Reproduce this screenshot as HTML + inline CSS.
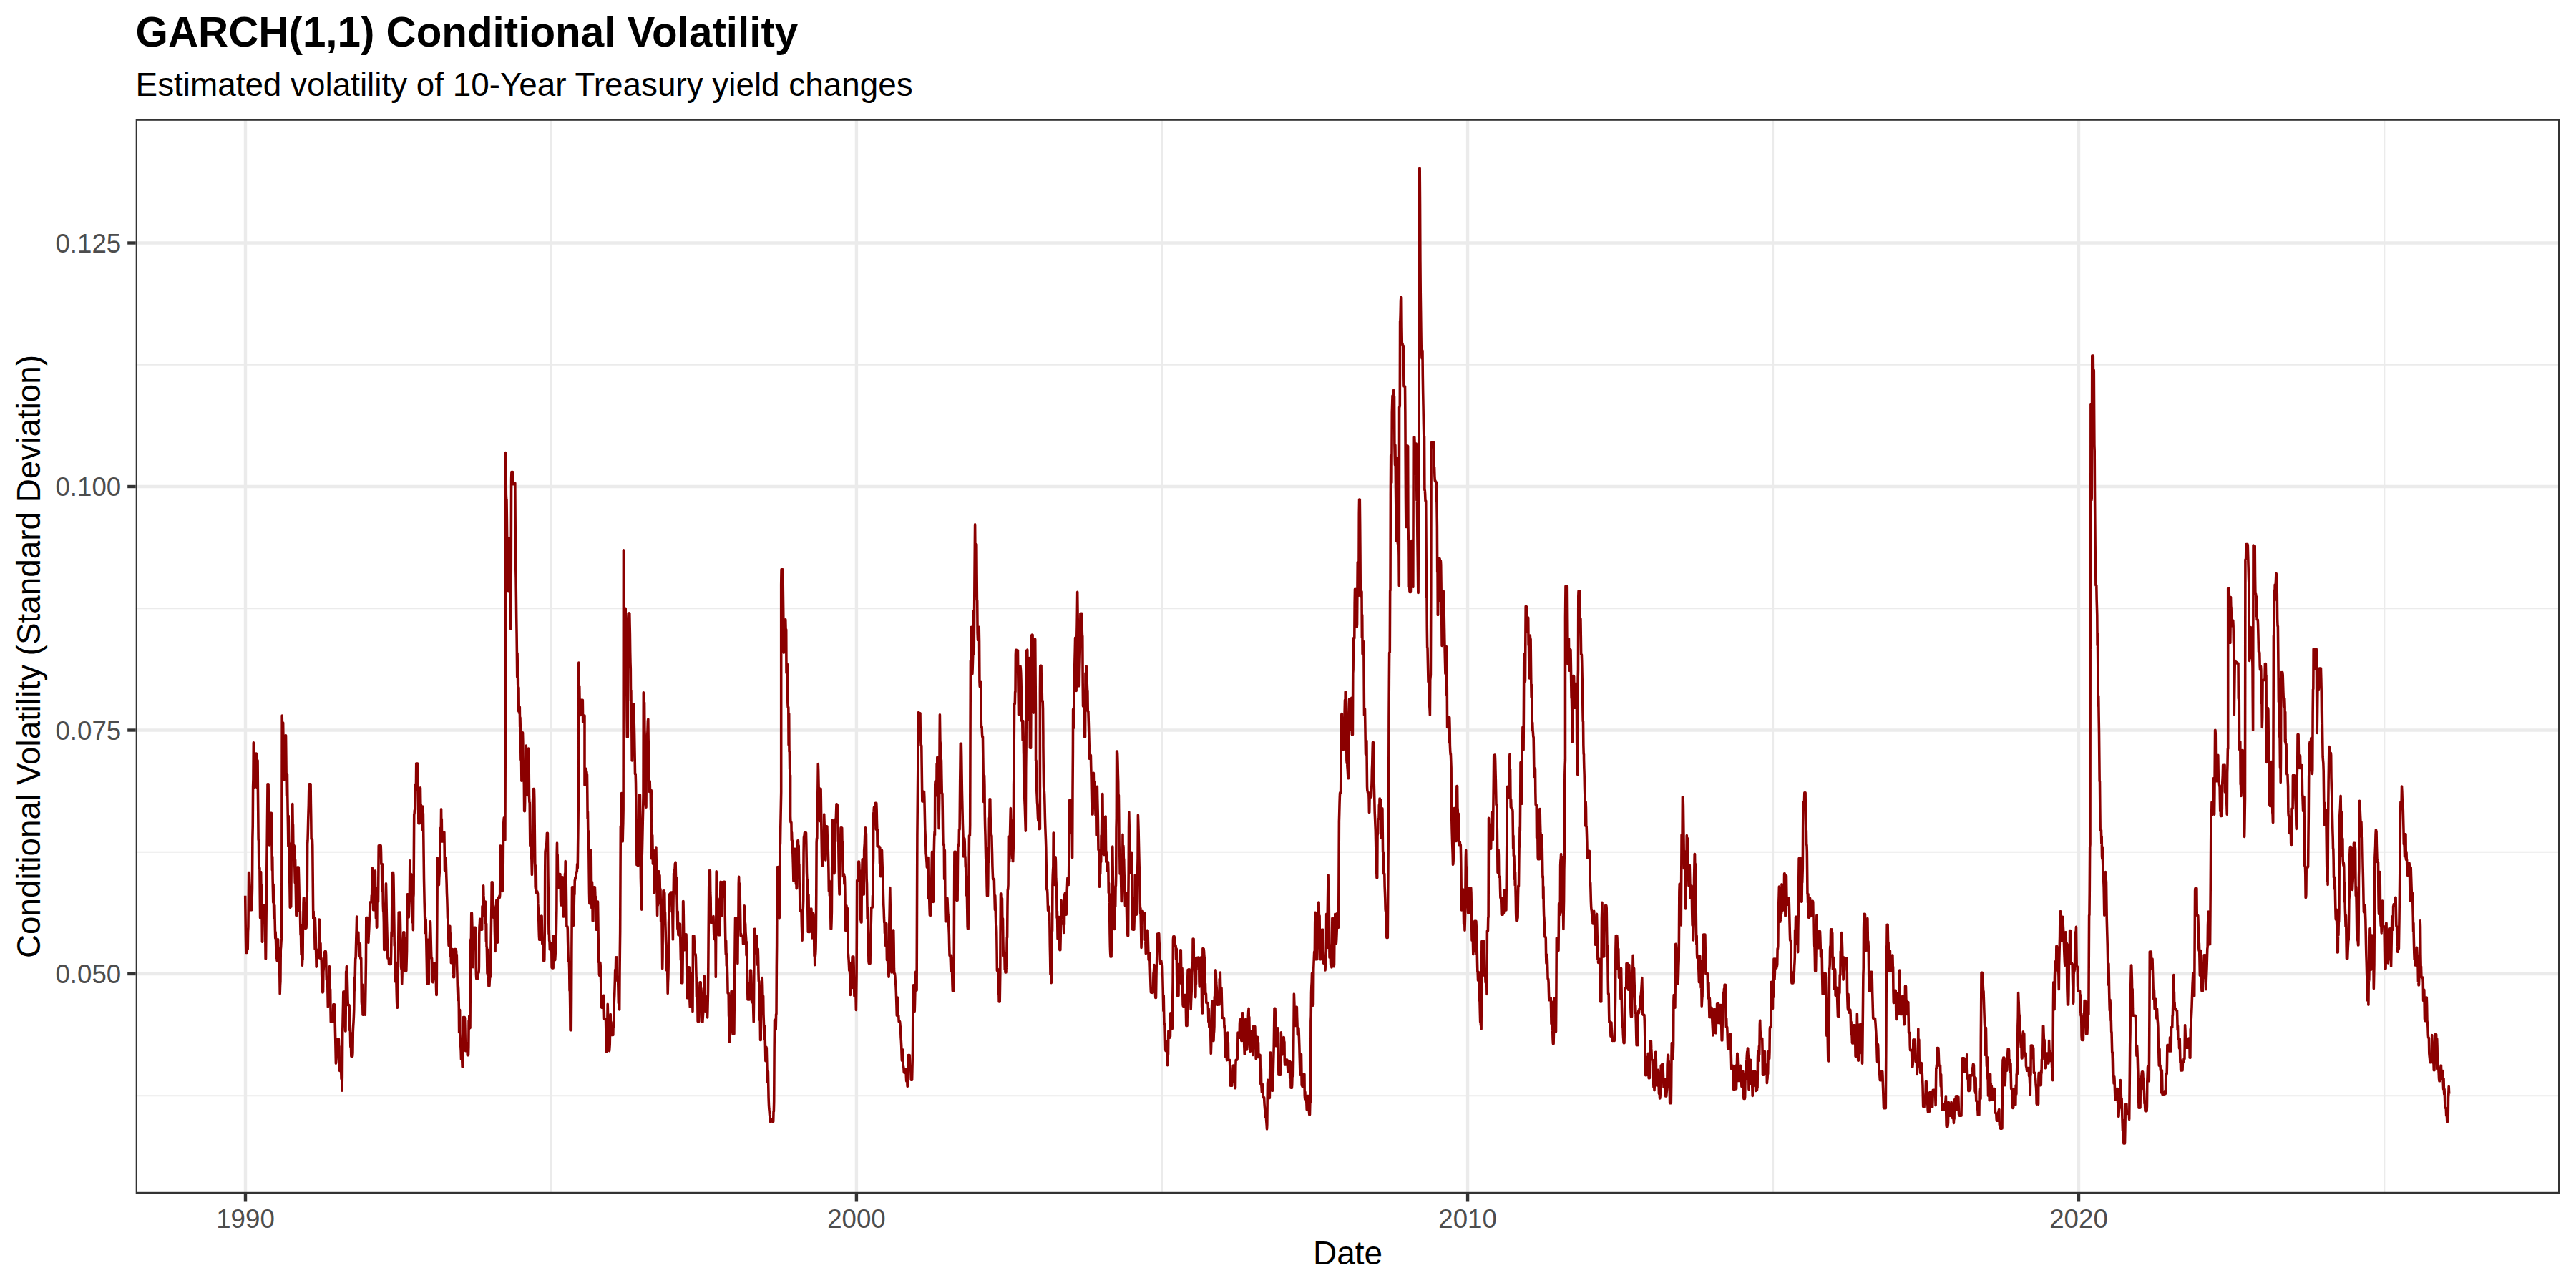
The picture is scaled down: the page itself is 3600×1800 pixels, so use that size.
<!DOCTYPE html>
<html><head><meta charset="utf-8"><title>GARCH(1,1) Conditional Volatility</title>
<style>
html,body{margin:0;padding:0;background:#fff;}
body{width:3600px;height:1800px;overflow:hidden;}
svg{display:block;}
text{font-family:"Liberation Sans",Arial,Helvetica,sans-serif;}
.tk{font-size:36.67px;fill:#4d4d4d;}
.ttl{font-size:58.33px;font-weight:bold;fill:#000;}
.sub{font-size:45.83px;fill:#000;}
.ax{font-size:45.83px;fill:#000;}
</style></head><body>
<svg width="3600" height="1800" viewBox="0 0 3600 1800">
<rect width="3600" height="1800" fill="#fff"/>
<text x="189.6" y="65.2" class="ttl" id="ttl">GARCH(1,1) Conditional Volatility</text>
<text x="189.6" y="134.3" class="sub" id="sub">Estimated volatility of 10-Year Treasury yield changes</text>
<g id="grid">
<line x1="189.7" x2="3577.2" y1="1531.25" y2="1531.25" stroke="#ebebeb" stroke-width="2.2"/>
<line x1="189.7" x2="3577.2" y1="1190.75" y2="1190.75" stroke="#ebebeb" stroke-width="2.2"/>
<line x1="189.7" x2="3577.2" y1="850.25" y2="850.25" stroke="#ebebeb" stroke-width="2.2"/>
<line x1="189.7" x2="3577.2" y1="509.75" y2="509.75" stroke="#ebebeb" stroke-width="2.2"/>
<line y1="166.6" y2="1668.0" x1="769.96" x2="769.96" stroke="#ebebeb" stroke-width="2.2"/>
<line y1="166.6" y2="1668.0" x1="1624.12" x2="1624.12" stroke="#ebebeb" stroke-width="2.2"/>
<line y1="166.6" y2="1668.0" x1="2478.04" x2="2478.04" stroke="#ebebeb" stroke-width="2.2"/>
<line y1="166.6" y2="1668.0" x1="3332.19" x2="3332.19" stroke="#ebebeb" stroke-width="2.2"/>
<line x1="189.7" x2="3577.2" y1="1361.00" y2="1361.00" stroke="#ebebeb" stroke-width="4.4"/>
<line x1="189.7" x2="3577.2" y1="1020.50" y2="1020.50" stroke="#ebebeb" stroke-width="4.4"/>
<line x1="189.7" x2="3577.2" y1="680.00" y2="680.00" stroke="#ebebeb" stroke-width="4.4"/>
<line x1="189.7" x2="3577.2" y1="339.50" y2="339.50" stroke="#ebebeb" stroke-width="4.4"/>
<line y1="166.6" y2="1668.0" x1="343.00" x2="343.00" stroke="#ebebeb" stroke-width="4.4"/>
<line y1="166.6" y2="1668.0" x1="1196.92" x2="1196.92" stroke="#ebebeb" stroke-width="4.4"/>
<line y1="166.6" y2="1668.0" x1="2051.08" x2="2051.08" stroke="#ebebeb" stroke-width="4.4"/>
<line y1="166.6" y2="1668.0" x1="2905.00" x2="2905.00" stroke="#ebebeb" stroke-width="4.4"/>
</g>
<polyline id="ln" fill="none" stroke="#8b0000" stroke-width="3.56" stroke-linejoin="round" stroke-linecap="butt" points="342.7,1251.7 343.06,1281.8 343.41,1310.8 343.77,1331.4 344.13,1328.4 344.49,1331.4 344.84,1331.4 345.2,1331.4 345.54,1324.2 345.89,1327 346.23,1326 346.58,1302.5 346.92,1295.6 347.27,1262.1 347.61,1219.5 347.96,1220.2 348.3,1219.5 348.65,1231.5 349,1239.3 349.35,1255 349.7,1267.5 350.05,1271.8 350.4,1260.4 350.75,1269.5 351.1,1271.8 351.45,1271.8 351.8,1271.8 352.16,1257.2 352.51,1241.7 352.87,1171.6 353.23,1154.5 353.59,1099.5 353.94,1088.5 354.3,1037.9 354.63,1054.4 354.97,1096 355.3,1100.3 355.63,1100.3 355.97,1100.3 356.3,1100.3 356.68,1067.4 357.05,1079.6 357.43,1092.8 357.8,1053 358.12,1094.7 358.45,1053.7 358.77,1053.3 359.1,1090.8 359.43,1100.6 359.75,1082.2 360.07,1062.7 360.4,1101.9 360.76,1135.2 361.11,1173.2 361.47,1175.1 361.83,1212.5 362.19,1212.6 362.54,1212.9 362.9,1212.9 363.25,1250.6 363.6,1282.8 363.95,1255.4 364.3,1239.6 364.65,1218.5 365,1252.8 365.35,1236.2 365.7,1241.7 366.05,1282.1 366.4,1316.3 366.72,1315.9 367.05,1286.8 367.38,1284.9 367.7,1265 368.02,1265 368.35,1265 368.68,1265 369,1265 369.36,1276.9 369.71,1265 370.07,1289.6 370.43,1275.9 370.79,1311.5 371.14,1340 371.5,1340 371.86,1306.6 372.21,1270.8 372.57,1237.6 372.93,1201.6 373.29,1167.8 373.64,1133.1 374,1095.9 374.36,1113.6 374.71,1134.1 375.07,1095.9 375.43,1119.7 375.79,1137.4 376.14,1157.6 376.5,1181 376.86,1136.3 377.21,1136.3 377.57,1136.3 377.93,1136.3 378.29,1136.3 378.64,1136.3 379,1136.3 379.35,1136.3 379.7,1158.1 380.05,1188.4 380.4,1216.1 380.75,1197.4 381.1,1228 381.43,1245 381.77,1261.3 382.1,1236 382.43,1258.2 382.77,1281.4 383.1,1271 383.43,1283.5 383.77,1265.3 384.1,1283.5 384.43,1299.3 384.77,1311.1 385.1,1302.5 385.43,1310.1 385.77,1323.1 386.1,1338.4 386.43,1325.4 386.77,1332.9 387.1,1342.5 387.48,1317.9 387.85,1313.8 388.23,1312.9 388.6,1312.9 388.93,1328.6 389.25,1344.2 389.57,1325.5 389.9,1341.1 390.23,1327.4 390.55,1346.3 390.88,1367.4 391.2,1388.9 391.56,1377.2 391.91,1371.7 392.27,1327.2 392.63,1323.5 392.99,1316.5 393.34,1311.7 393.7,1303.7 394.2,1000 394.56,1017.1 394.91,1042.8 395.27,1067.1 395.63,1010 395.99,1037.9 396.34,1063.2 396.7,1090.2 397.06,1088.2 397.41,1036.9 397.77,1040.6 398.13,1034.2 398.49,1028.2 398.84,1027.8 399.2,1027.8 399.52,1027.8 399.85,1056.7 400.18,1089.3 400.5,1112 400.82,1112 401.15,1112 401.48,1081.6 401.8,1112 402.15,1134.9 402.5,1155.7 402.85,1182.6 403.2,1140.3 403.55,1162.7 403.9,1181.4 404.25,1203.6 404.6,1220.1 404.95,1242.5 405.3,1268.3 405.65,1268.3 406,1263.2 406.35,1262.2 406.7,1267.3 407.05,1221.7 407.4,1177.9 407.75,1182.7 408.1,1180.6 408.45,1127.9 408.8,1123.6 409.16,1152.8 409.51,1152.6 409.87,1182.6 410.23,1182.6 410.59,1182.6 410.94,1181.4 411.3,1182.6 411.62,1200.8 411.95,1218.8 412.27,1233.8 412.6,1201.6 412.93,1220.8 413.25,1241 413.57,1256.9 413.9,1279.4 414.23,1279.4 414.57,1279.4 414.9,1243.1 415.23,1248.4 415.57,1212 415.9,1212 416.23,1212 416.57,1212 416.9,1212 417.26,1212 417.61,1224.4 417.97,1239.3 418.33,1261.4 418.69,1273.4 419.04,1273.4 419.4,1273.4 419.73,1291.8 420.07,1306.5 420.4,1296.6 420.73,1319.9 421.07,1334 421.4,1292.6 421.73,1313.6 422.07,1331.5 422.4,1349.1 422.72,1340.6 423.05,1340.7 423.38,1298.1 423.7,1293.7 424.02,1263.4 424.35,1254.9 424.68,1254.9 425,1254.9 425.33,1270.3 425.67,1286.8 426,1297.1 426.33,1262.2 426.67,1281.7 427,1297.1 427.33,1297.1 427.67,1297.1 428,1297 428.33,1290 428.67,1287.5 429,1247.3 429.33,1246.5 429.67,1179 430,1175 430.33,1162.4 430.67,1147.6 431,1135.9 431.33,1125.8 431.67,1106.3 432,1095.9 432.34,1095.9 432.69,1095.9 433.03,1095.9 433.38,1095.9 433.72,1095.9 434.07,1095.9 434.41,1122.9 434.76,1143.4 435.1,1172.5 435.43,1172.5 435.77,1172.5 436.1,1172.5 436.43,1172.5 436.77,1181.6 437.1,1217.9 437.43,1252.5 437.77,1283.5 438.1,1273.2 438.43,1283.5 438.77,1283.5 439.1,1283.5 439.43,1300.5 439.77,1308.8 440.1,1326.3 440.43,1283.5 440.77,1294.7 441.1,1305 441.43,1322.4 441.77,1335 442.1,1351.1 442.44,1348.7 442.78,1349.8 443.12,1329.8 443.47,1327.5 443.81,1330.7 444.15,1329.8 444.49,1330.6 444.83,1332.4 445.18,1338.5 445.52,1337.4 445.86,1285.1 446.2,1285.1 446.56,1302.3 446.91,1322.4 447.27,1339.1 447.63,1339.1 447.99,1318.4 448.34,1339.1 448.7,1339.1 449.06,1339.1 449.41,1347.8 449.77,1367.5 450.13,1346.5 450.49,1371.4 450.84,1386.9 451.2,1386.9 451.53,1385.5 451.87,1357.9 452.2,1354.4 452.53,1347.1 452.87,1340.1 453.2,1334.3 453.53,1334.3 453.87,1330.2 454.2,1329.6 454.55,1348.8 454.9,1329.6 455.25,1329.6 455.6,1334.5 455.95,1353 456.3,1369.3 456.63,1369.3 456.97,1369.3 457.3,1369.3 457.63,1369.3 457.97,1388.6 458.3,1407.1 458.63,1397.5 458.97,1391.3 459.3,1380.5 459.63,1368.5 459.97,1357.3 460.3,1350.7 460.63,1350.7 460.97,1370.3 461.3,1395.2 461.63,1382.5 461.97,1408.8 462.3,1428.3 462.63,1415.3 462.97,1428.3 463.3,1428.3 463.66,1428.3 464.01,1428.3 464.37,1428.3 464.73,1428.3 465.09,1428.3 465.44,1428.3 465.8,1403.7 466.13,1403.7 466.45,1403.7 466.78,1403.7 467.11,1403.7 467.44,1403.7 467.76,1407.8 468.09,1422.8 468.42,1439.2 468.75,1453.1 469.07,1469.1 469.4,1486.3 469.76,1483.9 470.11,1479.6 470.47,1475.8 470.83,1469.7 471.19,1461.4 471.54,1459.8 471.9,1451.7 472.26,1452.7 472.61,1451.7 472.97,1451.7 473.33,1451.7 473.69,1462.1 474.04,1462.1 474.4,1495.5 474.73,1496.5 475.05,1495.5 475.38,1495.5 475.71,1495.5 476.04,1495.5 476.36,1495.5 476.69,1495.5 477.02,1507.6 477.35,1495.5 477.67,1502.2 478,1524.2 478.38,1504.6 478.75,1440.2 479.12,1421.9 479.5,1404.7 479.83,1386.1 480.17,1386.1 480.5,1386.1 480.83,1386.1 481.17,1393.9 481.5,1386.1 481.88,1406.1 482.25,1428.4 482.62,1440.9 483,1440.9 483.33,1400.3 483.67,1357.7 484,1366 484.33,1350.7 484.67,1350.7 485,1350.7 485.34,1367.4 485.69,1381.5 486.03,1396.6 486.38,1404.7 486.72,1404.7 487.07,1404.7 487.41,1404.2 487.76,1404.7 488.1,1404.7 488.45,1422.4 488.79,1439.9 489.14,1426 489.48,1445.8 489.83,1463 490.18,1449.7 490.52,1463.4 490.87,1476.2 491.22,1444.3 491.56,1457.8 491.91,1471.9 492.25,1476.2 492.6,1476.2 492.96,1471.3 493.31,1441.6 493.67,1433.8 494.03,1428.1 494.39,1420.3 494.74,1410.5 495.1,1384.5 495.43,1384.5 495.77,1365.8 496.1,1373.4 496.43,1352.9 496.77,1339.1 497.1,1339.1 497.48,1323.3 497.85,1309.7 498.23,1297.9 498.6,1281.1 498.93,1288.8 499.25,1303.7 499.57,1318.9 499.9,1318.9 500.23,1312.1 500.55,1318.9 500.88,1303.1 501.2,1318.9 501.56,1336.3 501.91,1318.9 502.27,1318.9 502.63,1335.1 502.99,1318.9 503.34,1319.5 503.7,1339.1 504.03,1339.1 504.37,1339.1 504.7,1339.1 505.03,1368.5 505.37,1400.6 505.7,1404.7 506.03,1400.9 506.37,1376.1 506.7,1404.7 507.03,1418.2 507.35,1418.2 507.68,1418.2 508.01,1418.2 508.34,1404.7 508.66,1404.7 508.99,1404.7 509.32,1404.7 509.65,1404.7 509.97,1404.7 510.3,1418.2 510.68,1396.3 511.05,1372.9 511.43,1344 511.8,1282.6 512.13,1282.6 512.47,1282.6 512.8,1282.6 513.13,1282.6 513.47,1282.6 513.8,1286.8 514.13,1297.3 514.47,1305.9 514.8,1317.3 515.16,1309.1 515.51,1303.4 515.87,1296.2 516.23,1284.7 516.59,1278 516.94,1267.4 517.3,1260.8 517.63,1260.8 517.97,1260.8 518.3,1260.8 518.63,1260.8 518.97,1260.8 519.3,1251.3 519.63,1256.7 519.97,1213 520.3,1213 520.62,1234.5 520.95,1232.5 521.27,1260.4 521.6,1271.8 521.92,1271.8 522.25,1271.8 522.57,1271.8 522.9,1271.8 523.27,1234.9 523.65,1238.6 524.02,1217 524.4,1217 524.73,1243.6 525.07,1265.1 525.4,1283.2 525.73,1244.6 526.07,1267.7 526.4,1296.1 526.76,1296.1 527.11,1240.9 527.47,1243 527.83,1246.9 528.19,1248.7 528.54,1259.7 528.9,1215.4 529.23,1181.7 529.57,1181.7 529.9,1181.7 530.23,1181.7 530.57,1181.7 530.9,1181.7 531.23,1193.9 531.55,1181.7 531.88,1187 532.2,1181.7 532.52,1190.6 532.85,1207.8 533.17,1207.8 533.5,1207.8 533.86,1245 534.21,1229.3 534.57,1207.8 534.93,1233.5 535.29,1263.7 535.64,1273.4 536,1273.4 536.38,1288.9 536.75,1327.4 537.12,1327.4 537.5,1327.4 537.83,1306.6 538.17,1293.5 538.5,1282.3 538.83,1263.1 539.17,1248.8 539.5,1234.7 539.84,1251.1 540.19,1270.9 540.53,1287.3 540.88,1300 541.22,1312.7 541.57,1326.1 541.91,1339.1 542.26,1339.1 542.6,1339.1 542.93,1339.1 543.27,1341.3 543.6,1347.5 543.93,1347.5 544.27,1347.5 544.6,1347.5 544.93,1347.5 545.27,1347.5 545.6,1347.5 545.96,1347.5 546.31,1347.5 546.67,1330.2 547.03,1302.5 547.39,1309.1 547.74,1269.4 548.1,1219.5 548.46,1219.5 548.81,1219.5 549.17,1219.5 549.53,1219.5 549.89,1223.5 550.24,1244.5 550.6,1273.4 550.93,1294.4 551.25,1321.5 551.58,1316.9 551.9,1337.9 552.23,1360.5 552.55,1371.9 552.88,1344.9 553.2,1371.9 553.56,1371.9 553.91,1371.9 554.27,1388.8 554.63,1401.4 554.99,1408.1 555.34,1398 555.7,1408.1 556.08,1375.3 556.45,1341.5 556.83,1306.4 557.2,1275 557.53,1300.5 557.87,1288.5 558.2,1275 558.53,1275 558.87,1275 559.2,1275 559.53,1291.3 559.87,1310.8 560.2,1329 560.58,1350.6 560.95,1354.3 561.33,1348.3 561.7,1375.3 562.05,1362.7 562.4,1349 562.75,1337.3 563.1,1329.2 563.45,1314.2 563.8,1302.8 564.13,1302.8 564.47,1302.8 564.8,1302.8 565.13,1317.9 565.47,1311.4 565.8,1325.4 566.13,1343.3 566.47,1356.6 566.8,1356.6 567.13,1356.6 567.47,1356.6 567.8,1356.6 568.17,1343.7 568.55,1329.2 568.92,1283 569.3,1249.8 569.63,1249.8 569.97,1249.8 570.3,1263 570.63,1281.9 570.97,1256.6 571.3,1281.9 571.67,1271.1 572.05,1258.8 572.42,1249.8 572.8,1202.9 573.12,1228.4 573.45,1224.5 573.77,1248.2 574.1,1222 574.42,1221.3 574.75,1245.9 575.07,1222.1 575.4,1248.2 575.73,1266.7 576.07,1288.9 576.4,1274.1 576.73,1255.3 577.07,1278.6 577.4,1299.6 577.73,1254.7 578.07,1249.3 578.4,1189.1 578.73,1138.4 579.07,1137.4 579.4,1132.1 579.73,1132.1 580.07,1132.1 580.4,1132.1 580.73,1096.1 581.07,1102.2 581.4,1103.6 581.73,1067.1 582.07,1067.1 582.4,1067.1 582.76,1067.1 583.11,1076.1 583.47,1067.1 583.83,1068.2 584.19,1095 584.54,1121.5 584.9,1150.7 585.23,1148.2 585.55,1150.7 585.88,1150.7 586.2,1150.7 586.52,1150.7 586.85,1103.5 587.17,1104 587.5,1100.9 587.86,1127.1 588.21,1124 588.57,1127.1 588.93,1127.1 589.29,1127.1 589.64,1127.1 590,1127.1 590.36,1159.4 590.71,1127.1 591.07,1152.7 591.43,1136.8 591.79,1168 592.14,1197.6 592.5,1228 592.83,1244.5 593.17,1261.7 593.5,1274.4 593.83,1289.4 594.17,1303.7 594.5,1282.3 594.83,1293 595.17,1285.3 595.5,1303.7 595.83,1318.2 596.15,1335.5 596.48,1352.6 596.81,1375.3 597.14,1346 597.46,1343.6 597.79,1313.3 598.12,1327.6 598.45,1341.1 598.77,1359.1 599.1,1375.3 599.43,1369.6 599.77,1325.5 600.1,1319 600.43,1308.9 600.77,1300.3 601.1,1287.7 601.46,1287.7 601.81,1299 602.17,1314 602.53,1328 602.89,1339.1 603.24,1339.1 603.6,1339.1 603.98,1357.9 604.35,1358 604.73,1372.8 605.1,1372.8 605.45,1372.8 605.8,1345.7 606.15,1354.9 606.5,1364.1 606.85,1345.7 607.2,1345.7 607.53,1345.7 607.87,1345.7 608.2,1353.6 608.53,1368.7 608.87,1362.3 609.2,1359.5 609.53,1380.1 609.87,1390.4 610.2,1390.4 610.5,1336.6 610.8,1291.1 611.1,1244.9 611.4,1199.4 611.73,1211 612.07,1215 612.4,1222.4 612.73,1228.1 613.07,1231.2 613.4,1236.6 613.72,1227.1 614.04,1222.7 614.36,1216.4 614.68,1205.8 615,1195.8 615.32,1158 615.64,1157 615.96,1160.3 616.28,1158.9 616.6,1130.8 616.94,1162.2 617.28,1144.8 617.62,1174.8 617.96,1176 618.3,1176 618.62,1176 618.94,1163.1 619.26,1171.3 619.58,1163.1 619.9,1163.1 620.22,1163.1 620.54,1167.9 620.86,1163.1 621.18,1186.3 621.5,1216.4 621.82,1216.4 622.14,1216.4 622.46,1216.4 622.78,1216.4 623.1,1199.4 623.44,1212 623.79,1224.1 624.13,1234.2 624.47,1248.1 624.81,1256 625.16,1268.5 625.5,1282.6 625.82,1285.1 626.14,1296.2 626.46,1300.4 626.78,1311.5 627.1,1321.4 627.44,1294.3 627.78,1294.3 628.12,1294.3 628.46,1294.3 628.8,1294.3 629.12,1311.7 629.44,1335.7 629.76,1304.6 630.08,1326.8 630.4,1345.6 630.73,1326.6 631.07,1326.6 631.4,1326.6 631.73,1326.6 632.07,1326.6 632.4,1326.6 632.72,1343.5 633.04,1360 633.36,1347.8 633.68,1365.8 634,1365.8 634.32,1365.8 634.64,1365.8 634.96,1346.9 635.28,1326.6 635.6,1326.6 635.93,1326.6 636.27,1326.6 636.6,1326.6 636.93,1326.6 637.27,1329 637.6,1329 637.94,1343.1 638.28,1334.4 638.62,1349.8 638.96,1361.3 639.3,1377.5 639.63,1387.4 639.97,1397.7 640.3,1377.5 640.63,1381.9 640.97,1392.6 641.3,1407.8 641.62,1442.8 641.94,1439 642.26,1424.8 642.58,1411.2 642.9,1444.1 643.22,1450.8 643.54,1459.2 643.86,1463.3 644.18,1469.1 644.5,1480.4 644.82,1480.4 645.14,1480.4 645.46,1480.4 645.78,1481 646.1,1490.9 646.44,1490.9 646.79,1490.9 647.13,1446.9 647.47,1421.5 647.81,1421.5 648.16,1421.5 648.5,1421.5 648.85,1421.5 649.2,1421.5 649.55,1422.9 649.9,1437.7 650.25,1455.6 650.6,1468.7 650.93,1468.7 651.27,1468.7 651.6,1468.7 651.93,1468.7 652.27,1468.7 652.6,1457.8 652.92,1457.8 653.24,1474.8 653.56,1464.7 653.88,1474.8 654.2,1474.8 654.52,1474.8 654.84,1462.9 655.16,1426.4 655.48,1438.6 655.8,1419.5 656.1,1436.4 656.4,1424.1 656.7,1436.4 657,1436.4 657.4,1365 657.8,1312.9 658.12,1312.9 658.44,1311.4 658.76,1276.1 659.08,1277.3 659.4,1276.1 659.74,1288.2 660.08,1304 660.42,1320.8 660.76,1341.1 661.1,1351.7 661.43,1307.3 661.77,1318.2 662.1,1296.3 662.43,1296.3 662.77,1296.3 663.1,1296.3 663.43,1296.3 663.77,1296.3 664.1,1296.3 664.43,1296.3 664.77,1318.1 665.1,1347.2 665.44,1361.8 665.79,1367.8 666.13,1367.8 666.47,1367.8 666.81,1367.8 667.16,1367.8 667.5,1367.8 667.82,1359.3 668.14,1359.3 668.46,1359.3 668.78,1359.3 669.1,1359.3 669.42,1351.3 669.74,1307.2 670.06,1294.4 670.38,1291.1 670.7,1284.2 671.03,1285.5 671.35,1289.8 671.67,1293.2 672,1299.2 672.33,1298 672.67,1289 673,1299.2 673.33,1299.2 673.67,1299.2 674,1266.5 674.32,1266.5 674.64,1266.5 674.96,1266.5 675.28,1266.5 675.6,1237.8 675.92,1251.9 676.24,1256.2 676.56,1268.4 676.88,1272.4 677.2,1281 677.5,1281 677.8,1271.8 678.1,1266.2 678.4,1260 678.72,1290.9 679.04,1288.5 679.36,1315.6 679.68,1290.9 680,1323 680.32,1323 680.64,1338.9 680.97,1360.4 681.29,1342.7 681.61,1363.3 681.93,1327.4 682.26,1340.2 682.58,1356.4 682.9,1377.9 683.24,1377.9 683.59,1377.9 683.93,1377.9 684.27,1371 684.61,1365.4 684.96,1365.4 685.3,1365.4 685.62,1347 685.94,1326.5 686.26,1307.1 686.58,1286.2 686.9,1264.4 687.2,1232.9 687.5,1248.3 687.8,1232.9 688.1,1232.9 688.43,1242.1 688.77,1255.1 689.1,1262.5 689.43,1267.4 689.77,1270.9 690.1,1282.6 690.43,1282.6 690.77,1282.6 691.1,1282.6 691.43,1302 691.77,1315.1 692.1,1329.5 692.44,1280.7 692.78,1271.1 693.12,1266.3 693.46,1265.1 693.8,1258 694.12,1288.4 694.44,1259.1 694.76,1284.7 695.08,1291.8 695.4,1317.3 695.73,1300.1 696.07,1272.8 696.4,1254.3 696.73,1254.3 697.07,1254.3 697.4,1254.3 697.72,1253.1 698.04,1251.7 698.36,1254.3 698.68,1250.4 699,1182.1 699.32,1202.3 699.64,1182.1 699.96,1194.2 700.28,1211.1 700.6,1226.1 700.92,1226.1 701.24,1226.1 701.56,1226.1 701.88,1226.1 702.2,1245.5 702.55,1235.7 702.9,1223 703.25,1210.4 703.6,1152.3 703.95,1147 704.3,1142.9 704.62,1147 704.94,1152.5 705.26,1160 705.58,1165.7 705.9,1174 706.4,1007.6 706.7,632.6 707.03,657.4 707.35,691.5 707.67,697.8 708,697.8 708.33,722.2 708.65,751.6 708.97,780.1 709.3,808.7 709.63,808.7 709.97,808.7 710.3,826.7 710.63,808 710.97,804.7 711.3,751.6 711.62,778.2 711.95,760.5 712.27,782.3 712.6,802.2 712.93,840.8 713.27,837.4 713.6,878.8 713.93,839.1 714.27,798.3 714.6,670.1 714.92,659.6 715.23,670.1 715.55,670.1 715.87,670.1 716.18,670.1 716.5,659.6 716.83,676.7 717.15,676.7 717.47,676.7 717.8,676.7 718.14,675 718.48,676.7 718.82,676.7 719.16,676.7 719.5,675 719.8,675 720.1,721.1 720.4,763 720.73,793.1 721.07,808.3 721.4,834.8 721.73,863.9 722.07,884.7 722.4,913 722.73,946.2 723.05,913 723.38,934.4 723.7,957.1 724,947.3 724.3,947.3 724.63,993.7 724.97,960.9 725.3,996.2 725.63,988 725.97,988 726.3,988 726.63,1016.1 726.97,1002.8 727.3,1016.1 727.62,1038.1 727.94,1061.9 728.26,1033.6 728.58,1062.7 728.9,1091.3 729.22,1087.6 729.54,1059 729.86,1064.7 730.18,1066.8 730.5,1023.8 730.8,1035.6 731.1,1056.7 731.4,1072.7 731.7,1086.8 732.02,1086.8 732.34,1096.2 732.66,1133.6 732.98,1133.6 733.3,1133.6 733.63,1121.8 733.97,1067.1 734.3,1084 734.63,1094.5 734.97,1067.1 735.3,1042 735.64,1054.2 735.98,1069.8 736.32,1081.8 736.66,1096.9 737,1111.4 737.32,1095.9 737.64,1079 737.96,1070.5 738.28,1052.7 738.6,1046 738.92,1047.9 739.24,1081.3 739.56,1113.7 739.88,1121.1 740.2,1121.1 740.52,1153.6 740.84,1181.7 741.16,1181.7 741.48,1181.7 741.8,1181.7 742.12,1200 742.44,1181.7 742.76,1192.5 743.08,1208.7 743.4,1222.5 743.73,1210 744.07,1204.4 744.4,1125.9 744.73,1115.7 745.07,1112 745.4,1102.5 745.75,1102.5 746.1,1102.5 746.45,1102.5 746.8,1115.6 747.15,1149.4 747.5,1181.7 747.83,1214 748.17,1239 748.5,1242.2 748.83,1228 749.17,1210.1 749.5,1242.2 749.83,1248.3 750.17,1248.3 750.5,1248.3 750.83,1245.7 751.17,1248.3 751.5,1248.3 751.82,1262.9 752.14,1268.3 752.46,1273 752.78,1285.4 753.1,1298.8 753.44,1308.8 753.79,1313.3 754.13,1313.3 754.47,1298.8 754.81,1299.5 755.16,1307.7 755.5,1313.3 755.82,1313 756.14,1280.2 756.46,1280.2 756.78,1280.4 757.1,1280.2 757.44,1300.2 757.78,1318.9 758.12,1318.9 758.46,1318.9 758.8,1318.9 759.13,1339.1 759.47,1342.4 759.8,1334.5 760.13,1322.5 760.47,1321.7 760.8,1342.4 761.1,1317.2 761.4,1289.4 761.7,1220.7 762,1189.8 762.34,1188.1 762.69,1184.8 763.03,1186.2 763.37,1179.2 763.71,1181.3 764.06,1173.6 764.4,1164.3 764.72,1164.3 765.04,1164.3 765.36,1164.3 765.68,1192.6 766,1226.1 766.33,1249.5 766.67,1282 767,1304.9 767.33,1299.9 767.67,1314.9 768,1314.9 768.35,1327 768.7,1327 769.05,1327 769.4,1326.1 769.75,1318.2 770.1,1327 770.44,1327 770.79,1328.6 771.13,1352.1 771.47,1352.9 771.81,1352.9 772.16,1352.9 772.5,1352.9 772.82,1352.9 773.14,1352.9 773.46,1308.4 773.78,1308.4 774.1,1308.4 774.42,1313.3 774.74,1319.2 775.06,1328.8 775.38,1335.3 775.7,1341.6 776.02,1336.4 776.34,1330.1 776.66,1322.7 776.98,1311.5 777.3,1306.8 777.6,1288.5 777.9,1270 778.2,1192.8 778.5,1178 778.85,1208.6 779.2,1194.5 779.55,1219.8 779.9,1240.6 780.25,1240.6 780.6,1240.6 780.92,1221.6 781.24,1221.6 781.56,1221.6 781.88,1221.6 782.2,1221.6 782.53,1221.6 782.87,1221.6 783.2,1236.8 783.53,1259 783.87,1264.9 784.2,1264.9 784.53,1264.9 784.87,1238.7 785.2,1252.5 785.53,1225.7 785.87,1225.7 786.2,1225.7 786.52,1246.1 786.84,1266 787.16,1281 787.48,1264 787.8,1281 788.14,1281 788.49,1249.1 788.83,1247.5 789.17,1252.9 789.51,1220.9 789.86,1229.4 790.2,1203.5 790.54,1210 790.88,1244.4 791.22,1232.5 791.56,1259 791.9,1294.7 792.24,1294.7 792.59,1294.7 792.93,1294.7 793.27,1298 793.61,1315.7 793.96,1331.4 794.3,1343.2 794.64,1343.2 794.99,1343.2 795.33,1343.2 795.67,1356 796.01,1384.4 796.36,1379.6 796.7,1403.7 797.02,1439.7 797.34,1439.7 797.66,1439.7 797.98,1439.7 798.3,1439.7 798.6,1393.4 798.9,1325.7 799.2,1283.3 799.5,1239.8 799.85,1249.1 800.2,1239.8 800.55,1239.8 800.9,1270.1 801.25,1293.1 801.6,1293.1 801.93,1293.1 802.27,1264 802.6,1245.7 802.93,1249.9 803.27,1230.1 803.6,1230.1 803.94,1226 804.29,1227 804.63,1226.9 804.97,1225 805.31,1221.8 805.66,1219.5 806,1218 806.32,1218 806.64,1208 806.96,1207 807.28,1213 807.6,1185.7 807.9,1160.5 808.2,1133.5 808.5,1103.5 808.8,1074.7 808.8,991.3 808.8,926.1 809.12,955 809.44,981.6 809.76,958.8 810.08,980.9 810.4,999.5 810.73,999.5 811.07,999.5 811.4,999.5 811.73,978.3 812.07,978.3 812.4,978.3 812.72,978.3 813.03,978.3 813.35,978.3 813.67,978.3 813.98,978.3 814.3,978.3 814.65,1009.3 815,1009.3 815.35,1009.3 815.7,1009.3 816.03,1009.3 816.35,1005.2 816.67,1000.1 817,1000.1 817,1097.3 817.32,1097.3 817.63,1074.3 817.95,1074.3 818.27,1074.3 818.58,1074.3 818.9,1074.3 819.22,1074.5 819.54,1080.5 819.86,1078.8 820.18,1081.7 820.5,1082.8 820.82,1108.4 821.14,1144.2 821.46,1134.4 821.78,1161.5 822.1,1161.5 822.45,1161.5 822.8,1187.8 823.15,1219.8 823.5,1248.5 823.85,1262.8 824.2,1262.8 824.53,1262.2 824.87,1238.1 825.2,1235.6 825.53,1230.7 825.87,1234.5 826.2,1188.1 826.53,1231.5 826.87,1268.9 827.2,1254.1 827.53,1232.8 827.87,1242.9 828.2,1287.1 828.56,1287.1 828.91,1287.1 829.27,1262.3 829.62,1243.5 829.98,1239.8 830.33,1239.8 830.69,1239.8 831.04,1239.8 831.4,1239.8 831.73,1246.9 832.07,1261.7 832.4,1253.1 832.73,1265.4 833.07,1299.2 833.4,1299.2 833.75,1293.7 834.1,1284.4 834.45,1276.8 834.8,1267.3 835.15,1263.9 835.5,1260 835.82,1280.5 836.14,1307 836.46,1333.5 836.78,1345.2 837.1,1345.2 837.44,1361.6 837.79,1363.4 838.13,1359 838.47,1363.4 838.81,1345.2 839.16,1348.7 839.5,1363.4 839.84,1377.1 840.19,1390.8 840.53,1404 840.87,1408.2 841.21,1395.5 841.56,1402.2 841.9,1408.2 842.23,1408.2 842.57,1408.2 842.9,1396.9 843.23,1408.2 843.57,1391.2 843.9,1391.2 844.23,1409.2 844.55,1423.9 844.88,1423.9 845.2,1423.9 845.54,1423.9 845.89,1423.9 846.23,1423.9 846.57,1426.8 846.91,1444.7 847.26,1457.3 847.6,1470 847.92,1467.2 848.24,1461.9 848.56,1463.4 848.88,1423.2 849.2,1403.3 849.54,1416.5 849.89,1432.9 850.23,1452.7 850.57,1448.9 850.91,1432.4 851.26,1449.8 851.6,1468.7 851.92,1464.3 852.24,1459.2 852.56,1441 852.88,1421.6 853.2,1417.4 853.53,1433.6 853.86,1443.8 854.19,1446.5 854.52,1446.5 854.85,1446.5 855.18,1446.5 855.51,1446.5 855.84,1446.5 856.17,1446.5 856.5,1446.5 856.82,1446.5 857.14,1428.2 857.46,1431.1 857.78,1435 858.1,1403.7 858.42,1396.8 858.74,1391 859.06,1380.3 859.38,1369.2 859.7,1355.3 860.04,1355.3 860.39,1355.3 860.73,1337.9 861.07,1337.9 861.41,1341.7 861.76,1351.2 862.1,1337.9 862.42,1365 862.74,1368.4 863.06,1371.4 863.38,1371.4 863.7,1371.4 864.03,1385.4 864.37,1401.9 864.7,1373.3 865.03,1372.5 865.37,1390.3 865.7,1411 866.03,1359.4 866.35,1328.8 866.67,1302.6 867,1226.1 867.32,1154.8 867.64,1155 867.96,1156.4 868.28,1158.7 868.6,1108.6 868.92,1108.6 869.24,1128.3 869.56,1109.4 869.88,1139 870.2,1176 870.5,1161.1 870.8,1150 871.1,1131.3 871.4,768.9 871.77,788.4 872.15,850.8 872.52,911.1 872.9,968.2 873.23,958.2 873.55,870.2 873.88,860.3 874.2,850.3 874.5,874.2 874.8,892.8 875.1,907.7 875.4,926.3 875.72,960.7 876.03,1001.8 876.35,1030.3 876.67,1030.3 876.98,1030.3 877.3,1030.3 877.6,948.7 877.9,864.2 878.22,857.1 878.53,864.2 878.85,857.1 879.17,857.1 879.48,858.3 879.8,857.1 880.1,873.6 880.4,886.2 880.7,911.2 881,926.3 881.3,935 881.6,978.9 881.9,964.3 882.2,1004 882.53,1004 882.87,1024.4 883.2,1062.9 883.5,1062.9 883.8,1025.6 884.1,983.8 884.42,983.8 884.74,983.8 885.06,983.8 885.38,983.8 885.7,985.3 886,1003.5 886.3,1012.8 886.6,1025.7 886.9,1044.5 887.2,1061.3 887.5,1081.6 887.84,1081.6 888.18,1081.6 888.52,1094.1 888.86,1120.6 889.2,1144.8 889.56,1173.9 889.91,1208.7 890.27,1189.4 890.63,1153.3 890.99,1148 891.34,1180.2 891.7,1210.3 892.04,1195.6 892.38,1181.5 892.72,1165.6 893.06,1120.9 893.4,1110.8 893.74,1110.8 894.08,1122 894.42,1110.8 894.76,1139 895.1,1186.7 895.44,1227.3 895.78,1241.8 896.12,1221.8 896.46,1265.5 896.8,1271.1 897.17,1199 897.53,1184.8 897.9,1166.7 898.27,1147.6 898.63,1132.3 899,1112.7 899.3,967.7 899.62,995.3 899.94,976.7 900.26,1002.7 900.58,981.7 900.9,1019.5 901.25,1028.5 901.6,1078.6 901.95,1072.4 902.3,1123.4 902.65,1128.2 903,1128.2 903.33,1067.8 903.65,1067.5 903.97,1038.1 904.3,1038.1 904.67,1028.8 905.05,1019.7 905.42,1007.7 905.8,1005 906.12,1032.5 906.45,1049 906.77,1065.8 907.1,1081.6 907.46,1106.5 907.82,1106.5 908.18,1091.9 908.54,1106.5 908.9,1106.5 909.23,1106.5 909.55,1131.3 909.88,1132.8 910.2,1132.8 910.2,1104.5 910.2,1199.8 910.5,1195.3 910.8,1168.5 911.1,1167.9 911.4,1167.4 911.73,1167.4 912.07,1186.6 912.4,1207.3 912.73,1204.6 913.07,1190.1 913.4,1188.5 913.73,1205 914.07,1225.5 914.4,1248 914.76,1215.1 915.11,1209.7 915.47,1201.9 915.83,1196 916.19,1193.9 916.54,1190.5 916.9,1184.1 917.24,1203 917.58,1224.6 917.92,1237.5 918.26,1256.9 918.6,1279.5 918.95,1248.5 919.3,1265.5 919.65,1230.5 920,1217.7 920.35,1217.7 920.7,1217.7 921.02,1217.7 921.34,1234.9 921.67,1254.7 921.99,1223.4 922.31,1240.8 922.63,1263.3 922.96,1242.6 923.28,1260.4 923.6,1287.4 923.95,1287.4 924.3,1287.4 924.65,1287.4 925,1288.5 925.35,1319.4 925.7,1353.7 926.03,1336.7 926.35,1285.9 926.67,1266.9 927,1244.9 927.36,1267 927.71,1266.1 928.07,1244.9 928.43,1255.5 928.79,1247.7 929.14,1274.8 929.5,1274.8 929.82,1290.1 930.14,1300.2 930.46,1313.4 930.78,1321.4 931.1,1333.5 931.45,1355.9 931.8,1333.5 932.15,1333.5 932.5,1340 932.85,1364.4 933.2,1388.5 933.53,1373.3 933.85,1365.8 934.17,1350.2 934.5,1289.5 934.83,1282.6 935.15,1271.1 935.47,1261.9 935.8,1249.6 936.12,1249.6 936.44,1249.6 936.77,1249.6 937.09,1247.2 937.41,1249.6 937.73,1247.4 938.06,1249.6 938.38,1247 938.7,1247 939.04,1274.1 939.38,1247 939.72,1268.6 940.06,1292.3 940.4,1313 940.7,1283.5 941,1263.4 941.3,1239.9 941.6,1220.3 941.96,1220.3 942.31,1216.1 942.67,1215.6 943.03,1214.7 943.39,1206.8 943.74,1206.2 944.1,1205.1 944.45,1222.4 944.8,1236.2 945.15,1249.2 945.5,1226.5 945.85,1246.3 946.2,1258 946.55,1276.4 946.9,1297.9 947.25,1274 947.6,1299.9 947.95,1306.7 948.3,1306.7 948.65,1294.6 949,1306.7 949.35,1291.1 949.7,1291.1 950.05,1291.1 950.4,1291.1 950.74,1308.7 951.08,1324.5 951.42,1341.8 951.76,1331.9 952.1,1350.2 952.44,1373.8 952.78,1359.9 953.12,1373.8 953.46,1352.2 953.8,1373.8 954.2,1339.8 954.6,1259.6 954.95,1259.6 955.3,1278.2 955.65,1303.4 956,1327.7 956.35,1327.7 956.7,1327.7 957.03,1305.7 957.35,1305.7 957.67,1305.7 958,1305.7 958.35,1305.7 958.7,1305.7 959.05,1305.7 959.4,1329.1 959.75,1357.7 960.1,1394.8 960.46,1392.5 960.81,1394.8 961.17,1394.8 961.53,1394.8 961.89,1394.8 962.24,1351.8 962.6,1351.8 962.94,1375.3 963.28,1351.8 963.62,1378.1 963.96,1400.5 964.3,1407.3 964.65,1407.3 965,1404.9 965.35,1378 965.7,1360.2 966.05,1360.2 966.4,1360.2 966.72,1383.4 967.04,1400 967.36,1379.7 967.68,1395.8 968,1413.6 968.5,1307.8 968.85,1324.6 969.2,1333.5 969.55,1307.8 969.9,1307.8 970.25,1315.9 970.6,1333.5 970.96,1333.5 971.31,1333.5 971.67,1333.5 972.03,1333.5 972.39,1337.7 972.74,1352.5 973.1,1367 973.44,1393.1 973.78,1367.6 974.12,1367 974.46,1377 974.8,1400.6 975.13,1427.5 975.47,1427.5 975.8,1427.5 976.13,1425.9 976.47,1407.7 976.8,1427.5 977.14,1382.9 977.48,1393.5 977.82,1405.1 978.16,1372.8 978.5,1372.8 978.84,1380.6 979.18,1372.8 979.52,1392.7 979.86,1381.4 980.2,1388.9 980.54,1419.9 980.88,1428.3 981.22,1428.3 981.56,1428.3 981.9,1428.3 982.26,1421.9 982.61,1416.3 982.97,1410.1 983.33,1398.3 983.69,1385 984.04,1375.5 984.4,1364.4 984.75,1388.2 985.1,1411 985.45,1413.1 985.8,1413.1 986.15,1392.6 986.5,1413.1 986.85,1413.1 987.2,1413.1 987.55,1413.1 987.9,1413.1 988.25,1413.1 988.6,1422 988.9,1412.5 989.2,1399.1 989.5,1385 989.8,1354.4 990.1,1313.6 990.4,1277.7 990.7,1241.2 991.04,1216.8 991.38,1221.5 991.72,1230 992.06,1216.8 992.4,1216.8 992.75,1247.7 993.1,1254.3 993.45,1283.2 993.8,1290 994.15,1290 994.5,1290 994.86,1290 995.21,1290 995.57,1290 995.93,1290 996.29,1290 996.64,1290 997,1280.6 997.35,1293.3 997.7,1306.7 998.05,1312.5 998.4,1312.5 998.75,1306.5 999.1,1312.5 999.4,1312.5 999.7,1312.5 1000,1316.4 1000.3,1365.4 1000.6,1317.7 1000.9,1269.6 1001.2,1217.7 1001.56,1232.2 1001.91,1245.2 1002.27,1265.1 1002.63,1277.9 1002.99,1255.9 1003.34,1275.6 1003.7,1291.6 1004.05,1306.7 1004.4,1306.7 1004.75,1306.7 1005.1,1306.7 1005.45,1306.7 1005.8,1306.7 1006.1,1306.7 1006.4,1271.7 1006.7,1251.5 1007,1232.4 1007.34,1232.4 1007.68,1234.8 1008.02,1251.3 1008.36,1266.4 1008.7,1279.5 1009.1,1279.5 1009.5,1232.9 1009.83,1232.9 1010.15,1232.9 1010.48,1232.9 1010.8,1232.9 1011.12,1232.9 1011.45,1232.4 1011.77,1232.4 1012.1,1232.4 1012.4,1253.5 1012.7,1232.4 1013,1258.3 1013.3,1283.2 1013.64,1303.7 1013.98,1323.6 1014.32,1333.5 1014.66,1314.8 1015,1333.5 1015.35,1349.6 1015.7,1333.5 1016.05,1340.6 1016.4,1353.8 1016.75,1367 1017.1,1388 1017.46,1388 1017.81,1388 1018.17,1388 1018.53,1419.4 1018.89,1422.8 1019.24,1455.6 1019.6,1455.6 1019.96,1451.1 1020.31,1446.9 1020.67,1445.9 1021.03,1438.9 1021.39,1437.1 1021.74,1392.2 1022.1,1385.4 1022.45,1385.4 1022.8,1401.6 1023.15,1420.7 1023.5,1434.1 1023.85,1434.1 1024.2,1434.1 1024.54,1445.1 1024.88,1445.1 1025.22,1445.1 1025.56,1445.1 1025.9,1445.1 1026.23,1409.4 1026.55,1374.9 1026.88,1340.8 1027.2,1308.3 1027.55,1282.7 1027.9,1282.7 1028.25,1282.7 1028.6,1282.7 1028.95,1291 1029.3,1282.7 1029.62,1282.7 1029.94,1293.5 1030.26,1311.3 1030.58,1328.5 1030.9,1346.6 1031.24,1302.8 1031.58,1291.4 1031.92,1283.9 1032.26,1234.9 1032.6,1225.2 1032.95,1244.3 1033.3,1238.2 1033.65,1263.9 1034,1235.1 1034.35,1261.5 1034.7,1283.2 1035.03,1307.3 1035.35,1308.3 1035.67,1305.3 1036,1308.3 1036.36,1308.3 1036.71,1308.3 1037.07,1308.3 1037.43,1308.3 1037.79,1308.3 1038.14,1308.3 1038.5,1319.3 1038.84,1319.3 1039.18,1319.3 1039.52,1319.3 1039.86,1306.6 1040.2,1265.9 1040.56,1275.9 1040.91,1282.1 1041.27,1288.7 1041.63,1291.4 1041.99,1302.6 1042.34,1307.3 1042.7,1312.5 1043.02,1334.9 1043.34,1316.3 1043.66,1332.5 1043.98,1349.8 1044.3,1367 1044.65,1382.4 1045,1396.9 1045.35,1396.9 1045.7,1394 1046.05,1381 1046.4,1396.9 1046.75,1396.9 1047.1,1396.9 1047.45,1396.9 1047.8,1373.7 1048.15,1387.2 1048.5,1356 1048.85,1368.4 1049.2,1381 1049.55,1356 1049.9,1364.3 1050.25,1383.7 1050.6,1400.6 1050.92,1400.6 1051.25,1400.6 1051.58,1400.6 1051.9,1400.6 1052.22,1400.6 1052.55,1402.5 1052.88,1416.4 1053.2,1428.3 1053.5,1402.2 1053.8,1353.4 1054.1,1324.4 1054.4,1298.2 1054.74,1310.5 1055.08,1298.2 1055.42,1308.4 1055.76,1319.6 1056.1,1331.9 1056.44,1328.1 1056.78,1324.7 1057.12,1323.1 1057.46,1316.1 1057.8,1307.8 1058.16,1322.4 1058.51,1338 1058.87,1348.7 1059.23,1326 1059.59,1337.9 1059.94,1357.9 1060.3,1371.2 1060.62,1371.2 1060.94,1371.2 1061.27,1391.1 1061.59,1425.6 1061.91,1422.1 1062.23,1423.1 1062.56,1453.5 1062.88,1448.1 1063.2,1453.5 1063.54,1404.9 1063.88,1396.3 1064.22,1389.7 1064.56,1379.8 1064.9,1366.5 1065.25,1366.5 1065.6,1376.5 1065.95,1394.4 1066.3,1416.1 1066.65,1392.1 1067,1417.3 1067.36,1427.3 1067.71,1439.1 1068.07,1451.8 1068.43,1438.9 1068.79,1433.9 1069.14,1448 1069.5,1463.4 1069.86,1482.6 1070.21,1463.4 1070.57,1477.1 1070.93,1463.4 1071.29,1464.7 1071.64,1480 1072,1497 1072.35,1512.1 1072.7,1502 1073.05,1497 1073.4,1497.5 1073.75,1517.1 1074.1,1534.7 1074.45,1543.8 1074.8,1549.5 1075.15,1552.8 1075.5,1557.9 1075.85,1560.8 1076.2,1564.1 1076.55,1567.5 1076.89,1567.5 1077.24,1564.1 1077.58,1564.1 1077.93,1564.1 1078.27,1564.1 1078.62,1564.1 1078.96,1564.1 1079.31,1564.1 1079.65,1564.1 1080,1567.5 1080.34,1567.5 1080.68,1567.5 1081.02,1553.6 1081.36,1553.3 1081.7,1538.9 1082.1,1467.4 1082.5,1425.2 1082.84,1425.2 1083.18,1425.2 1083.52,1425.2 1083.86,1425.2 1084.2,1438.8 1084.6,1417.3 1085,1417.3 1085.33,1352 1085.65,1320.8 1085.97,1234.5 1086.3,1211.9 1086.64,1211.9 1086.98,1211.9 1087.32,1211.9 1087.66,1211.9 1088,1211.4 1088.3,1211.4 1088.6,1237.8 1088.9,1280.5 1089.2,1283.7 1089.53,1255.4 1089.85,1185 1090.17,1181.7 1090.5,1178.4 1090.8,1155.5 1091.1,1139 1091.4,1123 1091.7,1107.1 1091.7,817.6 1092.03,795.9 1092.36,795.9 1092.69,795.9 1093.01,795.9 1093.34,795.9 1093.67,795.9 1094,795.9 1094.33,825.7 1094.65,849.3 1094.97,876.9 1095.3,912.3 1095.6,900.8 1095.9,882.3 1096.2,877.6 1096.5,865.8 1096.82,879.8 1097.14,871.8 1097.46,879.8 1097.78,865.8 1098.1,879.8 1098.4,879.8 1098.7,879.8 1099,940.3 1099.3,936.1 1099.6,940.3 1099.9,940.3 1100.2,927.9 1100.52,953.8 1100.84,982.6 1101.16,988.4 1101.48,988.4 1101.8,988.4 1102.1,1040.9 1102.4,1020.8 1102.7,997.5 1103,1050.6 1103.32,1050.6 1103.64,1075 1103.96,1064.1 1104.28,1103.6 1104.6,1111.1 1104.6,1083.5 1104.6,1140.6 1104.93,1149 1105.27,1149 1105.6,1149 1105.92,1149.4 1106.24,1174.2 1106.56,1163.4 1106.88,1174.2 1107.2,1174.2 1107.54,1188.4 1107.88,1192.8 1108.22,1203.9 1108.56,1216.3 1108.9,1231.3 1109.24,1231.3 1109.58,1231.3 1109.92,1231.3 1110.26,1186.2 1110.6,1186.2 1110.96,1186.2 1111.31,1186.2 1111.67,1201.4 1112.03,1216.9 1112.39,1235.5 1112.74,1219.6 1113.1,1241.7 1113.44,1241.7 1113.78,1195.9 1114.12,1208.1 1114.46,1211.2 1114.8,1174.9 1115.15,1174.9 1115.5,1174.9 1115.85,1196.4 1116.2,1181.8 1116.55,1207.7 1116.9,1207.7 1117.25,1239 1117.6,1243.8 1117.95,1272.7 1118.3,1272.7 1118.65,1272.7 1119,1272.7 1119.35,1272.7 1119.7,1272.7 1120.05,1276 1120.4,1292.9 1120.75,1304.3 1121.1,1314.3 1121.42,1284.4 1121.74,1277.7 1122.06,1275.4 1122.38,1268.2 1122.7,1258 1123.05,1193.6 1123.4,1170.5 1123.75,1168.7 1124.1,1167.7 1124.45,1163.7 1124.8,1163.7 1125.14,1163.7 1125.48,1163.7 1125.82,1163.7 1126.16,1163.7 1126.5,1163.7 1126.84,1178.6 1127.18,1198.4 1127.52,1219.8 1127.86,1228.7 1128.2,1228.7 1128.56,1254.9 1128.91,1278.5 1129.27,1302.5 1129.63,1269.4 1129.99,1250.5 1130.34,1277.9 1130.7,1302.5 1131.06,1302.5 1131.41,1302.5 1131.77,1271.2 1132.13,1277.6 1132.49,1276.2 1132.84,1272.9 1133.2,1270.1 1133.54,1270.1 1133.88,1270.1 1134.22,1278.9 1134.56,1292.8 1134.9,1310.9 1135.24,1279.3 1135.58,1276.4 1135.92,1276.4 1136.26,1276.4 1136.6,1276.4 1136.95,1278.5 1137.3,1309.1 1137.65,1309.4 1138,1335.9 1138.35,1316.3 1138.7,1348.6 1139.05,1340.4 1139.4,1336.2 1139.75,1332.3 1140.1,1324.3 1140.45,1295.5 1140.8,1245.4 1141.14,1177.5 1141.48,1171.6 1141.82,1171.4 1142.16,1127.8 1142.5,1123.9 1142.9,1101.3 1143.3,1067.6 1143.65,1076.6 1144,1094.1 1144.35,1110.5 1144.7,1126.3 1145.05,1136.9 1145.4,1147.4 1145.74,1122.9 1146.08,1102.4 1146.42,1102.4 1146.76,1102.4 1147.1,1102.4 1147.46,1126.3 1147.81,1152.4 1148.17,1175.3 1148.53,1196.7 1148.89,1210.3 1149.24,1186.7 1149.6,1210.3 1149.95,1210.3 1150.3,1163 1150.65,1171.6 1151,1173.4 1151.35,1185.6 1151.7,1138 1152.05,1148.6 1152.4,1158 1152.75,1171.8 1153.1,1184.9 1153.45,1197.9 1153.8,1201.9 1154.15,1171.8 1154.5,1181.4 1154.85,1154.8 1155.2,1154.8 1155.55,1155.2 1155.9,1154.8 1156.25,1169.2 1156.6,1189.1 1156.95,1168.1 1157.3,1188.5 1157.65,1200.5 1158,1220.3 1158.35,1245.3 1158.7,1241.8 1159.05,1231.1 1159.4,1251.6 1159.75,1248.8 1160.1,1274.8 1160.42,1274.8 1160.74,1278.7 1161.06,1298.3 1161.38,1274.8 1161.7,1298.3 1162.04,1288.8 1162.38,1274.4 1162.72,1212.9 1163.06,1199.5 1163.4,1146.4 1163.76,1176.2 1164.11,1199.8 1164.47,1176.9 1164.83,1201 1165.19,1191.4 1165.54,1218.5 1165.9,1220.8 1166.24,1218.5 1166.58,1215.9 1166.92,1154.7 1167.26,1151.1 1167.6,1144.8 1167.94,1144.8 1168.28,1144.8 1168.62,1134.5 1168.96,1123.9 1169.3,1123.9 1169.65,1125.3 1170,1125.3 1170.34,1125.3 1170.68,1127.3 1171.02,1157.9 1171.36,1176.1 1171.7,1176.1 1172.04,1200 1172.38,1220.1 1172.72,1238.8 1173.06,1250 1173.4,1250 1173.72,1243 1174.04,1235.7 1174.36,1225.7 1174.68,1172.5 1175,1156.7 1175.34,1157.2 1175.68,1157.2 1176.02,1157.2 1176.36,1156.9 1176.7,1157.2 1177.04,1179.4 1177.38,1194.9 1177.72,1176.7 1178.06,1200.6 1178.4,1224.8 1178.7,1224.8 1179,1224.8 1179.3,1224.8 1179.6,1221.7 1179.94,1235.1 1180.28,1224.7 1180.62,1232.6 1180.96,1249.3 1181.3,1300.3 1181.64,1299.8 1181.98,1300.3 1182.32,1300.3 1182.66,1265.7 1183,1265.7 1183.35,1301.1 1183.7,1271.1 1184.05,1298.4 1184.4,1269.5 1184.75,1304.1 1185.1,1331.2 1185.44,1333.2 1185.78,1337.5 1186.12,1341.8 1186.46,1349 1186.8,1356.4 1187.12,1356.4 1187.44,1356.4 1187.76,1361.4 1188.08,1379.4 1188.4,1390.4 1188.74,1356.3 1189.08,1348.7 1189.42,1363.8 1189.76,1345.2 1190.1,1361.8 1190.44,1380.7 1190.78,1347.5 1191.12,1337 1191.46,1337 1191.8,1337 1192.15,1337 1192.5,1337 1192.85,1337 1193.2,1351.2 1193.55,1371 1193.9,1392 1194.26,1392 1194.61,1392 1194.97,1392 1195.33,1392 1195.69,1392 1196.04,1393.7 1196.4,1411.4 1196.73,1387.7 1197.05,1363.4 1197.38,1298.9 1197.7,1230.6 1198.05,1230.6 1198.4,1230.6 1198.75,1230.6 1199.1,1230.6 1199.45,1230.6 1199.8,1204.1 1200.15,1217.8 1200.5,1204.1 1200.85,1208.7 1201.2,1224.6 1201.55,1216.9 1201.9,1234.8 1202.25,1258 1202.6,1285.5 1202.95,1277.3 1203.3,1288.9 1203.65,1288.9 1204,1288.9 1204.3,1233.6 1204.6,1223.5 1204.9,1213.5 1205.2,1200.7 1205.55,1230.8 1205.9,1250 1206.25,1242.1 1206.6,1250 1206.95,1247.2 1207.3,1250 1207.65,1188.6 1208,1183 1208.35,1178.6 1208.7,1167.1 1209.05,1163.8 1209.4,1156.7 1209.75,1188.9 1210.1,1184.1 1210.45,1164.7 1210.8,1200.2 1211.15,1228.3 1211.5,1234.8 1211.85,1260 1212.2,1284 1212.55,1268.7 1212.9,1287.3 1213.25,1309.2 1213.6,1324.9 1213.96,1343.6 1214.31,1346.4 1214.67,1346.4 1215.03,1346.4 1215.39,1346.4 1215.74,1346.4 1216.1,1346.4 1216.44,1311.3 1216.78,1305.9 1217.12,1297.2 1217.46,1283.7 1217.8,1268.3 1218.15,1268.3 1218.5,1268.3 1218.85,1268.3 1219.2,1268.3 1219.55,1251.6 1219.9,1251.6 1220.2,1211.6 1220.5,1198.4 1220.8,1136.5 1221.1,1134.2 1221.42,1128.4 1221.75,1130.4 1222.08,1133 1222.4,1133.1 1222.72,1128.6 1223.05,1130.6 1223.38,1122.3 1223.7,1122.3 1224.05,1140 1224.4,1159.3 1224.75,1122.3 1225.1,1130.4 1225.45,1147.5 1225.8,1159.3 1226.12,1182.6 1226.44,1159.3 1226.76,1179.6 1227.08,1182.9 1227.4,1182.9 1227.74,1183 1228.08,1184 1228.42,1184 1228.76,1182.9 1229.1,1184 1229.44,1206.4 1229.78,1184 1230.12,1198.9 1230.46,1224.8 1230.8,1224.8 1231.14,1224.8 1231.48,1197.9 1231.82,1188.2 1232.16,1188.2 1232.5,1188.2 1232.82,1200.2 1233.14,1209.8 1233.46,1220.4 1233.78,1227.7 1234.1,1234.8 1234.44,1251.4 1234.78,1264.1 1235.12,1271 1235.46,1282.7 1235.8,1289.3 1236.12,1289.3 1236.45,1304.1 1236.77,1293 1237.1,1321.2 1237.44,1321 1237.78,1321.2 1238.12,1321.2 1238.46,1290.9 1238.8,1290.9 1239.12,1319.1 1239.44,1341.7 1239.76,1341.7 1240.08,1341.7 1240.4,1341.7 1240.74,1347.3 1241.08,1351.2 1241.42,1355.6 1241.76,1361.9 1242.1,1365.2 1242.44,1350.9 1242.78,1291.2 1243.12,1277.5 1243.46,1258.8 1243.8,1240.6 1244.15,1260.3 1244.5,1284.9 1244.85,1308.4 1245.2,1324.3 1245.55,1339.7 1245.9,1359 1246.26,1359 1246.61,1359 1246.97,1325 1247.33,1328 1247.69,1330.9 1248.04,1335.7 1248.4,1300.1 1248.75,1300.1 1249.1,1320.4 1249.45,1353.2 1249.8,1360.6 1250.15,1360.6 1250.5,1360.6 1250.85,1364.4 1251.2,1370.8 1251.55,1372.3 1251.9,1376.7 1252.25,1384 1252.6,1394.1 1252.96,1405.8 1253.31,1419.1 1253.67,1394.1 1254.03,1394.1 1254.39,1394.1 1254.74,1406.4 1255.1,1419.3 1255.46,1419.3 1255.81,1419.7 1256.17,1427.6 1256.53,1427.6 1256.89,1427.6 1257.24,1427.6 1257.6,1427.6 1257.95,1431.5 1258.3,1435.9 1258.65,1440.9 1259,1449.5 1259.35,1454.4 1259.7,1461.2 1260.05,1472.1 1260.4,1482.1 1260.75,1482.1 1261.1,1482.1 1261.45,1466.8 1261.8,1482.1 1262.15,1487.5 1262.5,1490.3 1262.85,1491.5 1263.2,1498.1 1263.55,1498.1 1263.9,1499.4 1264.25,1494.2 1264.6,1494.2 1264.95,1494.2 1265.3,1494.2 1265.65,1494.2 1266,1494.2 1266.35,1503.9 1266.7,1510.9 1267.05,1494.2 1267.4,1500.3 1267.75,1508.6 1268.1,1518.3 1268.42,1518.3 1268.75,1500.1 1269.08,1508.4 1269.4,1474.5 1269.75,1490.5 1270.1,1474.5 1270.45,1474.5 1270.8,1474.5 1271.15,1474.5 1271.5,1490.5 1271.86,1490.5 1272.21,1495.1 1272.57,1490.5 1272.93,1500.2 1273.29,1509.1 1273.64,1509.1 1274,1509.1 1274.3,1509.1 1274.6,1509.1 1274.9,1496 1275.2,1482.1 1275.53,1467.6 1275.85,1407.1 1276.17,1393.7 1276.5,1376.8 1276.84,1387.4 1277.18,1403.4 1277.52,1413.5 1277.86,1400.7 1278.2,1413.5 1278.52,1402.3 1278.84,1387.2 1279.16,1377.9 1279.48,1366.7 1279.8,1358 1280.12,1366.7 1280.45,1369.8 1280.77,1379.8 1281.1,1384.1 1281.5,1274.5 1281.9,1167.7 1282.23,1132.4 1282.55,1097.8 1282.88,1066.1 1283.2,995.7 1283.55,995.7 1283.9,995.7 1284.25,996.5 1284.6,996.5 1284.95,996.5 1285.3,996.5 1285.65,996.5 1286,996.8 1286.4,1033.5 1286.8,1035.4 1287.13,1041.9 1287.47,1041.9 1287.8,1041.9 1288.14,1069.2 1288.48,1093.5 1288.82,1120 1289.16,1120 1289.5,1120 1289.84,1120 1290.18,1120 1290.52,1106.4 1290.86,1106.4 1291.2,1106.4 1291.52,1106.4 1291.84,1114.4 1292.16,1128.7 1292.48,1143.8 1292.8,1159.3 1293.12,1165.8 1293.45,1176 1293.78,1180.6 1294.1,1193.2 1294.42,1195 1294.75,1201.1 1295.08,1205.5 1295.4,1212.2 1295.72,1207.4 1296.04,1206 1296.36,1203.3 1296.68,1202.1 1297,1198.6 1297.34,1239.7 1297.68,1255.7 1298.02,1255.7 1298.36,1255.7 1298.7,1255.7 1299.05,1269.6 1299.4,1279.3 1299.75,1279.3 1300.1,1279.3 1300.45,1265.5 1300.8,1279.3 1301.14,1260.8 1301.48,1241.4 1301.82,1226.1 1302.16,1206.5 1302.5,1190.3 1302.84,1202.6 1303.18,1219.9 1303.52,1231.3 1303.86,1244.7 1304.2,1260.4 1304.52,1241.9 1304.84,1220.4 1305.16,1195.9 1305.48,1181 1305.8,1167.7 1306.12,1162.4 1306.45,1167.4 1306.77,1096.5 1307.1,1091.7 1307.44,1091.7 1307.78,1091.7 1308.12,1101.3 1308.46,1111.6 1308.8,1111.6 1309.14,1067.5 1309.48,1101.9 1309.82,1058.2 1310.16,1058.2 1310.5,1058.2 1310.82,1058.2 1311.14,1072.4 1311.46,1106.8 1311.78,1131 1312.1,1157.7 1312.43,1132.7 1312.77,1113.8 1313.1,1035.4 1313.4,998.7 1313.9,1035.4 1314.22,1038.1 1314.54,1043.8 1314.86,1045.6 1315.18,1060.1 1315.5,1062.9 1315.9,1087.6 1316.3,1109 1316.62,1109 1316.95,1109 1317.27,1131.9 1317.6,1159.3 1317.94,1180.1 1318.28,1180.3 1318.62,1180.3 1318.96,1180.3 1319.3,1180.3 1319.65,1228.5 1320,1204.8 1320.35,1188.4 1320.7,1229.4 1321.05,1271.6 1321.4,1287.7 1321.76,1287.7 1322.11,1287.7 1322.47,1287.7 1322.83,1287.6 1323.19,1287.7 1323.54,1255.2 1323.9,1255.2 1324.25,1262.8 1324.6,1272.4 1324.95,1278.3 1325.3,1281.2 1325.65,1290.8 1326,1297.7 1326.35,1306 1326.7,1322.7 1327.05,1335.4 1327.4,1335.4 1327.75,1335.4 1328.1,1335.4 1328.46,1345.8 1328.81,1356.4 1329.17,1335.4 1329.53,1335.6 1329.89,1350.1 1330.24,1338.9 1330.6,1356.4 1330.96,1374.9 1331.31,1385 1331.67,1385 1332.03,1372.4 1332.39,1356.4 1332.74,1371.1 1333.1,1385 1333.5,1267.4 1333.9,1190.3 1334.25,1207 1334.6,1218 1334.95,1218 1335.3,1190.3 1335.65,1197.7 1336,1218 1336.35,1238.2 1336.7,1257.7 1337.05,1258.3 1337.4,1258.3 1337.75,1258.3 1338.1,1258.3 1338.44,1209.9 1338.78,1180.3 1339.12,1182.4 1339.46,1180.3 1339.8,1180.3 1340.12,1180.3 1340.45,1159.3 1340.77,1159.3 1341.1,1159.3 1341.4,1125.1 1341.7,1093.1 1342,1069.5 1342.3,1039.3 1342.65,1055 1343,1039.3 1343.35,1039.3 1343.7,1056.6 1344.05,1081.7 1344.4,1104.8 1344.74,1120 1345.08,1135.6 1345.42,1151.2 1345.76,1161.4 1346.1,1171.9 1346.46,1197 1346.81,1171.9 1347.17,1182.3 1347.53,1171.9 1347.89,1171.9 1348.24,1177.3 1348.6,1197 1348.95,1197 1349.3,1211.7 1349.65,1211.3 1350,1239.5 1350.35,1224.1 1350.7,1251.6 1351.05,1251.6 1351.4,1251.6 1351.75,1271.4 1352.1,1294.5 1352.45,1298.2 1352.8,1298.2 1353.14,1298.2 1353.48,1263.8 1353.82,1229.9 1354.16,1206.1 1354.5,1167.7 1354.8,1167.7 1355.1,1167.7 1355.4,1167.7 1355.7,1153 1356.05,1021.5 1356.4,923.6 1356.77,923.6 1357.13,914.1 1357.5,876.3 1357.85,892.1 1358.2,908.9 1358.55,923.5 1358.9,941.6 1359.2,933.9 1359.5,923.5 1359.8,912.9 1360.1,853.9 1360.47,913.6 1360.83,899.2 1361.2,913.6 1361.55,865.2 1361.9,818.1 1362.25,772.9 1362.6,732.9 1362.97,778.5 1363.33,782.3 1363.7,782.3 1364.07,778 1364.43,761.3 1364.8,760.9 1365.1,802.9 1365.4,837.7 1365.7,839.8 1366.1,884.7 1366.5,894.1 1366.84,894.1 1367.18,894.1 1367.52,883.8 1367.86,894.1 1368.2,876.3 1368.57,896 1368.93,952.4 1369.3,959.7 1369.65,959.7 1370,959.7 1370.35,959.7 1370.7,953.2 1371.07,995.5 1371.43,1015.8 1371.8,1015.8 1372.14,1015.8 1372.48,1025.3 1372.82,1029.8 1373.16,1029.8 1373.5,1029.8 1373.5,1033.5 1373.85,1059.3 1374.2,1083.9 1374.55,1120.6 1374.9,1109.3 1375.25,1083.9 1375.6,1083.9 1375.95,1098 1376.3,1138.4 1376.65,1155.3 1377,1167.5 1377.35,1185.2 1377.7,1201.2 1378.05,1201.2 1378.4,1201.2 1378.75,1215.5 1379.1,1238.1 1379.45,1252 1379.8,1216.6 1380.15,1233.2 1380.5,1252 1380.82,1234.5 1381.14,1194.2 1381.46,1205 1381.78,1184.5 1382.1,1184.5 1382.44,1143 1382.78,1145.6 1383.12,1116.9 1383.46,1116.9 1383.8,1116.9 1384.15,1141.8 1384.5,1155.9 1384.85,1167.7 1385.2,1163.4 1385.55,1167.7 1385.9,1167.7 1386.24,1182.5 1386.58,1193.6 1386.92,1210.4 1387.26,1220 1387.6,1228.5 1387.95,1228.5 1388.3,1228.5 1388.65,1228.5 1389,1228.5 1389.35,1228.5 1389.7,1243.2 1390.05,1256.7 1390.4,1271.5 1390.75,1251.6 1391.1,1263.4 1391.45,1281 1391.8,1293.5 1392.12,1293.5 1392.44,1293.5 1392.77,1302.7 1393.09,1327.3 1393.41,1356.4 1393.73,1356.4 1394.06,1356.4 1394.38,1354.2 1394.7,1356.4 1395.06,1377.3 1395.41,1389.2 1395.77,1379.6 1396.13,1400 1396.49,1373.3 1396.84,1385.3 1397.2,1400 1397.5,1380.5 1397.8,1359.4 1398.1,1293.5 1398.44,1249 1398.78,1249 1399.12,1249 1399.46,1252.5 1399.8,1249 1400.13,1273.2 1400.47,1255.5 1400.8,1283.7 1401.13,1291.3 1401.47,1283.8 1401.8,1310.2 1402.15,1327.9 1402.5,1335.4 1402.85,1335.4 1403.2,1335.4 1403.55,1335.4 1403.9,1335.4 1404.25,1355 1404.6,1349.8 1404.95,1359 1405.3,1345.6 1405.65,1359 1406,1359 1406.33,1331.4 1406.65,1352.9 1406.97,1327.5 1407.3,1310.2 1407.62,1310.2 1407.95,1268 1408.27,1243.7 1408.6,1243.2 1409,1236.7 1409.4,1169.3 1409.73,1183.7 1410.05,1190.8 1410.38,1196.7 1410.7,1203.8 1411.02,1191.1 1411.34,1170.5 1411.66,1159.7 1411.98,1143.6 1412.3,1129.5 1412.64,1146.7 1412.98,1146.7 1413.32,1146.7 1413.66,1146.7 1414,1146.7 1414.34,1189.3 1414.68,1199.9 1415.02,1172.1 1415.36,1203.8 1415.7,1203.8 1416,1191.9 1416.3,1183.6 1416.6,1096.8 1416.9,1083.9 1417.25,1035 1417.6,983.7 1417.95,983.7 1418.3,983.7 1418.65,966.9 1419,966.9 1419.35,915.1 1419.7,908.2 1420.05,908.2 1420.4,908.2 1420.74,909 1421.08,909 1421.42,909 1421.76,909 1422.1,909 1422.45,909 1422.8,943.5 1423.15,968.9 1423.5,998.9 1423.85,998.9 1424.2,998.9 1424.55,998.9 1424.9,999.1 1425.27,994.1 1425.63,938.5 1426,930.8 1426.35,934.7 1426.7,939.9 1427.05,951.5 1427.4,968.3 1427.75,1007.5 1428.1,1007.5 1428.45,1007.5 1428.8,1007.5 1429.14,1034.4 1429.48,1007.5 1429.82,1007.5 1430.16,1026.2 1430.5,1053.4 1430.5,1043.5 1430.8,1088 1431.16,1095.9 1431.51,1104.5 1431.87,1118.7 1432.23,1126.5 1432.59,1138.2 1432.94,1149.3 1433.3,1161.1 1433.7,1074.4 1434.1,1041.9 1434.4,969.9 1434.7,909 1435.07,909 1435.43,909 1435.8,908.2 1436.15,937.4 1436.5,973.9 1436.85,974.4 1437.2,1005.9 1437.57,981 1437.93,943.4 1438.3,919.6 1438.67,989.2 1439.03,970.7 1439.4,1045 1439.7,1045.2 1440,1045 1440.3,1045 1440.6,1045.2 1440.97,965.1 1441.33,928.2 1441.7,888.3 1442.05,887.3 1442.4,888.3 1442.75,887.3 1443.1,887.3 1443.47,947.5 1443.83,931 1444.2,996.1 1444.57,987.7 1444.93,982.8 1445.3,894.5 1445.65,893.4 1446,893.4 1446.35,893.4 1446.7,893.4 1447.1,945.9 1447.5,999.1 1447.5,1062.9 1447.8,1062.9 1448.1,1062.9 1448.4,1094.3 1448.76,1104.9 1449.11,1111.9 1449.47,1121.3 1449.83,1125 1450.19,1135.3 1450.54,1143.3 1450.9,1146.7 1451.26,1146.7 1451.61,1146.7 1451.97,1154.3 1452.33,1158.6 1452.69,1146.7 1453.04,1146.7 1453.4,1158.6 1453.4,965.5 1453.74,930.6 1454.08,930.2 1454.42,930.2 1454.76,930.2 1455.1,930.2 1455.44,967.7 1455.78,979.5 1456.12,959.5 1456.46,979.5 1456.8,979.5 1457.17,979.5 1457.53,991 1457.9,1029.8 1457.9,1041.9 1458.25,1073.2 1458.6,1099.1 1458.95,1104.8 1459.3,1104.8 1459.66,1110.7 1460.01,1124.4 1460.37,1141.3 1460.73,1153.6 1461.09,1163.9 1461.44,1172.9 1461.8,1184.5 1462.14,1204.8 1462.48,1228.8 1462.82,1243.2 1463.16,1243.2 1463.5,1243.2 1463.85,1248.3 1464.2,1260.8 1464.55,1272.5 1464.9,1272.5 1465.25,1266.9 1465.6,1272.5 1465.94,1272.5 1466.28,1285.9 1466.62,1276 1466.96,1297.2 1467.3,1322.8 1467.63,1339 1467.97,1361.6 1468.3,1323 1468.63,1339.1 1468.97,1355.9 1469.3,1373.6 1469.62,1314.1 1469.94,1308.7 1470.26,1302.9 1470.58,1300.3 1470.9,1238 1471.23,1223.8 1471.55,1216.6 1471.88,1210.8 1472.2,1164.1 1472.52,1164.1 1472.84,1182.6 1473.16,1228 1473.48,1236.4 1473.8,1236.4 1474.12,1226.6 1474.45,1236.4 1474.77,1216.7 1475.1,1197.7 1475.44,1203.8 1475.78,1227.7 1476.12,1232.5 1476.46,1243.9 1476.8,1254.8 1477.12,1282.8 1477.44,1273.3 1477.76,1292.3 1478.08,1311.9 1478.4,1311.9 1478.74,1308.8 1479.08,1281.5 1479.42,1281.5 1479.76,1281.5 1480.1,1281.5 1480.44,1305 1480.78,1326.1 1481.12,1327.8 1481.46,1327.8 1481.8,1327.8 1482.12,1313.1 1482.45,1293.4 1482.77,1278.5 1483.1,1258.5 1483.42,1273.4 1483.74,1285.4 1484.06,1288.3 1484.38,1288.3 1484.7,1288.3 1485.05,1291.1 1485.4,1288.3 1485.75,1288.3 1486.1,1288.3 1486.45,1293.5 1486.8,1303.5 1487.14,1293.3 1487.48,1292.1 1487.82,1249.5 1488.16,1249.5 1488.5,1248 1488.84,1248 1489.18,1248 1489.52,1256.7 1489.86,1278.3 1490.2,1278.3 1490.54,1264 1490.88,1256.5 1491.22,1244.8 1491.56,1236.3 1491.9,1227 1492.22,1236.4 1492.54,1227 1492.86,1227 1493.18,1227 1493.5,1236.4 1493.83,1201.5 1494.15,1174.4 1494.47,1151.1 1494.8,1118 1495.15,1134.8 1495.5,1145.8 1495.85,1145.8 1496.2,1118 1496.55,1126.7 1496.9,1145.8 1497.24,1145.8 1497.58,1164 1497.92,1145.8 1498.26,1168.5 1498.6,1198.7 1499,1107.4 1499.4,1049.3 1499.6,991.4 1500,1004.1 1500.4,1017.5 1500.7,989.4 1501,971.5 1501.3,953.9 1501.62,935.8 1501.95,921.6 1502.27,908.2 1502.6,891.4 1502.97,911.5 1503.35,935.9 1503.72,947.7 1504.1,965.4 1504.45,945.5 1504.8,888.7 1505.1,873.6 1505.4,852.2 1505.7,827.3 1506.1,858.5 1506.5,884.3 1506.86,925.5 1507.22,958.8 1507.58,958.8 1507.94,958.8 1508.3,958.8 1508.62,936.8 1508.95,924.4 1509.27,909.6 1509.6,888.7 1509.92,857.3 1510.23,857.3 1510.55,877.8 1510.87,888.7 1511.18,888.7 1511.5,857.3 1511.83,857.3 1512.15,877.9 1512.47,888.7 1512.8,888.7 1513.17,953.8 1513.53,987.1 1513.9,987.1 1514.27,978 1514.63,987.1 1515,977.3 1515.38,1015 1515.75,1030.1 1516.12,1030.1 1516.5,1030.1 1517,940.9 1517.33,940.9 1517.65,940.9 1517.97,940.9 1518.3,931.2 1518.62,938.6 1518.95,948.7 1519.27,955.8 1519.6,964.8 1519.92,964.8 1520.25,994.1 1520.58,994.1 1520.9,994.1 1521.23,1005.9 1521.55,1016.6 1521.88,1029 1522.2,1040.9 1522.2,1060.3 1522.58,1060.3 1522.95,1055.1 1523.33,1055.1 1523.7,1055.1 1524.04,1055.1 1524.38,1055.7 1524.72,1071.9 1525.06,1085.3 1525.4,1103.9 1525.74,1121.4 1526.08,1137.9 1526.42,1137.9 1526.76,1118.6 1527.1,1137.9 1527.4,1102.9 1527.7,1108.5 1528,1080.3 1528.3,1080.3 1528.65,1100.6 1529,1113.5 1529.35,1128 1529.7,1093 1530.05,1110 1530.4,1129 1530.74,1129 1531.08,1139.7 1531.42,1129 1531.76,1135.6 1532.1,1167.2 1532.42,1167.2 1532.75,1167.2 1533.08,1099.2 1533.4,1099.2 1533.72,1115.6 1534.04,1128.7 1534.36,1142.5 1534.68,1165.8 1535,1187.7 1535.33,1187.7 1535.65,1187.7 1535.97,1202.3 1536.3,1239.3 1536.64,1239.3 1536.98,1209.1 1537.32,1214.6 1537.66,1221.2 1538,1204.5 1538.34,1204.5 1538.68,1204.5 1539.02,1167.5 1539.36,1173.6 1539.7,1145.8 1540,1145.8 1540.3,1145.8 1540.6,1109.6 1540.9,1109.6 1541.25,1149.1 1541.6,1184 1541.95,1172.2 1542.3,1194.5 1542.65,1194.5 1543,1194.5 1543.35,1159 1543.7,1194.5 1544.05,1168.6 1544.4,1141.5 1544.75,1144.3 1545.1,1141.1 1545.44,1175.7 1545.78,1204.5 1546.12,1190 1546.46,1204.5 1546.8,1204.5 1547.15,1215.5 1547.5,1217 1547.85,1217 1548.2,1217 1548.55,1204.8 1548.9,1217 1549.25,1247.7 1549.6,1234.2 1549.95,1260.2 1550.3,1249.3 1550.65,1274.4 1551,1305.1 1551.35,1323.4 1551.7,1332.5 1552.05,1337 1552.4,1337 1552.75,1322 1553.1,1337 1553.44,1310.5 1553.78,1280.2 1554.12,1247.6 1554.46,1218.3 1554.8,1183 1555.12,1209.8 1555.44,1238.6 1555.76,1254.8 1556.08,1254.8 1556.4,1254.8 1556.73,1276.8 1557.05,1298.5 1557.38,1273.7 1557.7,1298.5 1558.04,1268.5 1558.38,1267.1 1558.72,1266.7 1559.06,1238 1559.4,1238 1559.7,1223.8 1560,1158 1560.3,1143.7 1560.6,1050.1 1560.95,1050.1 1561.3,1050.1 1561.65,1053.7 1562,1065 1562.35,1082.1 1562.7,1093.4 1563.05,1127.4 1563.4,1111.3 1563.75,1142.3 1564.1,1181.6 1564.45,1196.1 1564.8,1196.1 1565.14,1221.2 1565.48,1208.2 1565.82,1196.6 1566.16,1221.2 1566.5,1221.2 1566.84,1240.1 1567.18,1259.5 1567.52,1259.5 1567.86,1238.1 1568.2,1259.5 1568.6,1222.6 1569,1166.2 1569.34,1200.3 1569.68,1181.3 1570.02,1183.6 1570.36,1200.3 1570.7,1200.3 1571.04,1216.6 1571.38,1230.8 1571.72,1238.4 1572.06,1252.1 1572.4,1265.8 1572.72,1248 1573.04,1250.2 1573.36,1262.9 1573.68,1248 1574,1248 1574.33,1264 1574.65,1281 1574.97,1303.4 1575.3,1284.4 1575.62,1302 1575.95,1307.7 1576.27,1290.8 1576.6,1307.7 1576.9,1248.5 1577.2,1218.8 1577.5,1157.3 1577.8,1134.8 1578.15,1151.5 1578.5,1167.2 1578.85,1187.7 1579.2,1205.7 1579.55,1196.4 1579.9,1219.6 1580.24,1219.6 1580.58,1194.7 1580.92,1197.3 1581.26,1207.6 1581.6,1191.4 1581.96,1223.6 1582.31,1260.9 1582.67,1299 1583.03,1280.5 1583.39,1299.3 1583.74,1290 1584.1,1299.3 1584.45,1299.3 1584.8,1299.3 1585.15,1287.2 1585.5,1253.9 1585.85,1259.1 1586.2,1222.8 1586.55,1236.3 1586.9,1223.7 1587.25,1222.8 1587.6,1240.7 1587.95,1257.3 1588.3,1278.3 1588.65,1264.3 1589,1242.8 1589.35,1229.2 1589.7,1216.1 1590.05,1199.2 1590.4,1139 1590.75,1148.7 1591.1,1160.8 1591.45,1177.5 1591.8,1193.2 1592.15,1209.8 1592.5,1221.2 1592.86,1240.2 1593.21,1260.4 1593.57,1276.1 1593.93,1269.4 1594.29,1285.7 1594.64,1302.1 1595,1324.5 1595.35,1313.9 1595.7,1276.6 1596.05,1293.9 1596.4,1273.8 1596.75,1284.8 1597.1,1273.2 1597.46,1275.7 1597.81,1275.7 1598.17,1275.7 1598.53,1275.7 1598.89,1275.7 1599.24,1275.7 1599.6,1275.7 1599.94,1292.1 1600.28,1313.8 1600.62,1304.3 1600.96,1320.1 1601.3,1332.8 1601.65,1330.6 1602,1301.5 1602.35,1304 1602.7,1300.5 1603.05,1300.4 1603.4,1300.4 1603.74,1300.4 1604.08,1300.4 1604.42,1316.3 1604.76,1328.5 1605.1,1341.2 1605.42,1341.2 1605.74,1331.8 1606.06,1331.8 1606.38,1331.8 1606.7,1331.8 1607.04,1345.1 1607.38,1356.3 1607.72,1368 1608.06,1379.8 1608.4,1386.8 1608.76,1387.3 1609.11,1387.3 1609.47,1387.3 1609.83,1387.3 1610.19,1386.8 1610.54,1386.8 1610.9,1387.3 1611.25,1385.5 1611.6,1382.4 1611.95,1359.8 1612.3,1361 1612.65,1354.7 1613,1348.6 1613.36,1362 1613.71,1368 1614.07,1380.6 1614.43,1387.9 1614.79,1394.5 1615.14,1387 1615.5,1394.5 1615.85,1371.3 1616.2,1350.3 1616.55,1350.4 1616.9,1326.3 1617.25,1323.8 1617.6,1305.1 1617.95,1305.1 1618.3,1305.1 1618.65,1305.1 1619,1305.1 1619.35,1304.6 1619.7,1304.6 1620.04,1315 1620.38,1322 1620.72,1328.2 1621.06,1335.7 1621.4,1342.8 1621.75,1347 1622.1,1347 1622.45,1342.8 1622.8,1342.8 1623.15,1347 1623.5,1347 1623.84,1347 1624.18,1347 1624.52,1350.7 1624.86,1366.1 1625.2,1380.6 1625.54,1397.2 1625.88,1412.8 1626.22,1391.5 1626.56,1412.8 1626.9,1430.9 1627.26,1430.9 1627.61,1430.9 1627.97,1430.9 1628.33,1447.2 1628.69,1467.2 1629.04,1468.6 1629.4,1468.6 1629.75,1468.6 1630.1,1468.6 1630.45,1468.6 1630.8,1470.5 1631.15,1479.3 1631.5,1488.8 1631.84,1454.5 1632.18,1464.2 1632.52,1473.5 1632.86,1440.9 1633.2,1440.9 1633.52,1450.2 1633.84,1440.9 1634.16,1440.9 1634.48,1440.9 1634.8,1450.2 1635.14,1446.5 1635.48,1448.6 1635.82,1415.7 1636.16,1415.8 1636.5,1415.7 1636.84,1424.7 1637.18,1417.9 1637.52,1415.7 1637.86,1415.7 1638.2,1437.7 1638.5,1413.8 1638.8,1392 1639.1,1371.3 1639.4,1313.5 1639.74,1308.8 1640.08,1308.8 1640.42,1308.8 1640.76,1308.8 1641.1,1308.8 1641.44,1310.3 1641.78,1313.9 1642.12,1316.8 1642.46,1321.5 1642.8,1321.9 1643.15,1321.9 1643.5,1340.3 1643.85,1340.5 1644.2,1325.9 1644.55,1354.7 1644.9,1384.8 1645.25,1391.5 1645.6,1391.5 1645.95,1391.5 1646.3,1384.8 1646.65,1391.5 1647,1391.5 1647.34,1347.4 1647.68,1355.5 1648.02,1362.2 1648.36,1373.8 1648.7,1347 1649.02,1347 1649.34,1347 1649.66,1327.7 1649.98,1327.7 1650.3,1327.7 1650.65,1352.7 1651,1375 1651.35,1376.4 1651.7,1365.8 1652.05,1353.2 1652.4,1376.4 1652.74,1388 1653.08,1404.4 1653.42,1406.2 1653.76,1406.2 1654.1,1406.2 1654.44,1406.2 1654.78,1406.2 1655.12,1406.2 1655.46,1390.5 1655.8,1390.5 1656.12,1390.5 1656.44,1390.5 1656.77,1390.5 1657.09,1397.5 1657.41,1415.1 1657.73,1433.5 1658.06,1433.5 1658.38,1433.5 1658.7,1433.5 1659.04,1433.5 1659.38,1408.6 1659.72,1368.4 1660.06,1355.4 1660.4,1355.4 1660.74,1355.4 1661.08,1354.9 1661.42,1355.4 1661.76,1354.9 1662.1,1354.9 1662.45,1365.2 1662.8,1370.8 1663.15,1382 1663.5,1390.4 1663.85,1401.6 1664.2,1410.4 1664.54,1400 1664.88,1392.5 1665.22,1385.5 1665.56,1353.2 1665.9,1347 1666.2,1347 1666.5,1347 1666.8,1347 1667.1,1312.1 1667.44,1319.8 1667.78,1312.4 1668.12,1312.1 1668.46,1352.3 1668.8,1355.4 1669.14,1355.4 1669.48,1362.6 1669.82,1391 1670.16,1364.4 1670.5,1393.6 1670.82,1393.6 1671.14,1368.2 1671.46,1375.3 1671.78,1338.6 1672.1,1338.6 1672.42,1338.6 1672.75,1338.6 1673.08,1338.6 1673.4,1338.6 1673.72,1338.6 1674.05,1338.6 1674.38,1338.1 1674.7,1338.1 1675.02,1338.1 1675.34,1355.1 1675.66,1343.4 1675.98,1372.5 1676.3,1379 1676.64,1377 1676.98,1373.6 1677.32,1345.1 1677.66,1342.5 1678,1338.1 1678.33,1338.1 1678.65,1338.1 1678.97,1345.9 1679.3,1376.4 1679.6,1406.3 1679.9,1410.9 1680.2,1415.9 1680.5,1415.9 1680.9,1325.6 1681.23,1330 1681.55,1329.7 1681.88,1326.4 1682.2,1326.2 1682.53,1329.2 1682.85,1335 1683.17,1338.6 1683.5,1338.6 1683.82,1362.7 1684.14,1388.9 1684.46,1374.6 1684.78,1388.9 1685.1,1388.9 1685.45,1388.9 1685.8,1401.5 1686.15,1401.5 1686.5,1401.5 1686.85,1401.5 1687.2,1401.5 1687.53,1401.5 1687.85,1401.5 1688.17,1402.5 1688.5,1413.5 1688.83,1428 1689.15,1409.5 1689.47,1421 1689.8,1435.1 1690.16,1435.1 1690.51,1435.1 1690.87,1435.1 1691.23,1435.1 1691.59,1438 1691.94,1454.6 1692.3,1472.5 1692.62,1462.1 1692.94,1448.9 1693.26,1413.7 1693.58,1406.4 1693.9,1398.9 1694.25,1414.4 1694.6,1424.5 1694.95,1442 1695.3,1454.4 1695.65,1454.4 1696,1454.4 1696.33,1444.3 1696.65,1441.5 1696.97,1434.1 1697.3,1393.1 1697.64,1393.1 1697.98,1369 1698.32,1375.2 1698.66,1355.7 1699,1355.7 1699.35,1363.3 1699.7,1374 1700.05,1378.5 1700.4,1382.9 1700.75,1393.5 1701.1,1397.3 1701.45,1404.1 1701.8,1404.1 1702.15,1397.3 1702.5,1397.3 1702.85,1397.3 1703.2,1404.1 1703.55,1404.1 1703.9,1404.1 1704.25,1368.3 1704.6,1375.1 1704.95,1377 1705.3,1359.1 1705.65,1376 1706,1397.2 1706.35,1397.3 1706.7,1397.3 1707.05,1380.7 1707.4,1397.3 1707.76,1410.6 1708.11,1422.5 1708.47,1422.5 1708.83,1422.5 1709.19,1422.5 1709.54,1422.5 1709.9,1422.5 1710.25,1422.5 1710.6,1422.5 1710.95,1436.5 1711.3,1433.7 1711.65,1448 1712,1464.4 1712.36,1468.7 1712.71,1477.1 1713.07,1464.4 1713.43,1464.4 1713.79,1467.9 1714.14,1474.6 1714.5,1481.7 1714.8,1474.9 1715.1,1451.1 1715.4,1449.7 1715.7,1443 1716.04,1462 1716.38,1456.4 1716.72,1481.2 1717.06,1481.2 1717.4,1481.2 1717.74,1481.2 1718.08,1481.2 1718.42,1481.2 1718.76,1489.7 1719.1,1506.3 1719.46,1517.3 1719.81,1517.3 1720.17,1511.7 1720.53,1506.3 1720.89,1506.3 1721.24,1506.3 1721.6,1517.3 1721.94,1509.5 1722.28,1505.3 1722.62,1501.8 1722.96,1493 1723.3,1489.1 1723.66,1489.1 1724.01,1489.1 1724.37,1498 1724.73,1512 1725.09,1493.2 1725.44,1506.5 1725.8,1520.7 1726.14,1520.7 1726.48,1520.7 1726.82,1490.4 1727.16,1481.2 1727.5,1481.2 1727.84,1481.2 1728.18,1481.2 1728.52,1481.2 1728.86,1481.2 1729.2,1479.1 1729.6,1472.8 1730,1443 1730.35,1450.2 1730.7,1443 1731.05,1450.2 1731.4,1450.2 1731.75,1443 1732.1,1450.2 1732.44,1430.8 1732.78,1426.2 1733.12,1426.2 1733.46,1425.1 1733.8,1424.1 1734.14,1442.8 1734.48,1431.5 1734.82,1454.4 1735.16,1454.4 1735.5,1454.4 1735.82,1422.3 1736.14,1415.7 1736.46,1424.7 1736.78,1415.7 1737.1,1415.7 1737.45,1427.7 1737.8,1433.4 1738.15,1441.7 1738.5,1453.5 1738.85,1463.7 1739.2,1473.3 1739.54,1473.3 1739.88,1454.4 1740.22,1459.4 1740.56,1463.1 1740.9,1424.1 1741.24,1448.9 1741.58,1467 1741.92,1445.8 1742.26,1446.1 1742.6,1467 1742.96,1458.7 1743.31,1454.6 1743.67,1447.9 1744.03,1442.3 1744.39,1419.8 1744.74,1412.9 1745.1,1409.4 1745.45,1433.8 1745.8,1421.2 1746.15,1442.9 1746.5,1463 1746.85,1469.1 1747.2,1469.1 1747.55,1469.1 1747.9,1440.9 1748.25,1440.9 1748.6,1442 1748.95,1441.3 1749.3,1440.9 1749.64,1452.2 1749.98,1460.4 1750.32,1464.7 1750.66,1471.1 1751,1474.5 1751.35,1434.6 1751.7,1434.6 1752.05,1434.6 1752.4,1434.6 1752.75,1434.6 1753.1,1434.6 1753.45,1446.4 1753.8,1434.6 1754.15,1447.9 1754.5,1457.2 1754.85,1466.8 1755.2,1479.6 1755.52,1479.6 1755.84,1457.8 1756.16,1449.2 1756.48,1449.2 1756.8,1449.2 1757.15,1449.2 1757.5,1449.2 1757.85,1462.3 1758.2,1477.5 1758.55,1456.7 1758.9,1477.5 1759.25,1477.5 1759.6,1477.5 1759.95,1477.5 1760.3,1477.5 1760.65,1474.4 1761,1474.4 1761.34,1500.8 1761.68,1514.7 1762.02,1506.8 1762.36,1493.6 1762.7,1514.7 1763.06,1520.2 1763.41,1526.3 1763.77,1514.7 1764.13,1514.7 1764.49,1518.6 1764.84,1529 1765.2,1533.6 1765.56,1533.6 1765.91,1533.6 1766.27,1533.6 1766.63,1533.8 1766.99,1542.1 1767.34,1546.6 1767.7,1550.9 1768.1,1553.8 1768.44,1561.1 1768.79,1553.8 1769.13,1554.1 1769.47,1562.4 1769.81,1567.7 1770.16,1572 1770.5,1578 1770.82,1571.6 1771.14,1540.6 1771.46,1513.4 1771.78,1510.9 1772.1,1509.4 1772.42,1524.4 1772.74,1534.4 1773.06,1511.1 1773.38,1521.9 1773.7,1534.4 1774.02,1533.9 1774.34,1534.4 1774.66,1502.8 1774.98,1471 1775.3,1471 1775.64,1471 1775.98,1485.7 1776.32,1503.7 1776.66,1503.7 1777,1503.7 1777.32,1513.5 1777.64,1524.3 1777.96,1503.7 1778.28,1507.6 1778.6,1524.3 1778.92,1512.6 1779.24,1501.2 1779.56,1488 1779.88,1475.6 1780.2,1463.4 1780.6,1436.5 1781,1409.2 1781.33,1409.2 1781.67,1420.6 1782,1409.2 1782.33,1417.6 1782.67,1436.2 1783,1461.8 1783.32,1461.8 1783.64,1461.8 1783.96,1461.8 1784.28,1451.2 1784.6,1436.7 1784.93,1436.7 1785.27,1446.8 1785.6,1441.3 1785.93,1436.7 1786.27,1457.8 1786.6,1487.6 1786.95,1502.1 1787.3,1502.1 1787.65,1497.4 1788,1502.1 1788.35,1488.2 1788.7,1502.1 1789.02,1502.1 1789.34,1502.1 1789.66,1502.1 1789.98,1481.6 1790.3,1442.7 1790.62,1450.7 1790.94,1457.2 1791.26,1463 1791.58,1468.9 1791.9,1473.9 1792.23,1472.1 1792.57,1467.1 1792.9,1464.3 1793.23,1457.8 1793.57,1454.8 1793.9,1449.6 1794.24,1449.6 1794.59,1458.1 1794.93,1456 1795.27,1483.2 1795.61,1488 1795.96,1488 1796.3,1488 1796.66,1488 1797.01,1488 1797.37,1481.1 1797.73,1488 1798.09,1488 1798.44,1488 1798.8,1481.1 1799.12,1483.5 1799.44,1490.2 1799.76,1496.5 1800.08,1496.6 1800.4,1498.1 1800.73,1498.1 1801.07,1498.1 1801.4,1484.9 1801.73,1493.1 1802.07,1483.1 1802.4,1483.1 1802.72,1507.1 1803.04,1485.9 1803.36,1484.3 1803.68,1501.3 1804,1520.3 1804.33,1520.3 1804.67,1517.6 1805,1520.3 1805.33,1520.3 1805.67,1516.6 1806,1503.7 1806.32,1503.7 1806.64,1503.7 1806.96,1503.7 1807.28,1503.7 1807.6,1479.5 1808,1432.2 1808.4,1389.1 1808.74,1399 1809.08,1408.6 1809.42,1415.9 1809.76,1424.5 1810.1,1433.5 1810.42,1431.6 1810.74,1433.4 1811.06,1433.5 1811.38,1409.2 1811.7,1407.2 1812.02,1419 1812.34,1407.2 1812.66,1421.2 1812.98,1430.4 1813.3,1445.6 1813.62,1436.7 1813.94,1436.7 1814.26,1436.7 1814.58,1442.3 1814.9,1436.7 1815.23,1443.9 1815.57,1453.7 1815.9,1463.8 1816.23,1477.1 1816.57,1488.5 1816.9,1502.1 1817.22,1481.3 1817.54,1473 1817.86,1473 1818.18,1473 1818.5,1473 1818.84,1492.7 1819.18,1516.7 1819.52,1506.1 1819.86,1518.3 1820.2,1518.3 1820.54,1501.3 1820.89,1501.3 1821.23,1501.3 1821.57,1501.3 1821.91,1501.3 1822.26,1501.3 1822.6,1501.3 1822.92,1501.3 1823.24,1530.1 1823.56,1535.2 1823.88,1526.1 1824.2,1536 1824.53,1536 1824.87,1536 1825.2,1536 1825.53,1536.7 1825.87,1541.4 1826.2,1550.6 1826.52,1531.6 1826.84,1533.5 1827.16,1531.6 1827.48,1531.6 1827.8,1531.6 1828.13,1540.6 1828.47,1531.6 1828.8,1538.3 1829.13,1546 1829.47,1553.6 1829.8,1557.8 1830.14,1557.8 1830.48,1557.8 1830.82,1540.1 1831.16,1540.1 1831.5,1540.1 1831.9,1427 1832.22,1419.2 1832.54,1387.5 1832.86,1377.9 1833.18,1372.8 1833.5,1360 1833.82,1399.1 1834.14,1399.6 1834.46,1392.3 1834.78,1405.2 1835.1,1405.2 1835.42,1403.3 1835.74,1354.9 1836.06,1345.3 1836.38,1337.5 1836.7,1330.1 1837.02,1330.1 1837.34,1330.1 1837.66,1291.4 1837.98,1275.2 1838.3,1275.2 1838.7,1330.1 1839.1,1340.6 1839.43,1340.6 1839.77,1340.6 1840.1,1340.6 1840.43,1340.6 1840.77,1340.6 1841.1,1328.1 1841.44,1312.1 1841.78,1298 1842.12,1290 1842.46,1277.3 1842.8,1261.1 1843.12,1261.1 1843.44,1285.8 1843.76,1306.8 1844.08,1279.7 1844.4,1309.9 1844.72,1325 1845.04,1340.6 1845.36,1317.6 1845.68,1330.5 1846,1340.6 1846.32,1339.9 1846.64,1335.9 1846.96,1333.7 1847.28,1299.4 1847.6,1299.4 1847.93,1299.4 1848.27,1299.4 1848.6,1319.3 1848.93,1299.4 1849.27,1314 1849.6,1346.3 1849.94,1346.3 1850.29,1346.3 1850.63,1346.3 1850.97,1346.3 1851.31,1346.3 1851.66,1346.3 1852,1356 1852.34,1349.3 1852.68,1341.6 1853.02,1335.4 1853.36,1328.3 1853.7,1277.2 1854,1291.8 1854.3,1301.3 1854.6,1312.9 1854.9,1324.5 1855.2,1279.6 1855.5,1259.6 1855.8,1238.1 1856.1,1222.7 1856.42,1247.7 1856.74,1274.2 1857.06,1245.8 1857.38,1278.7 1857.7,1301.9 1858.02,1338.2 1858.34,1338.2 1858.66,1337.5 1858.98,1331.2 1859.3,1338.2 1859.62,1348.7 1859.94,1338.2 1860.26,1338.2 1860.58,1338.2 1860.9,1351.9 1861.22,1320.4 1861.54,1319.7 1861.86,1283.3 1862.18,1283.3 1862.5,1283.3 1862.84,1319.7 1863.18,1348.5 1863.52,1330.9 1863.86,1350.7 1864.2,1350.7 1864.52,1347.7 1864.84,1318.7 1865.16,1320.1 1865.48,1318 1865.8,1277.2 1866.12,1281.9 1866.44,1305.8 1866.76,1318.4 1867.08,1316.8 1867.4,1318.4 1867.72,1313.1 1868.04,1306 1868.36,1296.5 1868.68,1285.1 1869,1275.2 1869.32,1293.4 1869.64,1275.2 1869.96,1284.6 1870.28,1280.4 1870.6,1296.2 1871,1223.4 1871.4,1148.4 1871.7,1137.5 1872,1124.4 1872.3,1114.3 1872.6,1108.1 1872.94,1108.1 1873.28,1106.6 1873.62,1108.1 1873.96,1067.4 1874.3,1031.9 1874.67,999.3 1875.03,997.6 1875.4,997.6 1875.74,1021.3 1876.08,1047.3 1876.42,1047.3 1876.76,1047.3 1877.1,1047.3 1877.44,1025.8 1877.78,1042.9 1878.12,1047.3 1878.46,1021.6 1878.8,1021.6 1879.15,994.5 1879.5,978.2 1879.85,1011.1 1880.2,966.8 1880.54,966.8 1880.88,966.8 1881.22,966.8 1881.56,1016.1 1881.9,1062.6 1882.24,1066.5 1882.58,1062.6 1882.91,1071.4 1883.25,1075.1 1883.59,1081.5 1883.92,1087.7 1884.26,1086.2 1884.6,1087.7 1884.93,998.3 1885.27,985.8 1885.6,977.1 1885.95,1012.1 1886.3,1020 1886.65,996.3 1887,1020 1887.34,1020 1887.68,1005.1 1888.02,1011 1888.36,1015.9 1888.7,975.4 1889.04,1017 1889.38,1026.8 1889.72,1019.9 1890.06,1026.8 1890.4,1026.8 1890.75,940.7 1891.1,936.2 1891.44,891.8 1891.78,891.8 1892.12,891.8 1892.46,892.7 1892.8,891.8 1893.15,843 1893.5,823.4 1893.85,823.4 1894.2,823.4 1894.53,837 1894.87,838.6 1895.2,841.6 1895.53,851.3 1895.87,864.5 1896.2,876.5 1896.55,872.3 1896.9,826.3 1897.25,785.8 1897.6,785.8 1897.93,801.5 1898.27,819.6 1898.6,832.1 1898.93,809.5 1899.27,717.4 1899.6,698 1899.95,698 1900.3,698 1900.65,731.2 1901,775.7 1901.33,833.8 1901.67,813.6 1902,833.8 1902.33,833.8 1902.67,829.2 1903,826.8 1903.37,890.9 1903.73,859.6 1904.1,914.1 1904.44,911.8 1904.78,909.8 1905.12,903.1 1905.46,899.6 1905.8,896.8 1906.15,947.9 1906.5,999.5 1906.83,990.8 1907.17,990.8 1907.5,990.8 1907.83,1011.7 1908.17,1033.5 1908.5,1054.2 1908.85,1054.2 1909.2,1035.2 1909.55,1035.2 1909.9,1035.2 1910.23,1070.7 1910.55,1099.3 1910.88,1105.2 1911.2,1105.4 1911.5,1107.7 1911.8,1107.7 1912.12,1107.7 1912.44,1107.7 1912.76,1107.7 1913.08,1116.4 1913.4,1135.5 1913.73,1135.5 1914.07,1113.9 1914.4,1113.9 1914.73,1113.9 1915.07,1113.9 1915.4,1113.9 1915.73,1113.9 1916.07,1113.9 1916.4,1113.9 1916.73,1101.7 1917.07,1091.5 1917.4,1074.5 1917.73,1067.6 1918.07,1051.2 1918.4,1037.6 1918.74,1066.2 1919.08,1038.9 1919.42,1037.6 1919.76,1058.8 1920.1,1089.9 1920.47,1102.9 1920.83,1118 1921.2,1135.5 1921.57,1143.2 1921.93,1152.4 1922.3,1160.6 1922.64,1177.4 1922.99,1198.7 1923.33,1220.4 1923.67,1210.1 1924.01,1226.8 1924.36,1226.8 1924.7,1226.8 1925.02,1167.9 1925.34,1165.7 1925.66,1165.2 1925.98,1144.4 1926.3,1144.4 1926.65,1144.4 1927,1144.4 1927.35,1124.8 1927.7,1133.5 1928.05,1116.1 1928.4,1116.1 1928.7,1117.2 1929,1117.2 1929.3,1117.2 1929.65,1120.6 1930,1171.1 1930.32,1171.1 1930.64,1140 1930.96,1129.9 1931.28,1129.9 1931.6,1129.9 1931.92,1129.9 1932.24,1161.6 1932.56,1190.8 1932.88,1190.8 1933.2,1190.8 1933.52,1194.6 1933.84,1221.1 1934.16,1221.1 1934.48,1221.1 1934.8,1221.1 1935.13,1239.2 1935.47,1247.1 1935.8,1256.6 1936.13,1271.3 1936.47,1273.6 1936.8,1273.6 1937.16,1289.6 1937.51,1307.5 1937.87,1310.4 1938.23,1287.4 1938.59,1308.8 1938.94,1310.4 1939.3,1310.4 1939.62,1260.5 1939.95,1209.9 1940.27,1167.5 1940.6,1120 1941,1001 1941.33,953.9 1941.65,912 1941.97,912 1942.3,912 1942.65,825.6 1943,825 1943.35,691.9 1943.7,636.6 1944.07,674.4 1944.43,665.4 1944.8,674.4 1945.3,577 1945.65,565 1946,553 1946.35,560.7 1946.7,560.3 1947.05,548.5 1947.4,545.6 1947.78,545.6 1948.15,563.3 1948.53,554.2 1948.9,622 1949.23,638 1949.55,650 1949.88,622 1950.2,650 1950.53,686.2 1950.85,711.4 1951.17,731.8 1951.5,756.4 1951.8,639.6 1952.12,639.6 1952.44,653.5 1952.76,703.5 1953.08,708.4 1953.4,760 1953.72,760 1954.03,760 1954.35,760 1954.67,760 1954.98,775.8 1955.3,818.4 1955.6,569 1955.95,569 1956.3,567 1956.6,449 1956.9,447.6 1957.2,437 1957.5,420 1957.9,415.6 1958.3,415.6 1958.64,415.6 1958.98,457.2 1959.32,480 1959.66,480 1960,480 1960.3,483 1960.6,483 1960.9,483 1961.2,483 1961.6,509.7 1962,540 1962.3,540 1962.6,540 1962.9,540 1963.2,540 1963.53,540 1963.85,576 1964.17,639.1 1964.5,700 1964.85,736.4 1965.2,700 1965.55,700 1965.9,736.4 1966.25,715.1 1966.6,623 1966.93,623 1967.27,623 1967.6,623.6 1967.95,734.1 1968.3,753 1968.63,753 1968.97,753 1969.3,820 1969.65,820 1970,827.4 1970.35,827.4 1970.7,827.4 1971.05,820 1971.4,827.4 1971.75,809.9 1972.1,794.7 1972.45,772.2 1972.8,755.6 1973.13,774.2 1973.47,755.6 1973.8,755.6 1974.13,777.3 1974.47,800.5 1974.8,820.4 1975.3,611 1975.67,611 1976.05,611.1 1976.42,611 1976.8,611.1 1977.12,620 1977.45,620 1977.77,620 1978.1,620 1978.47,663 1978.85,623.7 1979.22,620 1979.6,663 1979.93,699.2 1980.27,682 1980.6,720 1980.9,751.3 1981.2,775.1 1981.5,800 1981.8,828.4 1982.1,828.4 1982.43,717.2 1982.77,606.3 1983.1,500 1983.4,240 1983.8,235.2 1984.17,235.2 1984.53,284.5 1984.9,365 1985.25,408.2 1985.6,434.5 1985.95,463.1 1986.3,490 1986.63,490 1986.97,500.3 1987.3,501.2 1987.63,490 1987.97,490 1988.3,525 1988.67,548.6 1989.05,569.3 1989.42,592.3 1989.8,610 1990.17,617.7 1990.53,610 1990.9,685 1991.26,685 1991.62,690.1 1991.98,700 1992.34,700 1992.7,700 1993.2,782 1993.56,835.3 1993.92,822.2 1994.28,877.7 1994.64,905 1995,905 1995.34,921.9 1995.68,937.4 1996.02,953 1996.36,953 1996.7,953 1997.04,967.7 1997.38,983.5 1997.72,986.3 1998.06,991.2 1998.4,999.4 1998.73,950 1999.07,946.9 1999.4,943 1999.8,827 2000.1,629 2000.47,618.7 2000.83,618 2001.2,618 2001.58,618.6 2001.95,618.6 2002.33,618.6 2002.7,618.6 2003.08,618.6 2003.45,618.6 2003.83,618.6 2004.2,653 2004.58,653 2004.95,665.6 2005.33,672 2005.7,672 2006.07,672 2006.43,674 2006.8,674 2007.17,700 2007.53,674 2007.9,700 2008.4,736 2008.7,799.5 2009,786.3 2009.3,859.4 2009.64,859.4 2009.99,808.5 2010.33,822.4 2010.67,833.8 2011.01,840.2 2011.36,780.6 2011.7,780.6 2012.03,780.6 2012.37,783.2 2012.7,785.9 2013.03,785.6 2013.37,783.7 2013.7,789 2014.05,815 2014.4,847 2014.75,867.7 2015.1,902.4 2015.45,902.4 2015.8,870.2 2016.15,891.7 2016.5,826.6 2016.84,826.6 2017.18,826.6 2017.52,826.6 2017.86,844 2018.2,858 2018.54,877.4 2018.88,896 2019.22,913 2019.56,927.3 2019.9,941.4 2020.25,931.2 2020.6,925.1 2020.95,911.6 2021.3,903.6 2021.62,971 2021.95,947.2 2022.27,959.4 2022.6,1016.4 2022.95,1016.4 2023.3,1016.4 2023.65,1016.4 2024,1016.4 2024.35,1002.6 2024.7,1002.6 2025.04,1037.8 2025.38,1036.1 2025.72,1002.6 2026.06,1015.4 2026.4,1042 2026.74,1049.7 2027.08,1054.4 2027.42,1053.7 2027.76,1063.9 2028.1,1073 2028.5,1144 2028.83,1147.6 2029.17,1162.8 2029.5,1174 2029.83,1184.2 2030.17,1193.5 2030.5,1208.4 2030.83,1207.6 2031.17,1202.7 2031.5,1176.5 2031.83,1139.2 2032.17,1131.1 2032.5,1129.6 2032.83,1158.8 2033.17,1136.9 2033.5,1165.5 2033.83,1175.4 2034.17,1175.4 2034.5,1175.4 2034.85,1161.7 2035.2,1175.4 2035.55,1123.6 2035.9,1098.6 2036.25,1098.6 2036.6,1098.6 2036.93,1128.6 2037.27,1132.3 2037.6,1164.8 2037.93,1156.9 2038.27,1137 2038.6,1176.7 2038.93,1180.7 2039.27,1180.7 2039.6,1180.7 2039.93,1180.7 2040.27,1176.7 2040.6,1180.7 2040.93,1180.7 2041.27,1180.7 2041.6,1194.9 2041.93,1219.1 2042.27,1249.2 2042.6,1272 2042.93,1265.1 2043.27,1260 2043.6,1250.5 2043.93,1249.3 2044.27,1244.1 2044.6,1242.9 2044.94,1255.3 2045.29,1270.4 2045.63,1291.9 2045.97,1246.1 2046.31,1265.7 2046.66,1285.8 2047,1300.3 2047.34,1288.1 2047.68,1273.1 2048.02,1235.1 2048.36,1198 2048.7,1188.4 2049.03,1209.6 2049.37,1212.5 2049.7,1236.3 2050.03,1253.4 2050.37,1253.4 2050.7,1253.4 2051.02,1264.2 2051.34,1269.1 2051.66,1276 2051.98,1263.8 2052.3,1276 2052.63,1276 2052.97,1276 2053.3,1240.9 2053.63,1240.9 2053.97,1240.9 2054.3,1240.9 2054.64,1268.3 2054.99,1240.9 2055.33,1262.4 2055.67,1240.9 2056.01,1247.7 2056.36,1269.7 2056.7,1293.8 2057.05,1314.2 2057.4,1293.8 2057.75,1293.8 2058.1,1295.6 2058.45,1317 2058.8,1333.8 2059.13,1316.8 2059.47,1292.1 2059.8,1303.8 2060.13,1315.1 2060.47,1329.6 2060.8,1287.3 2061.14,1293.8 2061.49,1293.8 2061.83,1287.3 2062.17,1287.3 2062.51,1287.3 2062.86,1287.3 2063.2,1293.8 2063.53,1310.5 2063.87,1334 2064.2,1324.3 2064.53,1343.9 2064.87,1358.4 2065.2,1358.4 2065.54,1370.2 2065.89,1358.4 2066.23,1358.4 2066.57,1363.3 2066.91,1374.4 2067.26,1388.7 2067.6,1398.8 2067.96,1398.8 2068.31,1414.1 2068.67,1428.1 2069.03,1414.4 2069.39,1432.7 2069.74,1425.1 2070.1,1438.3 2070.5,1377.9 2070.9,1315.6 2071.26,1315.1 2071.61,1315.1 2071.97,1315.1 2072.33,1315.1 2072.69,1315.1 2073.04,1315.1 2073.4,1315.1 2073.74,1339.7 2074.08,1321.5 2074.42,1342.2 2074.76,1363.8 2075.1,1363.8 2075.42,1363.8 2075.74,1363.8 2076.07,1373 2076.39,1363.8 2076.71,1363.8 2077.03,1363.8 2077.36,1363.8 2077.68,1372.2 2078,1389.4 2078.4,1300.9 2078.74,1300.9 2079.08,1300.9 2079.42,1300.9 2079.76,1282 2080.1,1282 2080.5,1143.2 2080.85,1163.6 2081.2,1151.8 2081.55,1175.4 2081.9,1160.4 2082.25,1156 2082.6,1186.1 2082.95,1186.1 2083.3,1186.1 2083.65,1186.1 2084,1163.5 2084.35,1164.7 2084.7,1134.8 2085.04,1144.2 2085.38,1151.4 2085.72,1158.7 2086.06,1167 2086.4,1173.5 2086.72,1142.9 2087.05,1113.9 2087.38,1086.5 2087.7,1055.6 2088.02,1055.6 2088.34,1055.6 2088.66,1055.1 2088.98,1055.1 2089.3,1055.1 2089.64,1062.9 2089.98,1077.4 2090.32,1089.6 2090.66,1106.9 2091,1124.8 2091.34,1124.8 2091.68,1124.8 2092.02,1144.8 2092.36,1161.3 2092.7,1187.7 2093.05,1219.5 2093.4,1194.9 2093.75,1187.7 2094.1,1187.7 2094.45,1195.4 2094.8,1225.4 2095.15,1225.4 2095.5,1225.4 2095.85,1225.4 2096.2,1225.4 2096.55,1242.1 2096.9,1254.8 2097.26,1254.8 2097.61,1254.8 2097.97,1264.4 2098.33,1278.3 2098.69,1273 2099.04,1254.8 2099.4,1278.3 2099.75,1278.3 2100.1,1278.3 2100.45,1275.7 2100.8,1275.7 2101.15,1275.7 2101.5,1275.7 2101.82,1273 2102.15,1243.8 2102.48,1243.8 2102.8,1243.8 2103.15,1272 2103.5,1272 2103.85,1272 2104.2,1267.1 2104.55,1243.8 2104.9,1272 2105.22,1243.5 2105.54,1206.4 2105.86,1168.4 2106.18,1132.6 2106.5,1099.2 2106.84,1105.2 2107.18,1114.8 2107.52,1114.8 2107.86,1114.8 2108.2,1114.8 2108.54,1109.2 2108.88,1110.2 2109.22,1111.2 2109.56,1061.7 2109.9,1054.3 2110.25,1091.8 2110.6,1075 2110.95,1111.9 2111.3,1128.3 2111.65,1117.6 2112,1129 2112.34,1129 2112.68,1131.1 2113.02,1131.1 2113.36,1131.1 2113.7,1131.1 2114.02,1134.1 2114.34,1160 2114.66,1185.4 2114.98,1168.1 2115.3,1196.1 2115.62,1196.1 2115.95,1196.1 2116.28,1211.8 2116.6,1228.7 2116.93,1215 2117.25,1237.3 2117.58,1218.7 2117.9,1238 2118.26,1254.3 2118.61,1276 2118.97,1286.7 2119.33,1286.7 2119.69,1276.5 2120.04,1267.5 2120.4,1286.7 2120.75,1284.1 2121.1,1282.2 2121.45,1254.2 2121.8,1238 2122.15,1238.2 2122.5,1238 2122.8,1208.5 2123.1,1183.5 2123.4,1183.5 2123.7,1183.5 2124.02,1156.2 2124.35,1161.8 2124.68,1120.8 2125,1065.6 2125.35,1091.8 2125.7,1065.6 2126.05,1088.3 2126.4,1119.9 2126.75,1101.8 2127.1,1123.2 2127.2,1048.5 2127.57,1048.5 2127.93,1016.4 2128.3,1016.4 2128.7,1029.5 2129.1,1048 2129.45,985.7 2129.8,914.2 2130.17,914.2 2130.53,914.2 2130.9,952.3 2131.2,952.3 2131.5,951.7 2131.85,892.8 2132.2,847.4 2132.57,847.9 2132.93,847.4 2133.3,847.9 2133.63,882.7 2133.97,882.7 2134.3,882.7 2134.65,864.6 2135,873.6 2135.35,882.7 2135.7,863.1 2136.1,901.7 2136.5,901.7 2136.8,928.2 2137.1,917.3 2137.4,948 2137.7,948 2138,948 2138.3,888.1 2138.7,893 2139.1,893 2139.45,924.6 2139.8,953.9 2140.17,974.4 2140.53,957.4 2140.9,986.5 2141.3,1019.7 2141.7,1009.9 2142.07,1020.3 2142.43,1024 2142.8,1030 2143.15,1030 2143.5,1053.9 2143.9,1085.5 2144.22,1085.5 2144.54,1080.7 2144.86,1082.2 2145.18,1076.8 2145.5,1074 2145.84,1108.1 2146.18,1124.8 2146.52,1124.8 2146.86,1124.8 2147.2,1124.8 2147.54,1170.9 2147.88,1146.6 2148.22,1170.9 2148.56,1169.7 2148.9,1170.9 2149.2,1198.2 2149.5,1200.8 2149.8,1200.8 2150.1,1200.8 2150.44,1200.1 2150.78,1200.1 2151.12,1200.8 2151.46,1200.8 2151.8,1130.6 2152.15,1130.6 2152.5,1150.7 2152.85,1162.4 2153.2,1166.7 2153.55,1166.7 2153.9,1166.7 2154.24,1181.9 2154.58,1199.4 2154.92,1166.7 2155.26,1184.8 2155.6,1204.5 2155.94,1226.5 2156.28,1224.6 2156.62,1255.3 2156.96,1239.1 2157.3,1267.4 2157.62,1279.7 2157.94,1282.6 2158.26,1290.5 2158.58,1298.7 2158.9,1309.3 2159.24,1309.3 2159.58,1309.3 2159.92,1309.3 2160.26,1311 2160.6,1334.4 2160.96,1346.1 2161.31,1334.4 2161.67,1334.4 2162.03,1334.4 2162.39,1341.2 2162.74,1352 2163.1,1368 2163.44,1368 2163.78,1368 2164.12,1373.1 2164.46,1386.7 2164.8,1397.8 2165.16,1397.8 2165.51,1397.8 2165.87,1397.8 2166.23,1397.8 2166.59,1397.8 2166.94,1397.8 2167.3,1394.7 2167.64,1410.2 2167.98,1430.6 2168.32,1399.8 2168.66,1419.2 2169,1439.3 2169.35,1439.3 2169.7,1439.3 2170.05,1453 2170.4,1458.6 2170.75,1458.6 2171.1,1458.6 2171.43,1443.8 2171.75,1427.8 2172.07,1409 2172.4,1394.7 2172.75,1394.7 2173.1,1401.4 2173.45,1425.4 2173.8,1397.7 2174.15,1422.5 2174.5,1441.8 2174.9,1390 2175.3,1310.9 2175.65,1310.9 2176,1310.9 2176.35,1319.2 2176.7,1328.6 2177.05,1328.6 2177.4,1328.6 2177.7,1328.6 2178,1328.6 2178.3,1298.7 2178.6,1262.7 2178.94,1262.7 2179.28,1262.7 2179.62,1262.7 2179.96,1267.3 2180.3,1278.3 2180.62,1209.3 2180.95,1202.5 2181.28,1200.4 2181.6,1193.5 2181.94,1230.1 2182.28,1206.2 2182.62,1217.2 2182.96,1197.6 2183.3,1238 2183.62,1260.6 2183.94,1275.8 2184.26,1264 2184.58,1279.9 2184.9,1298.5 2185.22,1275.7 2185.55,1259.3 2185.88,1215.6 2186.2,1200.3 2186.52,1142 2186.85,1082.1 2187.18,1070.3 2187.5,1061.9 2187.5,862.6 2188,819.1 2188.32,819.1 2188.64,819.1 2188.96,819.1 2189.28,819.1 2189.6,819.6 2189.97,866.9 2190.33,819.6 2190.7,867 2191.1,928.4 2191.4,910.2 2191.7,892.5 2192.07,898.6 2192.43,892.5 2192.8,937.1 2193.17,937.1 2193.53,937.1 2193.9,907.7 2194.27,907.7 2194.63,907.7 2195,908.3 2195.37,928.8 2195.73,953.8 2196.1,975.7 2196.43,975.7 2196.75,992.8 2197.07,1015.6 2197.4,1036.7 2197.7,1008.5 2198,977.4 2198.3,944.6 2198.62,944.6 2198.95,944.6 2199.28,945.2 2199.6,945.2 2199.97,974.9 2200.33,961.6 2200.7,989.3 2201.03,955.5 2201.37,955.5 2201.7,955.5 2202.02,956.1 2202.34,955.7 2202.66,955.5 2202.98,955.5 2203.3,956.1 2203.7,1040.9 2204.1,1040.9 2204.43,1079.4 2204.77,1082.5 2205.1,1082.5 2205.2,947.4 2205.5,935.9 2205.8,833.3 2206.1,825.7 2206.44,825.7 2206.78,826.6 2207.12,825.7 2207.46,825.7 2207.8,826.6 2208.18,860.1 2208.55,881.9 2208.93,864.6 2209.3,888.7 2209.67,914.8 2210.03,914.8 2210.4,914.8 2210.7,923.7 2211,938.7 2211.3,953.9 2211.6,967.5 2211.9,992 2212.2,1008.3 2212.52,1008.3 2212.85,1041.6 2213.18,1053.9 2213.5,1053.9 2213.5,1059.8 2213.82,1072.9 2214.14,1082 2214.46,1099.6 2214.78,1111.2 2215.1,1120.6 2215.44,1142.9 2215.78,1154.2 2216.12,1120.6 2216.46,1128.5 2216.8,1154.2 2217.15,1154.2 2217.5,1164.9 2217.85,1177.1 2218.2,1198.7 2218.55,1198.7 2218.9,1198.7 2219.25,1198.7 2219.6,1195.2 2219.95,1189.3 2220.3,1189.3 2220.65,1189.3 2221,1189.3 2221.34,1189.3 2221.68,1196.7 2222.02,1229.1 2222.36,1232.9 2222.7,1233.8 2223.02,1245.8 2223.34,1258.6 2223.66,1266.5 2223.98,1271.6 2224.3,1271.6 2224.64,1276.8 2224.98,1277.8 2225.32,1283.7 2225.66,1284.2 2226,1290.9 2226.34,1290.9 2226.68,1275 2227.02,1290.9 2227.36,1290.9 2227.7,1273.2 2228.04,1289.3 2228.38,1282.2 2228.72,1297.3 2229.06,1309.4 2229.4,1320.3 2229.75,1320.3 2230.1,1320.3 2230.45,1320.3 2230.8,1289.8 2231.15,1293.3 2231.5,1277.3 2231.85,1292 2232.2,1308.2 2232.55,1325.6 2232.9,1341 2233.25,1330.6 2233.6,1345.4 2233.95,1345.4 2234.3,1345.4 2234.65,1340.2 2235,1340.2 2235.35,1340.2 2235.7,1340.2 2236.05,1366.6 2236.4,1395.3 2236.75,1399.9 2237.1,1393.2 2237.45,1399.9 2237.8,1399.9 2238.1,1334 2238.4,1284.3 2238.7,1274.3 2239,1261.4 2239.35,1287.2 2239.7,1304.6 2240.05,1323.3 2240.4,1337 2240.75,1337 2241.1,1337 2241.45,1337 2241.8,1336.9 2242.15,1284.5 2242.5,1284.1 2242.85,1284.1 2243.2,1284.1 2243.52,1265.6 2243.85,1265.6 2244.18,1265.6 2244.5,1265.6 2244.85,1265.6 2245.2,1269.2 2245.55,1295.8 2245.9,1320 2246.25,1321.9 2246.6,1321.9 2246.92,1345 2247.24,1370.1 2247.56,1388.9 2247.88,1388.9 2248.2,1388.9 2248.55,1411.6 2248.9,1428.8 2249.25,1426.9 2249.6,1428.8 2249.95,1428.8 2250.3,1428.8 2250.62,1437 2250.95,1448.2 2251.28,1428.8 2251.6,1428.8 2251.93,1429 2252.25,1438.6 2252.58,1445 2252.9,1451.8 2253.23,1454.4 2253.56,1454.4 2253.89,1454.4 2254.22,1454.4 2254.55,1451.8 2254.88,1451.8 2255.21,1451.8 2255.54,1451.8 2255.87,1451.8 2256.2,1454.4 2256.52,1441.2 2256.85,1429.4 2257.18,1415.8 2257.5,1397.3 2257.9,1326.3 2258.3,1307.5 2258.65,1318.9 2259,1326.1 2259.35,1326.1 2259.7,1307.5 2260.05,1311.4 2260.4,1326.1 2260.75,1340.8 2261.1,1354.8 2261.45,1343.8 2261.8,1326.1 2262.15,1345.2 2262.5,1366.4 2262.84,1366.4 2263.18,1366.4 2263.52,1352.8 2263.86,1352.8 2264.2,1352.8 2264.55,1376 2264.9,1395.9 2265.25,1364 2265.6,1353.2 2265.95,1375.2 2266.3,1397.3 2266.64,1415.3 2266.98,1434.5 2267.32,1435.1 2267.66,1435.1 2268,1435.1 2268.33,1445.5 2268.67,1450.8 2269,1456.4 2269.33,1457.8 2269.67,1457.8 2270,1457.8 2270.32,1442.1 2270.65,1410.3 2270.98,1397.1 2271.3,1380.6 2271.64,1380.6 2271.98,1380.6 2272.32,1380.6 2272.66,1380.6 2273,1346.5 2273.36,1354.8 2273.71,1352.6 2274.07,1346.5 2274.43,1346.5 2274.79,1361 2275.14,1356.3 2275.5,1383.2 2275.82,1372.5 2276.15,1362.5 2276.48,1355.7 2276.8,1348.6 2277.12,1357.9 2277.44,1365.3 2277.76,1376.9 2278.08,1388.8 2278.4,1397.3 2278.75,1406.6 2279.1,1415.8 2279.45,1420.9 2279.8,1402.1 2280.15,1412.3 2280.5,1420.9 2280.84,1401.2 2281.18,1385.5 2281.52,1370.1 2281.86,1352.3 2282.2,1335.2 2282.55,1354.8 2282.9,1368.7 2283.25,1380.6 2283.6,1353.2 2283.95,1369.6 2284.3,1380.6 2284.65,1394.8 2285,1403.5 2285.35,1416.3 2285.7,1405.5 2286.05,1419.2 2286.4,1430.9 2286.76,1448.4 2287.11,1460.7 2287.47,1434 2287.83,1430.9 2288.19,1430.9 2288.54,1443.5 2288.9,1460.7 2289.25,1415.5 2289.6,1414.7 2289.95,1412 2290.3,1416.1 2290.65,1413 2291,1409.9 2291.35,1409.9 2291.7,1409.9 2292.05,1393.1 2292.4,1393.1 2292.75,1393.1 2293.1,1393.1 2293.44,1387.9 2293.78,1384.8 2294.12,1378.5 2294.46,1372.8 2294.8,1366.6 2295.15,1383.6 2295.5,1397.7 2295.85,1417.5 2296.2,1418.3 2296.55,1418.3 2296.9,1418.3 2297.24,1418.3 2297.58,1418.3 2297.92,1418.3 2298.26,1426 2298.6,1439.3 2298.95,1460.8 2299.3,1483.5 2299.65,1502.6 2300,1502 2300.35,1486.8 2300.7,1502.6 2301.06,1502.6 2301.41,1477.4 2301.77,1478 2302.13,1484.1 2302.49,1489.6 2302.84,1489 2303.2,1472.3 2303.55,1489.5 2303.9,1502.1 2304.25,1506.8 2304.6,1493.5 2304.95,1490.4 2305.3,1506.8 2305.65,1480.3 2306,1480.8 2306.35,1454.7 2306.7,1454.7 2307.05,1454.7 2307.4,1454.7 2307.75,1465.9 2308.1,1471.5 2308.45,1481 2308.8,1481.2 2309.15,1481.2 2309.5,1481.2 2309.86,1492.4 2310.21,1498.1 2310.57,1508.1 2310.93,1519.1 2311.29,1509.5 2311.64,1518 2312,1523.6 2312.32,1518.2 2312.64,1510.7 2312.96,1504.8 2313.28,1473.8 2313.6,1470.2 2313.95,1470.2 2314.3,1480.5 2314.65,1497.1 2315,1514.2 2315.35,1501.8 2315.7,1517.3 2316.04,1495.4 2316.38,1504.4 2316.72,1513.6 2317.06,1495.4 2317.4,1495.4 2317.75,1506 2318.1,1515.1 2318.45,1528.4 2318.8,1510.3 2319.15,1522.9 2319.5,1534.9 2319.84,1534.9 2320.18,1531.3 2320.52,1513 2320.86,1512.3 2321.2,1489.6 2321.54,1489.6 2321.88,1488.5 2322.22,1489.6 2322.56,1489.1 2322.9,1487 2323.25,1487 2323.6,1487 2323.95,1487.4 2324.3,1497.6 2324.65,1509.6 2325,1519.4 2325.35,1519.4 2325.7,1507.9 2326.05,1510.5 2326.4,1515.6 2326.75,1519.4 2327.1,1507.9 2327.42,1528.2 2327.74,1532 2328.06,1532 2328.38,1532 2328.7,1532 2329.05,1527.7 2329.4,1523.5 2329.75,1518.7 2330.1,1487.8 2330.45,1482.5 2330.8,1474.4 2331.15,1474.4 2331.5,1474.4 2331.85,1490.6 2332.2,1482.8 2332.55,1493.8 2332.9,1493.8 2333.25,1519.5 2333.6,1541.6 2333.95,1540.8 2334.3,1541 2334.65,1541.6 2335,1541.6 2335.32,1541.6 2335.65,1518.1 2335.98,1478.1 2336.3,1457.6 2336.64,1464.3 2336.98,1470.5 2337.32,1476.9 2337.66,1478.9 2338,1479.6 2338.3,1470.8 2338.6,1459.3 2338.9,1399.1 2339.2,1390.5 2339.54,1394.7 2339.88,1397.3 2340.22,1400.4 2340.56,1403.8 2340.9,1408.3 2341.3,1369.9 2341.7,1319.3 2342.04,1319.3 2342.38,1319.3 2342.72,1324.7 2343.06,1346.7 2343.4,1374.8 2343.75,1374.8 2344.1,1374.8 2344.45,1374.8 2344.8,1374.8 2345.15,1374.8 2345.5,1363.8 2345.84,1350.5 2346.18,1341.4 2346.52,1297 2346.86,1246.5 2347.2,1235.4 2347.55,1250.3 2347.9,1257.6 2348.25,1268.6 2348.6,1275.9 2348.95,1285.2 2349.3,1293 2349.7,1227.1 2350.1,1166.7 2350.43,1166.7 2350.75,1166.7 2351.07,1166.7 2351.4,1113.8 2351.74,1144.4 2352.08,1113.8 2352.42,1125.2 2352.76,1150.4 2353.1,1179.3 2353.46,1213.7 2353.81,1213.9 2354.17,1201.6 2354.53,1190 2354.89,1219 2355.24,1246.3 2355.6,1270 2355.94,1261.2 2356.28,1211.5 2356.62,1206.3 2356.96,1202.6 2357.3,1167.5 2357.63,1189.7 2357.97,1208.7 2358.3,1191.5 2358.63,1171.9 2358.97,1193 2359.3,1208.7 2359.62,1222.8 2359.95,1237.6 2360.28,1208.7 2360.6,1208.7 2360.93,1208.7 2361.25,1208.7 2361.58,1222.2 2361.9,1238 2362.26,1254.8 2362.61,1238 2362.97,1238 2363.33,1238 2363.69,1238 2364.04,1238 2364.4,1254.8 2364.75,1276.6 2365.1,1293.1 2365.45,1257.9 2365.8,1275.6 2366.15,1298.9 2366.5,1314 2366.84,1295.2 2367.18,1275.8 2367.52,1228.8 2367.86,1213.5 2368.2,1193.5 2368.53,1193.5 2368.87,1218.9 2369.2,1207.1 2369.53,1254.1 2369.87,1270.2 2370.2,1271.6 2370.52,1297.1 2370.85,1320 2371.18,1307.7 2371.5,1332.6 2371.82,1338.6 2372.15,1338.6 2372.48,1338.6 2372.8,1338.6 2373.12,1345.3 2373.44,1348.7 2373.76,1352.6 2374.08,1362.3 2374.4,1372.7 2374.72,1336 2375.05,1336 2375.38,1336 2375.7,1336 2376.06,1358.2 2376.41,1342.9 2376.77,1361.8 2377.13,1380.2 2377.49,1358.8 2377.84,1382.4 2378.2,1406.2 2378.5,1399.7 2378.8,1394.5 2379.1,1392.8 2379.4,1362.6 2379.7,1347.3 2380,1334.1 2380.3,1322.9 2380.6,1306.1 2380.93,1306.1 2381.27,1306.1 2381.6,1306.1 2381.93,1306.1 2382.27,1306.1 2382.6,1306.1 2382.92,1306.1 2383.24,1326.6 2383.56,1337.4 2383.88,1361 2384.2,1361 2384.53,1361 2384.87,1361 2385.2,1361 2385.53,1361 2385.87,1361 2386.2,1360.2 2386.55,1378.2 2386.9,1394.9 2387.25,1394.9 2387.6,1383.3 2387.95,1373.2 2388.3,1394.9 2388.63,1409.2 2388.97,1421.6 2389.3,1394.9 2389.63,1401 2389.97,1413.3 2390.3,1421.6 2390.63,1408.6 2390.97,1408.6 2391.3,1409.8 2391.63,1408.6 2391.97,1408.6 2392.3,1408.6 2392.62,1418.5 2392.94,1427.8 2393.26,1433.6 2393.58,1439.7 2393.9,1447 2394.22,1439.8 2394.54,1434.2 2394.86,1422.7 2395.18,1416.6 2395.5,1410.6 2395.83,1410.6 2396.17,1410.6 2396.5,1410.6 2396.83,1414.5 2397.17,1427.5 2397.5,1443.8 2397.85,1443.8 2398.2,1443.5 2398.55,1423.6 2398.9,1426.8 2399.25,1430.1 2399.6,1403 2399.93,1402.6 2400.27,1403 2400.6,1403 2400.93,1403 2401.27,1403 2401.6,1402.6 2401.92,1420 2402.24,1429.6 2402.56,1429.6 2402.88,1416.9 2403.2,1429.6 2403.53,1429.6 2403.87,1429.6 2404.2,1429.6 2404.53,1404.6 2404.87,1404.6 2405.2,1404.6 2405.52,1424 2405.84,1438.6 2406.16,1453.9 2406.48,1453.9 2406.8,1453.9 2407.1,1439.1 2407.4,1421.9 2407.7,1412.3 2408,1398.9 2408.35,1398.9 2408.7,1386.8 2409.05,1397.7 2409.4,1382 2409.75,1392.1 2410.1,1376.3 2410.42,1376.3 2410.74,1376.7 2411.06,1396.6 2411.38,1376.3 2411.7,1403 2412.03,1421 2412.37,1435.3 2412.7,1423.3 2413.03,1435.3 2413.37,1435.3 2413.7,1435.3 2414.03,1442.7 2414.37,1453.2 2414.7,1463.8 2415.03,1466 2415.37,1466 2415.7,1466 2416.03,1466 2416.37,1466 2416.7,1466 2417.03,1466 2417.37,1466 2417.7,1445 2418.05,1459.6 2418.4,1445 2418.75,1454.8 2419.1,1466.5 2419.45,1480.3 2419.8,1494.2 2420.12,1494.2 2420.44,1494.2 2420.76,1494.2 2421.08,1494.2 2421.4,1489.4 2421.72,1489.4 2422.04,1495.5 2422.36,1512.1 2422.68,1522.5 2423,1522.5 2423.34,1522.5 2423.69,1522.5 2424.03,1522.5 2424.37,1522.5 2424.71,1514.7 2425.06,1489.4 2425.4,1489.4 2425.7,1499.5 2426,1496.6 2426.3,1507.4 2426.6,1521.7 2426.9,1506.6 2427.2,1496 2427.5,1484.4 2427.8,1472.4 2428.13,1472.4 2428.47,1483.5 2428.8,1490.9 2429.13,1510.4 2429.47,1510.2 2429.8,1510.4 2430.15,1510.1 2430.5,1510.4 2430.85,1509.9 2431.2,1510.4 2431.55,1510.4 2431.9,1489.4 2432.23,1500.9 2432.57,1489.4 2432.9,1498.9 2433.23,1508 2433.57,1506.1 2433.9,1518.5 2434.23,1518.5 2434.57,1518.5 2434.9,1518.5 2435.23,1518.5 2435.57,1497.4 2435.9,1497.4 2436.24,1512 2436.59,1528.8 2436.93,1535.4 2437.27,1521.4 2437.61,1501 2437.96,1519.9 2438.3,1535.4 2438.64,1532.9 2438.99,1510.1 2439.33,1508.2 2439.67,1500.3 2440.01,1492.9 2440.36,1488.6 2440.7,1483.7 2441.04,1480.7 2441.38,1474.4 2441.72,1469.9 2442.06,1469.3 2442.4,1465.1 2442.72,1465.1 2443.04,1473 2443.36,1477.9 2443.68,1499.5 2444,1522.5 2444.32,1517 2444.64,1505.9 2444.96,1496.8 2445.28,1489.7 2445.6,1481.3 2445.92,1481.3 2446.24,1493.1 2446.56,1481.3 2446.88,1485.9 2447.2,1503.9 2447.53,1515.5 2447.87,1503.9 2448.2,1503.9 2448.53,1510.4 2448.87,1520.7 2449.2,1531.4 2449.53,1513.4 2449.87,1506.1 2450.2,1517.6 2450.53,1497.4 2450.87,1509.8 2451.2,1497.4 2451.56,1508.1 2451.91,1497.4 2452.27,1497.4 2452.63,1497.4 2452.99,1497.9 2453.34,1511.1 2453.7,1524.5 2454.04,1520.1 2454.39,1520.1 2454.73,1520.1 2455.07,1520.1 2455.41,1523.6 2455.76,1520.1 2456.1,1520.1 2456.5,1478.1 2456.9,1469.2 2457.2,1482.1 2457.5,1482.1 2457.8,1482.1 2458.1,1482.1 2458.42,1462.1 2458.74,1473.6 2459.06,1457 2459.38,1431.6 2459.7,1426 2460.03,1439.2 2460.37,1445 2460.7,1451.4 2461.03,1451.4 2461.37,1451.4 2461.7,1451.4 2462.05,1451.4 2462.4,1451.4 2462.75,1451.4 2463.1,1468.6 2463.45,1502.3 2463.8,1502.3 2464.13,1502.3 2464.47,1502.3 2464.8,1502.3 2465.13,1469.2 2465.47,1469.2 2465.8,1469.2 2466.13,1486 2466.47,1469.5 2466.8,1487.8 2467.13,1487.8 2467.47,1487.8 2467.8,1487.8 2468.12,1501.7 2468.44,1487.8 2468.76,1496.8 2469.08,1494.5 2469.4,1513.6 2469.72,1509.4 2470.04,1507.3 2470.36,1500.4 2470.68,1500.7 2471,1479.7 2471.33,1469.6 2471.67,1479.7 2472,1471.6 2472.33,1469.6 2472.67,1479.7 2473,1469.6 2473.34,1438.5 2473.68,1435.3 2474.02,1435.3 2474.36,1435.3 2474.7,1435.3 2475.1,1386.3 2475.5,1372.3 2475.83,1383.2 2476.17,1399.4 2476.5,1409.5 2476.83,1409.5 2477.17,1394.5 2477.5,1409.5 2477.8,1369.6 2478.1,1384.7 2478.4,1393.5 2478.7,1368.7 2479.03,1340 2479.37,1360.8 2479.7,1368.7 2480.03,1368.7 2480.37,1359.6 2480.7,1340 2481.03,1352.9 2481.37,1352.9 2481.7,1352.9 2482.03,1352.9 2482.37,1340 2482.7,1352.9 2483.05,1348.9 2483.4,1350.3 2483.75,1347.6 2484.1,1325.7 2484.45,1326 2484.8,1322.2 2485.12,1286.9 2485.44,1277 2485.76,1262.2 2486.08,1251.2 2486.4,1239.1 2486.72,1252.9 2487.04,1264.4 2487.36,1275.8 2487.68,1282.4 2488,1288.3 2488.33,1273.4 2488.67,1285.9 2489,1245.6 2489.33,1261 2489.67,1276.2 2490,1235.8 2490.32,1244.9 2490.64,1252.4 2490.96,1256.4 2491.28,1260.8 2491.6,1272.2 2491.93,1267.2 2492.27,1260.2 2492.6,1261.3 2492.93,1256.1 2493.27,1255 2493.6,1220.9 2493.92,1250.1 2494.24,1220.9 2494.56,1255.9 2494.88,1280.3 2495.2,1280.3 2495.52,1268.3 2495.85,1259.2 2496.18,1255.9 2496.5,1223.7 2496.83,1247.3 2497.17,1264.1 2497.5,1264.1 2497.83,1264.1 2498.17,1264.1 2498.5,1264.1 2498.82,1264.1 2499.14,1264.1 2499.46,1264.1 2499.78,1264.1 2500.1,1255.2 2500.42,1264.8 2500.74,1277.9 2501.06,1291.2 2501.38,1304.1 2501.7,1314.2 2502.02,1314.2 2502.34,1314.2 2502.66,1316.1 2502.98,1335.5 2503.3,1354.5 2503.63,1367.8 2503.97,1373.9 2504.3,1373.9 2504.63,1373.9 2504.97,1373.9 2505.3,1373.9 2505.65,1373.9 2506,1373.9 2506.35,1370.2 2506.7,1358.6 2507.05,1358.6 2507.4,1358.6 2507.7,1349.8 2508,1345.3 2508.3,1337.7 2508.6,1300 2508.92,1299.9 2509.24,1300 2509.56,1281.4 2509.88,1281.4 2510.2,1281.4 2510.54,1284.2 2510.89,1281.4 2511.23,1307.7 2511.57,1285.4 2511.91,1320.2 2512.26,1299.4 2512.6,1330.7 2512.9,1297.3 2513.2,1281.2 2513.5,1270.7 2513.8,1225.3 2514.12,1199.5 2514.44,1199.5 2514.76,1199.5 2515.08,1199.5 2515.4,1199.5 2515.75,1199.5 2516.1,1199.5 2516.45,1199.5 2516.8,1217.1 2517.15,1237.1 2517.5,1260.1 2517.8,1260.1 2518.1,1260.1 2518.4,1233.4 2518.7,1233.4 2519,1223.4 2519.3,1213.1 2519.6,1166.2 2519.9,1125.2 2520.22,1125.2 2520.54,1120.4 2520.86,1120.4 2521.18,1120.4 2521.5,1120.4 2521.82,1107.8 2522.14,1118.1 2522.46,1120.4 2522.78,1120.4 2523.1,1107.8 2523.42,1133.7 2523.74,1152.7 2524.06,1177.1 2524.38,1160.6 2524.7,1180.9 2525.02,1180.9 2525.34,1189.5 2525.66,1218.2 2525.98,1249.6 2526.3,1249.6 2526.64,1261.7 2526.98,1249.6 2527.32,1275.2 2527.66,1282.3 2528,1282.3 2528.32,1282.3 2528.64,1282.3 2528.96,1256.3 2529.28,1274.4 2529.6,1255.2 2529.92,1265.8 2530.24,1276.8 2530.56,1280.3 2530.88,1263.9 2531.2,1280.3 2531.52,1280.3 2531.84,1280.3 2532.16,1280.3 2532.48,1259.2 2532.8,1259.2 2533.12,1259.2 2533.44,1259.2 2533.76,1261.5 2534.08,1283.4 2534.4,1306.1 2534.72,1322.2 2535.04,1322.2 2535.36,1314 2535.68,1322.2 2536,1322.2 2536.32,1337 2536.64,1357 2536.96,1322.2 2537.28,1337.7 2537.6,1357 2537.93,1336.2 2538.25,1315.2 2538.57,1299 2538.9,1279.4 2539.23,1303.7 2539.57,1324.7 2539.9,1324.7 2540.23,1324.7 2540.57,1324.7 2540.9,1324.7 2541.22,1324.7 2541.54,1317.2 2541.86,1324.7 2542.18,1301.6 2542.5,1301.6 2542.83,1311.6 2543.17,1301.6 2543.5,1301.6 2543.83,1309.5 2544.17,1320.7 2544.5,1336.8 2544.82,1327.9 2545.14,1327.9 2545.46,1327.9 2545.78,1336.8 2546.1,1327.9 2546.43,1348 2546.77,1371.2 2547.1,1389.3 2547.43,1389.3 2547.77,1389.3 2548.1,1389.3 2548.44,1389.3 2548.78,1389.3 2549.12,1376.9 2549.46,1360.2 2549.8,1360.2 2550.14,1360.2 2550.49,1360.2 2550.83,1360.2 2551.17,1360.2 2551.51,1365.8 2551.86,1381 2552.2,1394.9 2552.53,1429.3 2552.87,1447.4 2553.2,1447.4 2553.53,1447.4 2553.87,1447.4 2554.2,1447.4 2554.52,1465.6 2554.84,1482.9 2555.16,1480.2 2555.48,1482.9 2555.8,1482.9 2556.2,1437.5 2556.6,1354.5 2556.92,1353.2 2557.24,1348.2 2557.56,1326.8 2557.88,1322.2 2558.2,1322.2 2558.6,1298.8 2559,1298.8 2559.35,1337 2559.7,1310.2 2560.05,1298.8 2560.4,1323.3 2560.75,1303.8 2561.1,1338.4 2561.43,1354.5 2561.77,1338.4 2562.1,1338.4 2562.43,1350 2562.77,1338.4 2563.1,1354.5 2563.43,1382.3 2563.77,1368.8 2564.1,1364.1 2564.43,1354.5 2564.77,1357.8 2565.1,1391.3 2565.43,1391.3 2565.77,1380.4 2566.1,1387.6 2566.43,1391.3 2566.77,1380.4 2567.1,1380.4 2567.44,1389.2 2567.79,1399.9 2568.13,1410 2568.47,1420.1 2568.81,1420.8 2569.16,1405.2 2569.5,1420.8 2569.85,1420.8 2570.2,1395.3 2570.55,1381 2570.9,1388.2 2571.25,1362.6 2571.6,1362.6 2571.92,1362.6 2572.24,1329.5 2572.56,1331.4 2572.88,1314.2 2573.2,1314.2 2573.6,1303.6 2574,1303.6 2574.33,1316.6 2574.67,1327.1 2575,1345.3 2575.33,1337 2575.67,1351.2 2576,1369.1 2576.33,1366.6 2576.67,1364.4 2577,1365.4 2577.33,1338.4 2577.67,1340.3 2578,1338.4 2578.32,1339.2 2578.64,1339.2 2578.96,1339.2 2579.28,1339.2 2579.6,1339.2 2579.93,1339.2 2580.27,1344.4 2580.6,1339.2 2580.93,1355 2581.27,1357.8 2581.6,1386.8 2581.95,1399.4 2582.3,1409 2582.65,1411.1 2583,1389.2 2583.35,1398.4 2583.7,1411.1 2584.04,1415.1 2584.39,1415.1 2584.73,1415.1 2585.07,1415.1 2585.41,1411.1 2585.76,1411.1 2586.1,1415.1 2586.43,1428.7 2586.77,1442.5 2587.1,1428.2 2587.43,1445.9 2587.77,1435.2 2588.1,1447.4 2588.43,1456.9 2588.77,1457.9 2589.1,1457.9 2589.43,1457.9 2589.77,1457.9 2590.1,1457.9 2590.42,1432.8 2590.74,1434.4 2591.06,1432.8 2591.38,1432.8 2591.7,1432.8 2592.04,1432.8 2592.38,1432.8 2592.72,1453.5 2593.06,1476.1 2593.4,1476.1 2593.73,1476.1 2594.07,1459.4 2594.4,1461.3 2594.73,1461.6 2595.07,1436 2595.4,1416.7 2595.73,1435.5 2596.07,1454.5 2596.4,1467.7 2596.73,1482.1 2597.07,1482.1 2597.4,1482.1 2597.72,1446.2 2598.04,1432 2598.36,1432 2598.68,1432 2599,1432 2599.32,1432 2599.64,1432 2599.96,1431.7 2600.28,1431.9 2600.6,1431.2 2600.93,1445.8 2601.27,1458.2 2601.6,1472 2601.93,1469.9 2602.27,1468.7 2602.6,1486.2 2602.93,1460 2603.25,1427.6 2603.57,1396.3 2603.9,1362.6 2604.2,1353.8 2604.5,1300.8 2604.8,1285.5 2605.1,1277.4 2605.43,1277.4 2605.77,1311.1 2606.1,1287.6 2606.43,1277.4 2606.77,1302.1 2607.1,1328.7 2607.4,1328.7 2607.7,1318.2 2608,1318.2 2608.3,1318.2 2608.62,1315.1 2608.94,1307 2609.26,1303.9 2609.58,1292.1 2609.9,1283.5 2610.23,1305.9 2610.57,1328.8 2610.9,1315.5 2611.23,1322.9 2611.57,1350.4 2611.9,1378.8 2612.23,1385.2 2612.57,1385.2 2612.9,1385.2 2613.23,1378.8 2613.57,1378.8 2613.9,1385.2 2614.25,1363.3 2614.6,1358.2 2614.95,1358.2 2615.3,1358.2 2615.65,1358.2 2616,1358.2 2616.34,1369.1 2616.69,1387.1 2617.03,1399 2617.37,1411.5 2617.71,1423.2 2618.06,1423.2 2618.4,1423.2 2618.74,1423.2 2619.09,1423.2 2619.43,1423.2 2619.77,1423.2 2620.11,1423.2 2620.46,1423.2 2620.8,1427.2 2621.13,1431.5 2621.47,1437.3 2621.8,1442.4 2622.13,1449.3 2622.47,1457.8 2622.8,1459.5 2623.14,1473.4 2623.49,1483.7 2623.83,1460.5 2624.17,1459.5 2624.51,1459.5 2624.86,1466.4 2625.2,1483.7 2625.55,1486.3 2625.9,1488.9 2626.25,1494.2 2626.6,1499.5 2626.95,1504 2627.3,1509.6 2627.64,1509.6 2627.99,1509.6 2628.33,1509.6 2628.67,1509.6 2629.01,1509.6 2629.36,1501.4 2629.7,1497.4 2630.04,1507 2630.39,1497.4 2630.73,1497.4 2631.07,1504.6 2631.41,1516.2 2631.76,1525.1 2632.1,1536.2 2632.46,1548.2 2632.81,1548.7 2633.17,1548.7 2633.52,1547.9 2633.88,1536.2 2634.23,1536.2 2634.59,1548.7 2634.94,1539.9 2635.3,1548.7 2635.62,1498 2635.95,1447 2636.28,1366.9 2636.6,1322.2 2636.9,1321.8 2637.2,1292.3 2637.5,1292.3 2637.8,1292.3 2638.13,1292.3 2638.47,1309.1 2638.8,1332.2 2639.13,1317.1 2639.47,1338.7 2639.8,1357 2640.12,1328.7 2640.44,1328.7 2640.76,1328.7 2641.08,1328.7 2641.4,1328.7 2641.72,1357 2642.04,1347.9 2642.36,1357 2642.68,1357 2643,1357 2643.32,1357 2643.64,1357 2643.96,1357 2644.28,1357 2644.6,1335.1 2644.93,1335.1 2645.27,1350 2645.6,1351.7 2645.93,1384.8 2646.27,1401.4 2646.6,1401.4 2646.93,1385.2 2647.25,1400.9 2647.57,1384.4 2647.9,1384.4 2648.23,1387.7 2648.57,1384.4 2648.9,1384.4 2649.23,1384.4 2649.57,1400.1 2649.9,1424.4 2650.22,1423.8 2650.54,1421.7 2650.86,1424.4 2651.18,1388.4 2651.5,1388.4 2651.82,1395.1 2652.14,1398.1 2652.46,1405.8 2652.78,1410.5 2653.1,1417.5 2653.42,1405 2653.74,1393 2654.06,1379.1 2654.38,1369 2654.7,1356.1 2655.03,1378.4 2655.37,1400.9 2655.7,1416.4 2656.03,1417.5 2656.37,1417.5 2656.7,1417.5 2657.05,1417.5 2657.4,1417.5 2657.75,1417.5 2658.1,1407.8 2658.45,1392.5 2658.8,1392.5 2659.14,1398.4 2659.49,1399.7 2659.83,1405.4 2660.17,1413 2660.51,1420.8 2660.86,1428.7 2661.2,1431.7 2661.52,1392.2 2661.84,1401.7 2662.16,1411.4 2662.48,1378.3 2662.8,1378.3 2663.13,1378.3 2663.47,1378.3 2663.8,1393.5 2664.13,1412.5 2664.47,1398.1 2664.8,1417.5 2665.13,1417.5 2665.47,1417.5 2665.8,1417.5 2666.13,1417.5 2666.47,1417.5 2666.8,1400.5 2667.15,1422 2667.5,1442.6 2667.85,1443.4 2668.2,1443.4 2668.55,1443.4 2668.9,1443.4 2669.23,1461.2 2669.57,1467.6 2669.9,1467.6 2670.23,1467.6 2670.57,1467.6 2670.9,1467.6 2671.22,1467.6 2671.54,1467.6 2671.86,1483.5 2672.18,1471.8 2672.5,1491 2672.84,1491 2673.19,1487.5 2673.53,1483 2673.87,1453 2674.21,1454.6 2674.56,1453 2674.9,1453 2675.24,1453 2675.59,1453 2675.93,1453 2676.27,1453 2676.61,1463.5 2676.96,1475.6 2677.3,1483.7 2677.62,1483.7 2677.94,1483.7 2678.26,1483.7 2678.58,1483.7 2678.9,1501.5 2679.2,1501.5 2679.5,1477.2 2679.8,1477.2 2680.13,1477.2 2680.47,1477.2 2680.8,1437.8 2681.15,1470 2681.5,1454.5 2681.85,1452.9 2682.2,1480.6 2682.55,1488.5 2682.9,1491.3 2683.25,1493 2683.6,1499.5 2683.94,1499.5 2684.28,1499.5 2684.62,1499.5 2684.96,1499.5 2685.3,1485.6 2685.64,1492.8 2685.98,1495.1 2686.32,1500.2 2686.66,1508.9 2687,1516.5 2687.34,1532.1 2687.68,1546.5 2688.02,1543.9 2688.36,1536.1 2688.7,1547.3 2689.05,1547.3 2689.4,1536.7 2689.75,1531.9 2690.1,1531.9 2690.44,1531.9 2690.78,1531.9 2691.12,1526 2691.46,1511.3 2691.8,1511.3 2692.14,1511.3 2692.48,1527.7 2692.82,1523.3 2693.16,1531.3 2693.5,1535.3 2693.84,1544.2 2694.18,1551.2 2694.51,1554.2 2694.85,1554.2 2695.19,1554.2 2695.52,1554.2 2695.86,1546.6 2696.2,1554.2 2696.55,1527.1 2696.9,1526.6 2697.25,1526.6 2697.6,1526.6 2697.94,1541.2 2698.29,1526.6 2698.63,1526.6 2698.97,1526.6 2699.31,1526.6 2699.66,1529.4 2700,1547.3 2700.32,1541.2 2700.65,1547.3 2700.98,1538.2 2701.3,1523.3 2701.64,1523.3 2701.98,1523.3 2702.32,1523.3 2702.66,1523.3 2703,1523.2 2703.35,1523.2 2703.7,1523.2 2704.05,1523.2 2704.4,1524.7 2704.75,1533.5 2705.1,1544.6 2705.45,1519.2 2705.8,1492.6 2706.14,1492.6 2706.49,1488.1 2706.83,1492.6 2707.17,1464.5 2707.51,1464.5 2707.86,1464.5 2708.2,1464.5 2708.54,1474.7 2708.88,1464.5 2709.22,1471 2709.56,1481.3 2709.9,1489.2 2710.24,1489.2 2710.58,1489.2 2710.92,1489.2 2711.26,1489.2 2711.6,1489.2 2711.95,1507.6 2712.3,1518.2 2712.65,1501.5 2713,1518.2 2713.34,1532.1 2713.68,1525.1 2714.02,1541 2714.36,1550.8 2714.7,1550.8 2715.04,1550.8 2715.38,1550.8 2715.72,1549.5 2716.06,1550.8 2716.4,1543.7 2716.74,1543.7 2717.08,1548.4 2717.42,1550.8 2717.76,1543.7 2718.1,1550.8 2718.43,1545 2718.75,1539.8 2719.07,1537.1 2719.4,1531.8 2719.74,1553.2 2720.08,1572 2720.42,1574.7 2720.76,1574.7 2721.1,1574.7 2721.46,1574.7 2721.82,1574.7 2722.18,1572.3 2722.54,1569.2 2722.9,1540.3 2723.23,1540.3 2723.57,1544.1 2723.9,1559.3 2724.23,1559.3 2724.57,1545.6 2724.9,1559.3 2725.25,1559.3 2725.6,1559.3 2725.95,1559.3 2726.3,1559.3 2726.65,1559.3 2727,1540.3 2727.34,1548.2 2727.68,1541.7 2728.02,1550.6 2728.36,1555.3 2728.7,1562.6 2729.04,1562.6 2729.38,1562.6 2729.72,1562.6 2730.06,1562.6 2730.4,1569.5 2730.73,1556.7 2731.07,1564.2 2731.4,1536.9 2731.74,1548 2732.08,1536.9 2732.42,1536.9 2732.76,1539.8 2733.1,1550.8 2733.44,1531.9 2733.78,1533.3 2734.12,1546.6 2734.46,1550.8 2734.8,1531.9 2735.14,1532.8 2735.48,1531.9 2735.82,1531.9 2736.16,1531.9 2736.5,1532.8 2736.84,1532.8 2737.18,1543.7 2737.52,1557.5 2737.86,1557.5 2738.2,1557.5 2738.55,1559.3 2738.9,1559.3 2739.25,1559.3 2739.6,1559.3 2739.95,1559.3 2740.3,1559.3 2740.65,1559.3 2741,1559.3 2741.33,1536.4 2741.67,1517.2 2742,1497.7 2742.33,1478.8 2742.67,1478.8 2743,1478.8 2743.33,1478.8 2743.67,1478.8 2744,1478.8 2744.34,1491.3 2744.68,1478.8 2745.02,1486.5 2745.36,1497.8 2745.7,1497.8 2746.05,1480.6 2746.4,1481 2746.75,1492.6 2747.1,1480.6 2747.44,1480.6 2747.78,1480.6 2748.12,1480.6 2748.46,1480.6 2748.8,1473.7 2749.14,1489.4 2749.48,1499.1 2749.82,1508 2750.16,1508 2750.5,1508 2750.84,1524.5 2751.18,1524.5 2751.52,1524.5 2751.86,1508 2752.2,1524.5 2752.54,1502.7 2752.88,1512.8 2753.22,1503.3 2753.56,1522.2 2753.9,1502.7 2754.26,1502.7 2754.62,1502.7 2754.98,1502.7 2755.34,1502.7 2755.7,1502.9 2756.04,1500.6 2756.38,1498.4 2756.72,1494.2 2757.06,1491.6 2757.4,1487.3 2757.74,1487.3 2758.08,1487.3 2758.42,1489.6 2758.76,1507.2 2759.1,1525.1 2759.43,1525.1 2759.75,1506.1 2760.07,1507.5 2760.4,1506.1 2760.74,1527.7 2761.08,1506.2 2761.42,1524.6 2761.76,1538.7 2762.1,1538.7 2762.46,1538.7 2762.82,1538.7 2763.18,1548.9 2763.54,1550.7 2763.9,1550.7 2764.22,1558.1 2764.55,1558.3 2764.88,1558.3 2765.2,1558.3 2765.55,1558.3 2765.9,1558.3 2766.25,1525.8 2766.6,1521.5 2766.95,1522.7 2767.3,1526.9 2767.65,1530.1 2768,1535.4 2768.33,1450.9 2768.67,1408.4 2769,1359.3 2769.32,1359.3 2769.65,1359.3 2769.98,1359.3 2770.3,1359.3 2770.64,1373.5 2770.98,1364.2 2771.32,1378.1 2771.66,1385 2772,1385 2772.36,1395.6 2772.72,1407.2 2773.08,1418.1 2773.44,1429 2773.8,1436.2 2774.13,1454.3 2774.46,1474.5 2774.79,1445 2775.11,1465.3 2775.44,1436.2 2775.77,1454.5 2776.1,1477.2 2776.45,1490.3 2776.8,1483.6 2777.15,1477.2 2777.5,1480.2 2777.85,1508 2778.2,1508 2778.53,1531.2 2778.87,1525.1 2779.2,1528 2779.53,1511.1 2779.87,1516.6 2780.2,1537.8 2780.55,1533.6 2780.9,1527.9 2781.25,1521.7 2781.6,1501 2781.95,1520.3 2782.3,1514 2782.65,1531.5 2783,1518.7 2783.35,1517.9 2783.7,1537.1 2784.02,1537.1 2784.35,1537.1 2784.68,1537.1 2785,1521.6 2785.35,1521.6 2785.7,1521.5 2786.05,1521.5 2786.4,1521.5 2786.74,1521.5 2787.08,1521.5 2787.42,1521.5 2787.76,1528.1 2788.1,1542.1 2788.44,1553.7 2788.78,1555.8 2789.12,1555.8 2789.46,1555.8 2789.8,1555.8 2790.15,1563.9 2790.5,1566.1 2790.85,1566.1 2791.2,1566.1 2791.55,1558.5 2791.9,1566.1 2792.23,1565.8 2792.57,1566.1 2792.9,1552.8 2793.23,1553.2 2793.57,1550.5 2793.9,1550.5 2794.25,1571.4 2794.6,1572.9 2794.95,1572.9 2795.3,1572.9 2795.64,1577.1 2795.98,1577.1 2796.31,1577.1 2796.65,1577.1 2796.99,1577.1 2797.32,1577.1 2797.66,1572.9 2798,1577.1 2798.35,1521.5 2798.7,1497.7 2799.04,1481 2799.38,1486 2799.72,1478.1 2800.06,1478.1 2800.4,1478.1 2800.74,1478.1 2801.08,1479.1 2801.42,1502.9 2801.76,1516.6 2802.1,1516.6 2802.45,1509.4 2802.8,1497.5 2803.15,1488.8 2803.5,1482.2 2803.82,1496.1 2804.15,1496.1 2804.48,1496.1 2804.8,1496.1 2805.15,1489.4 2805.5,1481.9 2805.85,1471.2 2806.2,1465.8 2806.54,1465.8 2806.88,1465.8 2807.22,1465.8 2807.56,1468 2807.9,1485.9 2808.23,1483.5 2808.57,1481.5 2808.9,1481.5 2809.26,1481.5 2809.62,1498.2 2809.98,1486.3 2810.34,1507 2810.7,1521.6 2811.03,1521.6 2811.37,1521.6 2811.7,1521.6 2812.03,1524 2812.37,1536 2812.7,1548.4 2813.04,1548.4 2813.38,1548.4 2813.72,1547.5 2814.06,1521.5 2814.4,1521.5 2814.75,1533.1 2815.1,1539.2 2815.45,1543.9 2815.8,1543.9 2816.15,1543.9 2816.5,1543.9 2816.84,1543.9 2817.18,1516.9 2817.52,1521.6 2817.86,1529.1 2818.2,1501.1 2818.52,1501.1 2818.85,1489.1 2819.18,1501.1 2819.5,1487.5 2819.87,1433.9 2820.23,1421.7 2820.6,1387.6 2820.93,1396.7 2821.25,1402.4 2821.57,1411.8 2821.9,1419.1 2822.25,1419.1 2822.6,1419.1 2822.95,1443 2823.3,1443 2823.64,1451.6 2823.98,1458 2824.32,1463.4 2824.66,1463.5 2825,1463.5 2825.33,1479 2825.67,1479 2826,1479 2826.35,1472.4 2826.7,1448.8 2827.05,1446.5 2827.4,1441.9 2827.74,1443.5 2828.08,1472.2 2828.42,1455.5 2828.76,1444.7 2829.1,1472.2 2829.45,1472.2 2829.8,1472.2 2830.15,1472.2 2830.5,1472 2830.82,1476.6 2831.15,1472 2831.48,1489.8 2831.8,1490.9 2832.15,1492.5 2832.5,1496.1 2832.85,1494.8 2833.2,1496.1 2833.55,1494.5 2833.9,1496.1 2834.22,1496.1 2834.55,1492.5 2834.88,1492.5 2835.2,1492.5 2835.55,1503.6 2835.9,1492.5 2836.25,1504.9 2836.6,1512.4 2836.95,1519.1 2837.3,1530.3 2837.63,1503.1 2837.97,1503.1 2838.3,1461 2838.65,1463.5 2839,1463.5 2839.35,1461 2839.7,1461 2840.05,1461 2840.4,1463.5 2840.73,1463.5 2841.07,1463.5 2841.4,1479.1 2841.73,1464.6 2842.07,1484.2 2842.4,1499.5 2842.75,1499.5 2843.1,1499.3 2843.45,1499.3 2843.8,1499.3 2844.13,1500.5 2844.47,1507.4 2844.8,1509.5 2845.13,1516 2845.47,1519 2845.8,1525 2846.15,1542.6 2846.5,1543 2846.85,1526.5 2847.2,1525 2847.55,1525 2847.9,1527.2 2848.25,1543.2 2848.6,1543.2 2848.93,1505.5 2849.25,1499.3 2849.57,1499.3 2849.9,1499.3 2850.24,1504.2 2850.58,1504.1 2850.92,1507 2851.26,1509.4 2851.6,1516.6 2851.96,1516.6 2852.32,1516.6 2852.68,1496.1 2853.04,1500.5 2853.4,1480.6 2853.72,1480.6 2854.05,1480.6 2854.38,1473.8 2854.7,1473.8 2855.05,1453.8 2855.4,1433.7 2855.74,1433.7 2856.08,1444.6 2856.42,1453.3 2856.76,1453.3 2857.1,1453.3 2857.45,1466.5 2857.8,1483 2858.15,1492.7 2858.5,1473 2858.85,1483.2 2859.2,1492.7 2859.52,1483.6 2859.85,1480.5 2860.18,1477 2860.5,1472 2860.85,1472 2861.2,1472 2861.55,1475.8 2861.9,1485.9 2862.24,1485.4 2862.58,1485.9 2862.92,1485.9 2863.26,1477.5 2863.6,1454.2 2863.94,1465.8 2864.28,1475.7 2864.62,1482.4 2864.96,1469.3 2865.3,1482.4 2865.64,1480 2865.98,1477.9 2866.32,1478.3 2866.66,1473.6 2867,1472 2867.34,1482 2867.68,1492.2 2868.02,1478 2868.36,1494.9 2868.7,1509.8 2869.07,1475.3 2869.43,1406.8 2869.8,1372.9 2870.12,1383 2870.45,1393.7 2870.78,1404.6 2871.1,1410.7 2871.43,1365.7 2871.77,1355.4 2872.1,1343.9 2872.47,1343.9 2872.83,1343.9 2873.2,1356 2873.52,1356 2873.85,1322.3 2874.18,1322.3 2874.5,1322.3 2874.85,1324.2 2875.2,1335 2875.55,1346 2875.9,1350.8 2876.25,1350.8 2876.6,1353.4 2876.95,1364.2 2877.3,1382.7 2877.62,1348.5 2877.95,1335.3 2878.28,1321.4 2878.6,1308.1 2878.95,1273.8 2879.3,1273.8 2879.65,1273.8 2880,1273.8 2880.34,1279.2 2880.68,1291.3 2881.02,1295.9 2881.36,1306 2881.7,1315 2882.03,1294.4 2882.37,1311.6 2882.7,1281.4 2883.04,1287.2 2883.38,1294.8 2883.72,1301.2 2884.06,1309.2 2884.4,1316.6 2884.75,1328.9 2885.1,1337.3 2885.45,1345.4 2885.8,1349.2 2886.15,1315.3 2886.5,1302.9 2886.85,1302.9 2887.2,1302.9 2887.54,1339 2887.88,1328.8 2888.22,1317.8 2888.56,1351.2 2888.9,1381.6 2889.22,1392.9 2889.55,1403.9 2889.88,1386.3 2890.2,1403.9 2890.54,1403.9 2890.89,1391.2 2891.23,1357.7 2891.57,1319.7 2891.91,1334.3 2892.26,1343.8 2892.6,1300.5 2892.94,1328 2893.28,1320.2 2893.62,1300.5 2893.96,1323.6 2894.3,1345.8 2894.66,1347.3 2895.02,1345.8 2895.38,1345.8 2895.74,1347.3 2896.1,1347.3 2896.43,1364.9 2896.75,1377.9 2897.07,1388.1 2897.4,1402.2 2897.75,1400.9 2898.1,1361.6 2898.45,1357.6 2898.8,1357.6 2899.14,1356.2 2899.48,1354.5 2899.81,1325.2 2900.15,1318.7 2900.49,1311.4 2900.82,1302 2901.16,1302.3 2901.5,1295.4 2901.85,1326.8 2902.2,1350.8 2902.55,1350.8 2902.9,1350.8 2903.25,1350.8 2903.6,1378.6 2903.95,1354.9 2904.3,1381.6 2904.63,1385 2904.97,1385 2905.3,1385 2905.63,1385 2905.97,1385 2906.3,1385 2906.64,1385 2906.98,1405.4 2907.32,1413.9 2907.66,1390.9 2908,1419.1 2908.35,1419.1 2908.7,1421.5 2909.05,1447.7 2909.4,1453.4 2909.75,1453.4 2910.1,1453.4 2910.44,1453.3 2910.78,1453.4 2911.12,1453.4 2911.46,1453.4 2911.8,1426 2912.12,1416.7 2912.45,1426 2912.78,1415.2 2913.1,1398.5 2913.45,1419.1 2913.8,1401.1 2914.15,1398.5 2914.5,1419.1 2914.84,1419.1 2915.18,1432.4 2915.52,1444.9 2915.86,1444.9 2916.2,1444.9 2916.55,1444.9 2916.9,1444.9 2917.25,1435.8 2917.6,1400.2 2917.93,1407 2918.25,1410.4 2918.57,1410.3 2918.9,1417.5 2919.25,1340.6 2919.6,1279.1 2919.95,1279.1 2920.3,1242.5 2920.65,1184.2 2921,1180 2921.2,906.6 2921.6,906.4 2921.9,564.6 2922.22,619.9 2922.55,630 2922.88,679.9 2923.2,698.4 2923.5,597.5 2923.8,497 2924.18,497 2924.55,497 2924.93,497 2925.3,497 2925.62,538.1 2925.95,530 2926.28,517.4 2926.6,572 2926.9,621.7 2927.2,629.9 2927.5,687 2927.87,732.5 2928.23,773.1 2928.6,780 2928.9,818 2929.2,818 2929.5,818 2929.8,818 2930.13,837.2 2930.47,848.2 2930.8,860 2931.1,901.8 2931.4,884.2 2931.7,920.9 2932,958 2932.38,986.6 2932.75,972.9 2933.12,1001.5 2933.5,1024 2933.83,1058.3 2934.17,1092 2934.5,1092 2934.83,1129.6 2935.17,1160 2935.5,1160 2935.83,1160 2936.17,1160 2936.5,1160 2936.83,1179.3 2937.17,1169 2937.5,1195.8 2937.83,1200 2938.17,1183.7 2938.5,1200 2938.8,1210.4 2939.1,1220.8 2939.4,1231.2 2939.75,1231.2 2940.1,1239.5 2940.45,1258.4 2940.8,1279.2 2941.14,1250 2941.48,1251.3 2941.82,1248.9 2942.16,1255.8 2942.5,1218.5 2942.84,1250 2943.18,1228.8 2943.52,1232.7 2943.86,1258 2944.2,1282.5 2944.55,1295.5 2944.9,1308 2945.25,1320.4 2945.6,1337.1 2945.93,1360.7 2946.27,1376.2 2946.6,1375.6 2946.93,1346.7 2947.27,1363.1 2947.6,1385 2947.95,1400.1 2948.3,1412.3 2948.65,1412.3 2949,1397.3 2949.35,1405 2949.7,1412.3 2950.03,1426.1 2950.37,1426.4 2950.7,1442.2 2951.03,1442.3 2951.37,1456.2 2951.7,1470.4 2952.05,1470.4 2952.4,1481.1 2952.75,1499.9 2953.1,1471.4 2953.45,1485.4 2953.8,1504.5 2954.13,1514.2 2954.47,1504.5 2954.8,1504.5 2955.13,1510 2955.47,1522.9 2955.8,1531.9 2956.15,1537.1 2956.5,1531.9 2956.85,1532.5 2957.2,1537.1 2957.55,1537.1 2957.9,1521.5 2958.25,1521.5 2958.6,1521.5 2958.93,1521.5 2959.27,1521.5 2959.6,1540.6 2959.93,1531.9 2960.27,1556.7 2960.6,1560.3 2960.95,1560.3 2961.3,1551.9 2961.65,1548.9 2962,1548.9 2962.35,1547.1 2962.7,1542.4 2963.05,1517.4 2963.4,1509.6 2963.74,1514.7 2964.08,1522 2964.42,1534.1 2964.76,1535.3 2965.1,1535.3 2965.44,1545.6 2965.79,1557.7 2966.13,1569 2966.47,1579.9 2966.81,1565.3 2967.16,1575.5 2967.5,1589.9 2967.83,1597.9 2968.17,1595.2 2968.5,1597.9 2968.83,1597.9 2969.17,1589.9 2969.5,1597.9 2969.83,1580.4 2970.17,1559.3 2970.5,1543.7 2970.85,1542.8 2971.2,1542.8 2971.55,1543.7 2971.9,1542.8 2972.24,1552.4 2972.58,1555.8 2972.92,1555.8 2973.26,1555.8 2973.6,1555.8 2973.95,1556.4 2974.3,1555.8 2974.65,1555.8 2975,1555.8 2975.35,1555.8 2975.7,1564.4 2976.03,1533 2976.37,1496.7 2976.7,1460.1 2977.04,1443 2977.38,1394.5 2977.72,1380 2978.06,1361.8 2978.4,1349 2978.75,1349 2979.1,1358.5 2979.45,1370.8 2979.8,1397.8 2980.15,1382.3 2980.5,1409.9 2980.85,1419.3 2981.2,1419.3 2981.55,1419.3 2981.9,1419.3 2982.25,1419.3 2982.6,1419.3 2982.95,1419.3 2983.3,1419.3 2983.63,1419.3 2983.96,1419.3 2984.29,1419.3 2984.61,1423.5 2984.94,1441.9 2985.27,1461.2 2985.6,1461.2 2985.94,1475.4 2986.29,1461.2 2986.63,1462 2986.97,1469.5 2987.31,1480.1 2987.66,1492.8 2988,1503.1 2988.34,1521.1 2988.68,1535.6 2989.01,1548.1 2989.35,1548.1 2989.69,1543.4 2990.02,1541.5 2990.36,1533.4 2990.7,1548.1 2991.05,1548.1 2991.4,1509.9 2991.75,1506.2 2992.1,1505.8 2992.45,1508.2 2992.8,1504.8 2993.15,1500.8 2993.5,1497.7 2993.85,1497.7 2994.2,1497.7 2994.55,1497.7 2994.9,1501.7 2995.25,1519.3 2995.6,1521.7 2995.95,1507.1 2996.3,1521.7 2996.65,1529.7 2996.99,1542.3 2997.34,1538.4 2997.68,1547.5 2998.03,1552.7 2998.37,1552.7 2998.72,1552.7 2999.06,1552.4 2999.41,1552.7 2999.75,1539.3 3000.1,1552.7 3000.45,1545.9 3000.8,1511.6 3001.15,1502.2 3001.5,1490.7 3001.86,1497 3002.22,1503.2 3002.58,1503.4 3002.94,1508.2 3003.3,1510.8 3003.63,1471.5 3003.97,1407.1 3004.3,1330 3004.63,1340.1 3004.96,1339.2 3005.29,1330 3005.61,1330 3005.94,1340.1 3006.27,1330 3006.6,1340.1 3006.96,1354 3007.32,1354 3007.68,1354 3008.04,1340.1 3008.4,1354 3008.74,1365.2 3009.09,1379.2 3009.43,1391.9 3009.77,1396 3010.11,1396 3010.46,1384 3010.8,1396 3011.13,1409.9 3011.46,1396 3011.79,1396 3012.11,1396 3012.44,1396 3012.77,1400.1 3013.1,1409.9 3013.45,1418.6 3013.8,1423.1 3014.15,1409.9 3014.5,1409.9 3014.85,1417.6 3015.2,1425.8 3015.55,1429 3015.9,1435.6 3016.25,1458.1 3016.6,1460.5 3016.95,1478 3017.3,1489.1 3017.65,1469.9 3018,1466 3018.35,1488.5 3018.7,1489.1 3019.03,1489.1 3019.36,1495.9 3019.69,1496 3020.02,1510.4 3020.35,1527 3020.68,1502.4 3021.01,1522.4 3021.34,1495.7 3021.67,1510 3022,1529.5 3022.36,1529.5 3022.71,1528.7 3023.07,1528.7 3023.42,1528.7 3023.78,1529.5 3024.13,1528.7 3024.49,1528.7 3024.84,1528.7 3025.2,1528.7 3025.53,1524.5 3025.86,1528.7 3026.19,1528.7 3026.51,1526.7 3026.84,1500.8 3027.17,1506.3 3027.5,1500.8 3027.84,1500.8 3028.19,1500.8 3028.53,1484.5 3028.87,1460.5 3029.21,1460.5 3029.56,1460.5 3029.9,1460.5 3030.23,1460.5 3030.56,1465.2 3030.89,1460.5 3031.21,1462.2 3031.54,1468.9 3031.87,1460.5 3032.2,1468.9 3032.53,1449.9 3032.86,1462.1 3033.19,1468.8 3033.51,1468.9 3033.84,1468.9 3034.17,1468.9 3034.5,1435.6 3034.82,1435.6 3035.13,1435.6 3035.45,1435.6 3035.77,1435.6 3036.08,1419.3 3036.4,1419.3 3036.75,1404.2 3037.1,1389.5 3037.45,1376.4 3037.8,1362.6 3038.13,1385.4 3038.46,1386.3 3038.79,1409.9 3039.11,1401.4 3039.44,1409.9 3039.77,1409.9 3040.1,1409.9 3040.44,1410.2 3040.79,1409.9 3041.13,1411.2 3041.47,1411.3 3041.81,1412.3 3042.16,1412 3042.5,1412.3 3042.84,1424.8 3043.18,1439.5 3043.51,1433.8 3043.85,1451.9 3044.19,1451.9 3044.52,1451.9 3044.86,1451.9 3045.2,1451.9 3045.54,1465 3045.89,1451.9 3046.23,1451.9 3046.57,1468.1 3046.91,1485.3 3047.26,1481 3047.6,1495.9 3047.95,1495.9 3048.3,1495.9 3048.65,1495.9 3049,1495.9 3049.35,1495.9 3049.7,1495.9 3050.05,1495.9 3050.4,1484.5 3050.73,1484.5 3051.06,1484.5 3051.39,1484.5 3051.71,1484.5 3052.04,1479.8 3052.37,1479.8 3052.7,1479.8 3053,1479.8 3053.3,1454.1 3053.6,1432.5 3053.94,1439.2 3054.29,1449.3 3054.63,1455.5 3054.97,1464.2 3055.31,1453.2 3055.66,1457.2 3056,1464.2 3056.35,1464.2 3056.7,1464.2 3057.05,1464.2 3057.4,1464.2 3057.75,1464.2 3058.1,1458.2 3058.45,1464.2 3058.8,1451.1 3059.15,1451.1 3059.5,1451.1 3059.85,1451.5 3060.2,1478.2 3060.55,1478.1 3060.9,1478.2 3061.25,1437.9 3061.6,1437.9 3061.96,1429.2 3062.32,1423.2 3062.68,1415.3 3063.04,1407.4 3063.4,1396 3063.75,1386.1 3064.1,1375.1 3064.45,1368.7 3064.8,1360.3 3065.12,1362.5 3065.43,1364.2 3065.75,1372.8 3066.07,1380.4 3066.38,1383.7 3066.7,1392 3067,1343.4 3067.3,1294.6 3067.6,1244.6 3067.93,1241.5 3068.26,1241.5 3068.59,1244.6 3068.91,1241.5 3069.24,1241.5 3069.57,1241.5 3069.9,1241.5 3070.22,1277.7 3070.53,1279.5 3070.85,1279.5 3071.17,1279.5 3071.48,1279.5 3071.8,1279.5 3072.12,1290.3 3072.43,1307.8 3072.75,1324.5 3073.07,1328.4 3073.38,1317.9 3073.7,1328.4 3074.03,1345 3074.36,1363.2 3074.69,1339.8 3075.01,1328.4 3075.34,1328.4 3075.67,1347 3076,1363.4 3076.33,1369.2 3076.66,1378.3 3076.99,1385 3077.31,1385 3077.64,1385 3077.97,1385 3078.3,1385 3078.62,1375.8 3078.93,1371.4 3079.25,1361 3079.57,1350.1 3079.88,1343.3 3080.2,1334.7 3080.55,1352.6 3080.9,1340.9 3081.25,1353.8 3081.6,1366.4 3081.95,1334.7 3082.3,1343.8 3082.65,1362.2 3083,1382.7 3083.36,1368.5 3083.72,1359.6 3084.08,1351.5 3084.44,1338.6 3084.8,1326.1 3085.15,1323.6 3085.5,1294.1 3085.85,1284 3086.2,1274.1 3086.54,1291.9 3086.89,1309.7 3087.23,1319.3 3087.57,1319.8 3087.91,1319.8 3088.26,1319.8 3088.6,1319.8 3088.95,1278.7 3089.3,1230.4 3089.65,1180.1 3090,1139.8 3090.33,1139.8 3090.66,1139.8 3090.99,1121.1 3091.31,1128.6 3091.64,1138.8 3091.97,1121.1 3092.3,1121.1 3092.6,1121.1 3092.9,1121.1 3093.2,1087.8 3093.55,1123.2 3093.9,1114.3 3094.25,1099.9 3094.6,1138.2 3094.93,1107.4 3095.27,1064.7 3095.6,1020.2 3095.93,1020.2 3096.26,1025.2 3096.59,1068.5 3096.91,1091.6 3097.24,1086 3097.57,1058.5 3097.9,1091.6 3098.22,1056.2 3098.53,1070.6 3098.85,1080.9 3099.17,1055.2 3099.48,1055.2 3099.8,1055.2 3100.13,1076.5 3100.46,1095.7 3100.79,1097.8 3101.11,1097.8 3101.44,1097.8 3101.77,1097.8 3102.1,1097.8 3102.43,1118.6 3102.76,1133.6 3103.09,1116 3103.41,1140.5 3103.74,1101.1 3104.07,1118.7 3104.4,1140.5 3104.72,1140.5 3105.03,1135.5 3105.35,1130.4 3105.67,1096.2 3105.98,1089.8 3106.3,1083.9 3106.65,1069.1 3107,1080.4 3107.35,1083.9 3107.7,1083.9 3108.05,1083.9 3108.4,1083.9 3108.75,1083.9 3109.1,1069.1 3109.46,1107.1 3109.82,1087.6 3110.18,1107.1 3110.54,1107.1 3110.9,1107.1 3111.25,1112.4 3111.6,1118.5 3111.95,1127.5 3112.3,1138.2 3112.65,1080.4 3113,1068.4 3113.35,1046.6 3113.7,1046.6 3113.7,822 3114.07,822 3114.43,822 3114.8,822 3115.12,823.2 3115.45,836.1 3115.78,837 3116.1,837 3116.45,863.7 3116.8,898.4 3117.15,867.9 3117.5,834.6 3117.8,847.5 3118.1,848.9 3118.4,866 3118.72,867 3119.05,867 3119.38,866 3119.7,867 3120.05,875 3120.4,867 3120.75,867 3121.1,875 3121.4,894.9 3121.7,901.7 3122,920 3122.3,998.4 3122.63,970.8 3122.97,946.2 3123.3,923.6 3123.6,923.6 3123.9,923.6 3124.2,925.4 3124.56,926.6 3124.92,926.6 3125.28,926.6 3125.64,925.4 3126,926.6 3126.35,927 3126.7,927 3127.05,926.6 3127.4,927 3127.7,927 3128,927 3128.3,976 3128.62,976.8 3128.95,986.5 3129.28,977.2 3129.6,1047.4 3129.9,1047.4 3130.2,1047.4 3130.5,1043.6 3130.8,1036.6 3131.17,1096 3131.53,1096.7 3131.9,1112.4 3132.25,1102.8 3132.6,1095.8 3132.95,1057.2 3133.3,1048.6 3133.65,1049 3134,1049 3134.35,1049 3134.7,1049 3135.03,1049 3135.37,1068.4 3135.7,1116 3136,1116 3136.3,1116 3136.6,1169.4 3136.9,1155.4 3137.2,1134.7 3137.5,1116 3137.9,782 3138.25,782 3138.6,782 3138.95,760.6 3139.3,760.6 3139.65,760.6 3140,760.6 3140.32,760.6 3140.65,760.6 3140.98,760.6 3141.3,762 3141.6,773.7 3141.9,784.6 3142.2,795.1 3142.5,808 3142.87,816.2 3143.23,870.7 3143.6,923.4 3143.97,893.4 3144.33,920.2 3144.7,876.6 3145.07,877 3145.43,876.6 3145.8,877 3146.12,877 3146.44,877 3146.76,893.1 3147.08,877 3147.4,920 3147.7,920 3148,933 3148.3,980.7 3148.6,1020.4 3149,762 3149.3,762.6 3149.6,762.6 3149.9,762.6 3150.22,763 3150.55,763 3150.88,763 3151.2,763 3151.55,806.1 3151.9,830 3152.25,830 3152.6,830 3152.92,849 3153.24,861.3 3153.56,833.9 3153.88,845.4 3154.2,866 3154.57,866 3154.93,866 3155.3,866 3155.6,873.4 3155.9,885.3 3156.2,898 3156.5,911 3156.8,898 3157.1,911 3157.47,911 3157.83,912.6 3158.2,931 3158.52,936 3158.84,931 3159.16,931 3159.48,931 3159.8,936 3160.18,980.6 3160.55,983 3160.93,978.5 3161.3,1016.4 3161.7,1002.6 3162.1,950.6 3162.46,950.6 3162.82,950.4 3163.18,950.4 3163.54,950.4 3163.9,950.4 3164.28,950.4 3164.65,950.4 3165.03,950.4 3165.4,927.6 3165.72,943 3166.04,927.6 3166.36,927.6 3166.68,943 3167,943 3167.4,1035.9 3167.8,1065.4 3168.1,1023.4 3168.4,989.6 3168.78,992 3169.15,992 3169.53,989.6 3169.9,992 3170.4,1042 3170.77,1062.3 3171.13,1085.4 3171.5,1107 3171.82,1125.3 3172.13,1107 3172.45,1126.4 3172.77,1107 3173.08,1110.3 3173.4,1126.4 3173.7,1125.4 3174,1064.6 3174.3,1064.6 3174.6,1064.6 3174.9,1096.5 3175.2,1100 3175.5,1100 3175.8,1135.6 3176.1,1138.5 3176.4,1149.4 3176.7,1149.4 3177.05,1018.1 3177.4,889 3177.7,887.7 3178,839 3178.3,839 3178.6,824.7 3178.9,839 3179.2,817 3179.53,817 3179.87,817 3180.2,817 3180.53,810.7 3180.87,801.6 3181.2,801.6 3181.57,813.7 3181.93,816 3182.3,830 3182.67,864.6 3183.03,875 3183.4,875 3183.75,908 3184.1,943 3184.42,981 3184.74,974.5 3185.06,948.4 3185.38,989.9 3185.7,1030 3186.07,1030 3186.45,1072.4 3186.82,1042.4 3187.2,1093.4 3187.5,1059.9 3187.8,940 3188.13,939.6 3188.47,939.7 3188.8,940 3189.13,940 3189.47,940 3189.8,939.6 3190.18,943.1 3190.55,955 3190.93,967.3 3191.3,976 3191.66,988 3192.02,988 3192.38,976 3192.74,976 3193.1,988 3193.42,1036.6 3193.74,995.1 3194.06,1033.2 3194.38,1040 3194.7,1040 3195.07,1040 3195.45,1065.3 3195.82,1082 3196.2,1082 3196.57,1082 3196.93,1082 3197.3,1093 3197.6,1099.4 3197.9,1134.9 3198.2,1140 3198.5,1140 3198.83,1143.7 3199.17,1151.5 3199.5,1164.4 3199.86,1164.4 3200.22,1141.6 3200.58,1141.6 3200.94,1141.6 3201.3,1141.6 3201.65,1178.6 3202,1153.4 3202.35,1180.4 3202.7,1180.4 3203.05,1130 3203.4,1130 3203.75,1130 3204.1,1130 3204.4,1083.6 3204.7,1083.6 3205,1083.6 3205.3,1083.6 3205.6,1083.6 3205.9,1084 3206.2,1083.6 3206.5,1084 3206.87,1102.4 3207.23,1084 3207.6,1105 3207.94,1118.2 3208.28,1125.1 3208.62,1135.5 3208.96,1153 3209.3,1158.4 3209.65,1112.5 3210,1097.2 3210.35,1079.8 3210.7,1070 3211.05,1026.6 3211.4,1026.6 3211.75,1026.6 3212.1,1026.6 3212.45,1056 3212.8,1056 3213.15,1056 3213.5,1056 3213.85,1073.4 3214.2,1073.4 3214.55,1056 3214.9,1073.4 3215.25,1069.6 3215.6,1069.6 3215.95,1069.6 3216.3,1069.6 3216.62,1069.6 3216.95,1069.6 3217.28,1088.3 3217.6,1110 3217.93,1112.6 3218.27,1123.9 3218.6,1133.4 3218.95,1113.6 3219.3,1113.6 3219.65,1113.6 3220,1113.6 3220.37,1162.9 3220.73,1210 3221.1,1210 3221.45,1210 3221.8,1221.8 3222.15,1254.4 3222.5,1254.4 3222.85,1250.4 3223.2,1213.6 3223.55,1213.6 3223.9,1213.6 3224.24,1213.6 3224.58,1213.6 3224.92,1211.4 3225.26,1211.4 3225.6,1211.4 3225.95,1172 3226.3,1140 3226.67,1084.5 3227.03,1078.1 3227.4,1077 3227.73,1039.7 3228.07,1037 3228.4,1037 3228.75,1036.6 3229.1,1037 3229.45,1037 3229.8,1031.6 3230.12,1035 3230.44,1045.7 3230.76,1057.6 3231.08,1067.8 3231.4,1081.4 3231.77,1075.4 3232.13,997.3 3232.5,963 3232.82,963 3233.14,907 3233.46,907 3233.78,907 3234.1,907 3234.46,907 3234.82,907.1 3235.18,907.1 3235.54,907.1 3235.9,907.1 3236.22,934.7 3236.54,926.1 3236.86,907.1 3237.18,907.1 3237.5,943 3237.85,1004.5 3238.2,1024.4 3238.6,993 3239,957.6 3239.35,957.6 3239.7,957.6 3240.05,957.6 3240.4,963.4 3240.7,958.6 3241,951.4 3241.3,934 3241.65,934 3242,934 3242.35,934 3242.7,934.1 3243.07,954.9 3243.45,934.1 3243.82,947.7 3244.2,965 3244.5,993.9 3244.8,1010 3245.1,977.9 3245.4,1010 3245.75,1033.6 3246.1,1058 3246.47,1062.7 3246.83,1066.4 3247.2,1077 3247.54,1107.1 3247.88,1138.7 3248.22,1152.4 3248.56,1122 3248.9,1152.4 3249.26,1152.4 3249.62,1152.4 3249.98,1152.4 3250.34,1131.6 3250.7,1131.6 3251.04,1155.6 3251.39,1184.8 3251.73,1211.9 3252.07,1203.6 3252.41,1231.7 3252.76,1208.8 3253.1,1236.4 3253.43,1158.1 3253.77,1126.1 3254.1,1093 3254.5,1067.9 3254.9,1043.6 3255.2,1043.6 3255.5,1052.4 3255.8,1052.4 3256.1,1052.4 3256.42,1052.4 3256.73,1052.4 3257.05,1073.9 3257.37,1052.4 3257.68,1055.5 3258,1086.6 3258.32,1099.3 3258.65,1108.1 3258.98,1123.5 3259.3,1133.2 3259.6,1147.7 3259.9,1161.8 3260.2,1170.6 3260.5,1186 3260.82,1186 3261.13,1200.6 3261.45,1226.3 3261.77,1226.3 3262.08,1226.3 3262.4,1226.3 3262.7,1242.5 3263,1226.3 3263.3,1238.3 3263.6,1257.4 3263.92,1272.6 3264.23,1284.6 3264.55,1285.3 3264.87,1285.3 3265.18,1271.1 3265.5,1285.3 3265.86,1296.3 3266.22,1328.2 3266.58,1330.9 3266.94,1330.9 3267.3,1330.9 3267.62,1288.4 3267.95,1307 3268.28,1288.4 3268.6,1288.4 3268.9,1275.7 3269.2,1208 3269.5,1154.5 3269.8,1139.4 3270.12,1133.8 3270.45,1128.8 3270.78,1120.6 3271.1,1112.4 3271.47,1139.4 3271.85,1163.5 3272.22,1134.4 3272.6,1164.2 3272.92,1196.6 3273.24,1188.6 3273.56,1183.4 3273.88,1172 3274.2,1201.5 3274.57,1206.3 3274.95,1209.6 3275.32,1206.1 3275.7,1210.8 3276.02,1234 3276.34,1233.9 3276.66,1260.6 3276.98,1249.6 3277.3,1269.8 3277.68,1280.6 3278.05,1294.7 3278.43,1279.4 3278.8,1294.7 3279.12,1322.7 3279.43,1339.6 3279.75,1339.6 3280.07,1339.6 3280.38,1328.7 3280.7,1339.6 3281.07,1329.3 3281.45,1320.9 3281.82,1314.7 3282.2,1313.3 3282.55,1285.7 3282.9,1257.4 3283.28,1252 3283.65,1198.4 3284.03,1188 3284.4,1183.5 3284.72,1183.5 3285.04,1183.5 3285.36,1183.5 3285.68,1184.5 3286,1184.5 3286.38,1184.5 3286.75,1184.5 3287.12,1205.8 3287.5,1243.4 3287.82,1235.7 3288.14,1231.5 3288.46,1223.7 3288.78,1212.7 3289.1,1204.6 3289.4,1178.2 3289.7,1178.2 3290,1178.2 3290.3,1178.2 3290.62,1178.2 3290.94,1178.2 3291.26,1183.1 3291.58,1187 3291.9,1226.3 3292.28,1251.8 3292.65,1239.3 3293.03,1255.6 3293.4,1276 3293.72,1300 3294.05,1313.3 3294.38,1285.1 3294.7,1313.3 3295,1313.8 3295.3,1317.3 3295.6,1321 3295.9,1321 3296.2,1291.1 3296.5,1226.3 3296.83,1213.4 3297.17,1129 3297.5,1119.2 3297.88,1125 3298.25,1131.8 3298.62,1140.9 3299,1148.7 3299.32,1148.7 3299.64,1148.7 3299.96,1148.7 3300.28,1160.7 3300.6,1170.4 3300.97,1170.4 3301.35,1170.4 3301.72,1189.8 3302.1,1210.8 3302.43,1225.8 3302.75,1241 3303.07,1259.8 3303.4,1274.4 3303.76,1274.4 3304.12,1265.2 3304.48,1274.4 3304.84,1274.4 3305.2,1265.2 3305.52,1277.1 3305.85,1286 3306.18,1302 3306.5,1319.5 3306.86,1334.1 3307.22,1344.7 3307.58,1359.1 3307.94,1370.2 3308.3,1381.6 3308.62,1398.3 3308.94,1384.1 3309.26,1381.6 3309.58,1382.9 3309.9,1404.2 3310.2,1375.6 3310.5,1363.8 3310.8,1370.4 3311.1,1350.6 3311.4,1334.9 3311.7,1316.3 3312,1297.8 3312.32,1297.8 3312.64,1310.5 3312.96,1333.8 3313.28,1355.2 3313.6,1355.2 3313.9,1316.2 3314.2,1314.2 3314.5,1310.9 3314.8,1307.1 3315.12,1310.5 3315.45,1310.5 3315.78,1317.9 3316.1,1319.5 3316.4,1344.1 3316.7,1325.6 3317,1350.2 3317.3,1381.6 3317.63,1366 3317.97,1347.6 3318.3,1294.7 3318.6,1246.3 3318.9,1198.4 3319.28,1190 3319.65,1181.2 3320.03,1165.5 3320.4,1159.6 3320.72,1178.7 3321.04,1161.5 3321.36,1179.5 3321.68,1190.1 3322,1201.5 3322.3,1204.6 3322.6,1204.6 3322.9,1204.6 3323.2,1204.6 3323.52,1204.6 3323.85,1244.6 3324.18,1269.8 3324.5,1277.5 3324.8,1264.3 3325.1,1246.4 3325.4,1230.1 3325.7,1218.6 3326,1218.6 3326.3,1238.4 3326.6,1276 3326.92,1287.3 3327.24,1293.7 3327.56,1281.3 3327.88,1293.4 3328.2,1303.9 3328.5,1288.3 3328.8,1278.6 3329.1,1265 3329.4,1259 3329.72,1287.5 3330.04,1294.7 3330.36,1294.7 3330.68,1294.7 3331,1294.7 3331.3,1294.7 3331.6,1294.7 3331.9,1294.7 3332.2,1307.1 3332.52,1330.8 3332.84,1352.8 3333.16,1353.6 3333.48,1353.6 3333.8,1353.6 3334.1,1353.6 3334.4,1316.1 3334.7,1290 3335,1290 3335.32,1304.7 3335.65,1312.2 3335.98,1327.1 3336.3,1335 3336.6,1344 3336.9,1335 3337.2,1336.9 3337.5,1345.9 3337.82,1308.9 3338.15,1316.9 3338.48,1328.2 3338.8,1297.8 3339.18,1319.5 3339.55,1302.6 3339.93,1297.8 3340.3,1319.5 3340.62,1340.9 3340.95,1319.5 3341.28,1329.1 3341.6,1350.5 3341.9,1332.2 3342.2,1317.2 3342.5,1298.8 3342.8,1280.7 3343.18,1280.7 3343.55,1295 3343.93,1280.7 3344.3,1299.3 3344.62,1266.4 3344.94,1266.6 3345.26,1263.6 3345.58,1263.6 3345.9,1263.6 3346.27,1263.6 3346.63,1263.6 3347,1263.6 3347.37,1263.6 3347.73,1254.3 3348.1,1254.3 3348.47,1275.1 3348.85,1293.9 3349.22,1294.7 3349.6,1294.7 3349.92,1320.8 3350.24,1309.6 3350.56,1330.3 3350.88,1330.3 3351.2,1330.3 3351.5,1325.7 3351.8,1325.7 3352.1,1325.7 3352.4,1325.7 3352.72,1303.4 3353.05,1282.6 3353.38,1254 3353.7,1226.3 3354,1197.5 3354.3,1169.3 3354.6,1139.8 3354.9,1120.7 3355.22,1120.7 3355.54,1120.7 3355.86,1120.7 3356.18,1118.9 3356.5,1099.1 3356.88,1106.4 3357.25,1118.1 3357.62,1119.3 3358,1120.7 3358.32,1131.7 3358.65,1145.3 3358.98,1159.4 3359.3,1179.8 3359.6,1179.8 3359.9,1179.8 3360.2,1183.5 3360.5,1196.8 3360.88,1165.8 3361.25,1165.8 3361.62,1165.8 3362,1165.8 3362.32,1200.6 3362.64,1201.5 3362.96,1190.5 3363.28,1201.5 3363.6,1201.5 3363.9,1215.7 3364.2,1223.2 3364.5,1211.1 3364.8,1223.2 3365.12,1223.2 3365.44,1221.6 3365.76,1213.6 3366.08,1209.8 3366.4,1206.2 3366.72,1206.2 3367.04,1206.2 3367.36,1211.5 3367.68,1233 3368,1258.9 3368.3,1247.2 3368.6,1239.1 3368.9,1225.4 3369.2,1212.4 3369.57,1224.3 3369.95,1236.1 3370.32,1247.2 3370.7,1248.1 3371.02,1248.1 3371.34,1248.1 3371.66,1255.3 3371.98,1269.1 3372.3,1282.2 3372.6,1301.7 3372.9,1290.1 3373.2,1307 3373.5,1319.5 3373.82,1331.7 3374.15,1340.6 3374.48,1340.6 3374.8,1340.6 3375.1,1349 3375.4,1349 3375.7,1342.7 3376,1349 3376.32,1336.3 3376.64,1349 3376.96,1349 3377.28,1324.2 3377.6,1324.2 3377.97,1335.1 3378.35,1350.6 3378.72,1336.3 3379.1,1350.6 3379.43,1371.7 3379.75,1368 3380.07,1376.9 3380.4,1376.9 3380.76,1367.6 3381.12,1358 3381.48,1349.4 3381.84,1317.6 3382.2,1286.9 3382.52,1294.8 3382.85,1333.4 3383.18,1350.6 3383.5,1350.6 3383.88,1364.5 3384.25,1366.1 3384.62,1366.1 3385,1366.1 3385.32,1366.1 3385.64,1366.1 3385.96,1366.1 3386.28,1373.6 3386.6,1398.6 3386.9,1398.6 3387.2,1383.9 3387.5,1383.7 3387.8,1383.2 3388.12,1402.4 3388.45,1424.2 3388.78,1405.8 3389.1,1426.6 3389.47,1418.3 3389.85,1413.6 3390.22,1406.1 3390.6,1394.1 3390.93,1414.1 3391.27,1394.1 3391.6,1405.1 3391.93,1425.9 3392.27,1428.7 3392.6,1428.7 3392.97,1435.7 3393.33,1446.9 3393.7,1450.4 3394.07,1450.4 3394.43,1450.5 3394.8,1472.2 3395.17,1476.1 3395.53,1479.3 3395.9,1484.7 3396.27,1484.7 3396.63,1482.3 3397,1484.7 3397.34,1484.7 3397.68,1484.7 3398.02,1473 3398.36,1471 3398.7,1446.6 3399.07,1454.1 3399.45,1459.5 3399.82,1460.5 3400.2,1461.3 3400.56,1485.6 3400.92,1484.8 3401.28,1495.6 3401.64,1495.6 3402,1495.6 3402.33,1481.4 3402.67,1473.3 3403,1459.1 3403.32,1445.5 3403.64,1445.5 3403.96,1445.5 3404.28,1445.5 3404.6,1445.5 3404.97,1457.8 3405.35,1463.5 3405.72,1451.9 3406.1,1463.5 3406.44,1487.9 3406.78,1493.9 3407.12,1493.9 3407.46,1490.7 3407.8,1493.9 3408.17,1499.7 3408.53,1507.6 3408.9,1510.8 3409.27,1510.8 3409.63,1510.8 3410,1510.8 3410.37,1508.7 3410.73,1508.5 3411.1,1489 3411.47,1489 3411.85,1501 3412.22,1501 3412.6,1501 3412.93,1501 3413.25,1501 3413.57,1501 3413.9,1496.6 3414.28,1513.5 3414.65,1522.2 3415.03,1507.2 3415.4,1522.2 3415.72,1529.2 3416.04,1522.2 3416.36,1529.6 3416.68,1539.3 3417,1548.3 3417.34,1548.3 3417.68,1548.3 3418.02,1548.3 3418.36,1550.3 3418.7,1559.1 3419.07,1559.1 3419.43,1559.1 3419.8,1567.3 3420.17,1559.1 3420.53,1559.1 3420.9,1567.3 3421.22,1562.1 3421.55,1534.1 3421.88,1526.3 3422.2,1518.3 3422.57,1526.7 3422.95,1528.7 3423.32,1528.7 3423.7,1528.7"/>
<rect x="190.79999999999998" y="167.7" width="3385.3" height="1499.2" fill="none" stroke="#333" stroke-width="2.2"/>
<g id="ticks">
<line x1="178.2" x2="189.7" y1="1361.00" y2="1361.00" stroke="#333" stroke-width="4.4"/>
<line x1="178.2" x2="189.7" y1="1020.50" y2="1020.50" stroke="#333" stroke-width="4.4"/>
<line x1="178.2" x2="189.7" y1="680.00" y2="680.00" stroke="#333" stroke-width="4.4"/>
<line x1="178.2" x2="189.7" y1="339.50" y2="339.50" stroke="#333" stroke-width="4.4"/>
<line y1="1668.0" y2="1679.5" x1="343.00" x2="343.00" stroke="#333" stroke-width="4.4"/>
<line y1="1668.0" y2="1679.5" x1="1196.92" x2="1196.92" stroke="#333" stroke-width="4.4"/>
<line y1="1668.0" y2="1679.5" x1="2051.08" x2="2051.08" stroke="#333" stroke-width="4.4"/>
<line y1="1668.0" y2="1679.5" x1="2905.00" x2="2905.00" stroke="#333" stroke-width="4.4"/>
</g>
<g id="labels">
<text x="169.2" y="1374.40" text-anchor="end" class="tk">0.050</text>
<text x="169.2" y="1033.90" text-anchor="end" class="tk">0.075</text>
<text x="169.2" y="693.40" text-anchor="end" class="tk">0.100</text>
<text x="169.2" y="352.90" text-anchor="end" class="tk">0.125</text>
<text x="343.00" y="1715.7" text-anchor="middle" class="tk">1990</text>
<text x="1196.92" y="1715.7" text-anchor="middle" class="tk">2000</text>
<text x="2051.08" y="1715.7" text-anchor="middle" class="tk">2010</text>
<text x="2905.00" y="1715.7" text-anchor="middle" class="tk">2020</text>
</g>
<text x="1883.5" y="1767.2" text-anchor="middle" class="ax" id="xl">Date</text>
<text transform="translate(56.4,917.5) rotate(-90)" text-anchor="middle" class="ax" id="yl">Conditional Volatility (Standard Deviation)</text>
</svg>
</body></html>
